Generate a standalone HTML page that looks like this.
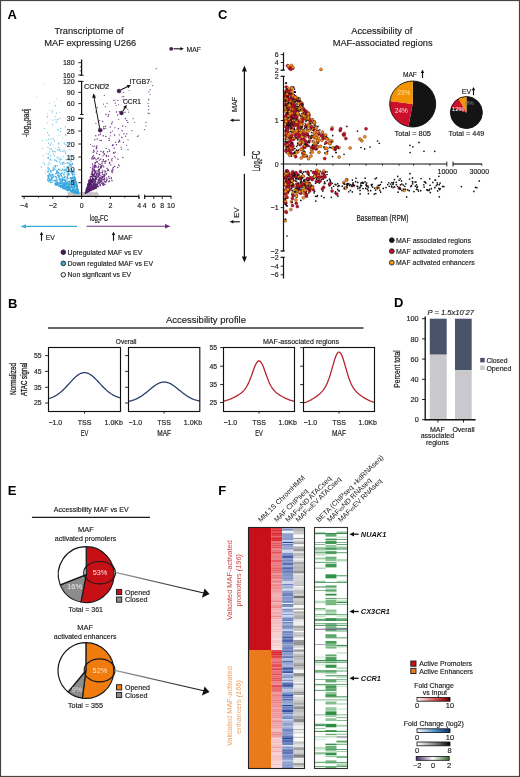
<!DOCTYPE html>
<html><head><meta charset="utf-8"><style>
html,body{margin:0;padding:0;background:#fff;}
svg{display:block;font-family:"Liberation Sans", sans-serif;will-change:transform;}
</style></head><body>
<svg width="520" height="777" viewBox="0 0 520 777">
<rect x="0.00" y="0.00" width="520.00" height="777.00" fill="#ffffff" />
<text x="7.60" y="18.70" font-size="13" text-anchor="start" fill="#000" font-weight="bold" >A</text>
<text x="217.90" y="18.70" font-size="13" text-anchor="start" fill="#000" font-weight="bold" >C</text>
<text x="7.90" y="307.50" font-size="13" text-anchor="start" fill="#000" font-weight="bold" >B</text>
<text x="394.00" y="307.30" font-size="13" text-anchor="start" fill="#000" font-weight="bold" >D</text>
<text x="7.80" y="495.10" font-size="13" text-anchor="start" fill="#000" font-weight="bold" >E</text>
<text x="218.20" y="495.10" font-size="13" text-anchor="start" fill="#000" font-weight="bold" >F</text>
<path d="M70,195.6 L74,193.2 L81.6,192.0 L90,193.0 L97,195.6 Z" fill="#d2d2d2"/>
<circle cx="80.50" cy="192.63" r="0.75" fill="#c6c6c6" />
<circle cx="92.76" cy="193.44" r="0.75" fill="#c6c6c6" />
<circle cx="79.05" cy="193.14" r="0.75" fill="#c6c6c6" />
<circle cx="84.98" cy="193.05" r="0.75" fill="#c6c6c6" />
<circle cx="71.73" cy="193.81" r="0.75" fill="#c6c6c6" />
<circle cx="84.86" cy="193.09" r="0.75" fill="#c6c6c6" />
<circle cx="84.60" cy="193.59" r="0.75" fill="#c6c6c6" />
<circle cx="96.74" cy="192.86" r="0.75" fill="#c6c6c6" />
<circle cx="97.36" cy="193.75" r="0.75" fill="#c6c6c6" />
<circle cx="83.12" cy="193.01" r="0.75" fill="#c6c6c6" />
<circle cx="89.57" cy="193.13" r="0.75" fill="#c6c6c6" />
<circle cx="78.25" cy="192.67" r="0.75" fill="#c6c6c6" />
<circle cx="78.19" cy="195.31" r="0.75" fill="#c6c6c6" />
<circle cx="97.36" cy="194.68" r="0.75" fill="#c6c6c6" />
<circle cx="68.10" cy="195.23" r="0.75" fill="#c6c6c6" />
<circle cx="94.12" cy="194.76" r="0.75" fill="#c6c6c6" />
<circle cx="73.37" cy="192.88" r="0.75" fill="#c6c6c6" />
<circle cx="80.44" cy="195.08" r="0.75" fill="#c6c6c6" />
<circle cx="85.34" cy="194.66" r="0.75" fill="#c6c6c6" />
<circle cx="74.98" cy="194.07" r="0.75" fill="#c6c6c6" />
<circle cx="89.28" cy="194.91" r="0.75" fill="#c6c6c6" />
<circle cx="92.21" cy="193.25" r="0.75" fill="#c6c6c6" />
<circle cx="94.20" cy="193.21" r="0.75" fill="#c6c6c6" />
<circle cx="92.06" cy="194.15" r="0.75" fill="#c6c6c6" />
<circle cx="73.57" cy="194.25" r="0.75" fill="#c6c6c6" />
<circle cx="83.55" cy="195.28" r="0.75" fill="#c6c6c6" />
<circle cx="69.25" cy="193.06" r="0.75" fill="#c6c6c6" />
<circle cx="97.50" cy="194.93" r="0.75" fill="#c6c6c6" />
<circle cx="72.51" cy="193.24" r="0.75" fill="#c6c6c6" />
<circle cx="84.17" cy="193.04" r="0.75" fill="#c6c6c6" />
<circle cx="77.71" cy="192.74" r="0.75" fill="#c6c6c6" />
<circle cx="89.35" cy="192.82" r="0.75" fill="#c6c6c6" />
<circle cx="97.84" cy="195.18" r="0.75" fill="#c6c6c6" />
<circle cx="91.66" cy="194.76" r="0.75" fill="#c6c6c6" />
<circle cx="79.03" cy="194.50" r="0.75" fill="#c6c6c6" />
<circle cx="90.84" cy="193.95" r="0.75" fill="#c6c6c6" />
<circle cx="69.85" cy="194.35" r="0.75" fill="#c6c6c6" />
<circle cx="77.77" cy="194.31" r="0.75" fill="#c6c6c6" />
<circle cx="80.62" cy="195.27" r="0.75" fill="#c6c6c6" />
<circle cx="74.05" cy="194.75" r="0.75" fill="#c6c6c6" />
<circle cx="88.96" cy="194.16" r="0.75" fill="#c6c6c6" />
<circle cx="70.40" cy="193.06" r="0.75" fill="#c6c6c6" />
<circle cx="97.02" cy="193.25" r="0.75" fill="#c6c6c6" />
<circle cx="72.91" cy="193.41" r="0.75" fill="#c6c6c6" />
<circle cx="84.11" cy="194.05" r="0.75" fill="#c6c6c6" />
<circle cx="68.10" cy="192.61" r="0.75" fill="#c6c6c6" />
<circle cx="82.88" cy="193.12" r="0.75" fill="#c6c6c6" />
<circle cx="86.23" cy="194.84" r="0.75" fill="#c6c6c6" />
<circle cx="70.88" cy="194.01" r="0.75" fill="#c6c6c6" />
<circle cx="80.18" cy="194.81" r="0.75" fill="#c6c6c6" />
<circle cx="96.64" cy="193.77" r="0.75" fill="#c6c6c6" />
<circle cx="75.30" cy="195.06" r="0.75" fill="#c6c6c6" />
<circle cx="68.82" cy="193.53" r="0.75" fill="#c6c6c6" />
<circle cx="79.84" cy="193.10" r="0.75" fill="#c6c6c6" />
<circle cx="88.40" cy="194.05" r="0.75" fill="#c6c6c6" />
<circle cx="75.47" cy="193.76" r="0.75" fill="#c6c6c6" />
<circle cx="88.76" cy="193.51" r="0.75" fill="#c6c6c6" />
<circle cx="70.03" cy="193.89" r="0.75" fill="#c6c6c6" />
<circle cx="73.85" cy="194.34" r="0.75" fill="#c6c6c6" />
<circle cx="74.06" cy="192.98" r="0.75" fill="#c6c6c6" />
<circle cx="94.82" cy="193.52" r="0.75" fill="#c6c6c6" />
<circle cx="76.77" cy="194.11" r="0.75" fill="#c6c6c6" />
<circle cx="88.80" cy="194.48" r="0.75" fill="#c6c6c6" />
<circle cx="91.95" cy="193.33" r="0.75" fill="#c6c6c6" />
<circle cx="80.81" cy="193.62" r="0.75" fill="#c6c6c6" />
<circle cx="83.50" cy="194.21" r="0.75" fill="#c6c6c6" />
<circle cx="86.88" cy="192.79" r="0.75" fill="#c6c6c6" />
<circle cx="79.14" cy="194.58" r="0.75" fill="#c6c6c6" />
<circle cx="69.06" cy="194.69" r="0.75" fill="#c6c6c6" />
<circle cx="88.58" cy="193.73" r="0.75" fill="#c6c6c6" />
<circle cx="81.48" cy="193.34" r="0.75" fill="#c6c6c6" />
<circle cx="90.12" cy="193.95" r="0.75" fill="#c6c6c6" />
<circle cx="75.95" cy="192.68" r="0.75" fill="#c6c6c6" />
<circle cx="78.35" cy="195.18" r="0.75" fill="#c6c6c6" />
<circle cx="88.28" cy="194.35" r="0.75" fill="#c6c6c6" />
<circle cx="96.02" cy="192.69" r="0.75" fill="#c6c6c6" />
<circle cx="86.07" cy="193.13" r="0.75" fill="#c6c6c6" />
<circle cx="79.91" cy="193.11" r="0.75" fill="#c6c6c6" />
<circle cx="78.47" cy="195.12" r="0.75" fill="#c6c6c6" />
<circle cx="89.76" cy="194.97" r="0.75" fill="#c6c6c6" />
<circle cx="70.26" cy="193.44" r="0.75" fill="#c6c6c6" />
<circle cx="91.52" cy="192.71" r="0.75" fill="#c6c6c6" />
<circle cx="73.69" cy="192.83" r="0.75" fill="#c6c6c6" />
<circle cx="92.53" cy="193.25" r="0.75" fill="#c6c6c6" />
<circle cx="80.73" cy="192.64" r="0.75" fill="#c6c6c6" />
<circle cx="71.41" cy="194.04" r="0.75" fill="#c6c6c6" />
<circle cx="91.74" cy="193.55" r="0.75" fill="#c6c6c6" />
<circle cx="77.58" cy="192.71" r="0.75" fill="#c6c6c6" />
<circle cx="70.99" cy="193.02" r="0.75" fill="#c6c6c6" />
<circle cx="74.19" cy="194.20" r="0.75" fill="#c6c6c6" />
<circle cx="78.77" cy="195.34" r="0.75" fill="#c6c6c6" />
<circle cx="76.52" cy="195.00" r="0.75" fill="#c6c6c6" />
<circle cx="70.75" cy="194.08" r="0.75" fill="#c6c6c6" />
<circle cx="84.48" cy="194.44" r="0.75" fill="#c6c6c6" />
<circle cx="80.30" cy="194.07" r="0.75" fill="#c6c6c6" />
<circle cx="91.33" cy="193.02" r="0.75" fill="#c6c6c6" />
<circle cx="83.95" cy="194.25" r="0.75" fill="#c6c6c6" />
<circle cx="91.45" cy="193.06" r="0.75" fill="#c6c6c6" />
<circle cx="80.44" cy="192.67" r="0.75" fill="#c6c6c6" />
<circle cx="87.88" cy="195.03" r="0.75" fill="#c6c6c6" />
<circle cx="78.61" cy="194.89" r="0.75" fill="#c6c6c6" />
<circle cx="87.74" cy="192.65" r="0.75" fill="#c6c6c6" />
<circle cx="82.11" cy="192.73" r="0.75" fill="#c6c6c6" />
<circle cx="77.40" cy="194.84" r="0.75" fill="#c6c6c6" />
<circle cx="71.76" cy="194.18" r="0.75" fill="#c6c6c6" />
<circle cx="69.70" cy="192.91" r="0.75" fill="#c6c6c6" />
<circle cx="96.56" cy="192.87" r="0.75" fill="#c6c6c6" />
<circle cx="73.22" cy="195.23" r="0.75" fill="#c6c6c6" />
<circle cx="77.27" cy="193.21" r="0.75" fill="#c6c6c6" />
<circle cx="70.89" cy="194.00" r="0.75" fill="#c6c6c6" />
<circle cx="69.77" cy="193.22" r="0.75" fill="#c6c6c6" />
<circle cx="74.66" cy="194.69" r="0.75" fill="#c6c6c6" />
<circle cx="72.86" cy="194.25" r="0.75" fill="#c6c6c6" />
<circle cx="75.25" cy="195.38" r="0.75" fill="#c6c6c6" />
<circle cx="97.72" cy="195.19" r="0.75" fill="#c6c6c6" />
<circle cx="95.00" cy="194.15" r="0.75" fill="#c6c6c6" />
<circle cx="95.93" cy="194.39" r="0.75" fill="#c6c6c6" />
<circle cx="72.78" cy="194.65" r="0.75" fill="#c6c6c6" />
<circle cx="93.48" cy="192.64" r="0.75" fill="#c6c6c6" />
<circle cx="73.85" cy="194.80" r="0.75" fill="#c6c6c6" />
<circle cx="91.04" cy="194.17" r="0.75" fill="#c6c6c6" />
<circle cx="71.67" cy="193.34" r="0.75" fill="#c6c6c6" />
<circle cx="75.07" cy="195.35" r="0.75" fill="#c6c6c6" />
<circle cx="74.76" cy="193.64" r="0.75" fill="#c6c6c6" />
<circle cx="88.67" cy="194.46" r="0.75" fill="#c6c6c6" />
<circle cx="84.87" cy="194.42" r="0.75" fill="#c6c6c6" />
<circle cx="93.95" cy="195.16" r="0.75" fill="#c6c6c6" />
<circle cx="71.25" cy="192.68" r="0.75" fill="#c6c6c6" />
<circle cx="95.41" cy="195.15" r="0.75" fill="#c6c6c6" />
<circle cx="79.04" cy="193.72" r="0.75" fill="#c6c6c6" />
<circle cx="88.55" cy="193.78" r="0.75" fill="#c6c6c6" />
<circle cx="71.33" cy="193.30" r="0.75" fill="#c6c6c6" />
<circle cx="77.11" cy="194.19" r="0.75" fill="#c6c6c6" />
<circle cx="73.14" cy="194.64" r="0.75" fill="#c6c6c6" />
<circle cx="97.09" cy="193.68" r="0.75" fill="#c6c6c6" />
<circle cx="85.11" cy="194.38" r="0.75" fill="#c6c6c6" />
<circle cx="91.94" cy="194.36" r="0.75" fill="#c6c6c6" />
<circle cx="83.50" cy="194.62" r="0.75" fill="#c6c6c6" />
<circle cx="68.71" cy="195.23" r="0.75" fill="#c6c6c6" />
<circle cx="94.96" cy="194.54" r="0.75" fill="#c6c6c6" />
<circle cx="74.05" cy="194.35" r="0.75" fill="#c6c6c6" />
<circle cx="68.84" cy="193.71" r="0.75" fill="#c6c6c6" />
<circle cx="74.46" cy="194.17" r="0.75" fill="#c6c6c6" />
<circle cx="75.51" cy="192.86" r="0.75" fill="#c6c6c6" />
<circle cx="91.82" cy="193.30" r="0.75" fill="#c6c6c6" />
<circle cx="84.79" cy="192.65" r="0.75" fill="#c6c6c6" />
<circle cx="84.90" cy="194.81" r="0.75" fill="#c6c6c6" />
<circle cx="91.55" cy="193.52" r="0.75" fill="#c6c6c6" />
<circle cx="71.85" cy="194.31" r="0.75" fill="#c6c6c6" />
<circle cx="77.20" cy="193.40" r="0.75" fill="#c6c6c6" />
<circle cx="74.30" cy="193.70" r="0.75" fill="#c6c6c6" />
<circle cx="88.47" cy="193.72" r="0.75" fill="#c6c6c6" />
<circle cx="87.39" cy="194.64" r="0.75" fill="#c6c6c6" />
<circle cx="92.31" cy="194.20" r="0.75" fill="#c6c6c6" />
<circle cx="97.71" cy="194.01" r="0.75" fill="#c6c6c6" />
<circle cx="84.12" cy="194.44" r="0.75" fill="#c6c6c6" />
<circle cx="97.14" cy="194.57" r="0.75" fill="#c6c6c6" />
<circle cx="95.51" cy="193.04" r="0.75" fill="#c6c6c6" />
<circle cx="80.66" cy="194.57" r="0.75" fill="#c6c6c6" />
<circle cx="89.98" cy="194.92" r="0.75" fill="#c6c6c6" />
<circle cx="75.99" cy="193.48" r="0.75" fill="#c6c6c6" />
<circle cx="80.38" cy="193.70" r="0.75" fill="#c6c6c6" />
<circle cx="70.78" cy="193.69" r="0.75" fill="#c6c6c6" />
<circle cx="87.27" cy="194.67" r="0.75" fill="#c6c6c6" />
<circle cx="74.90" cy="194.34" r="0.75" fill="#c6c6c6" />
<circle cx="90.53" cy="193.04" r="0.75" fill="#c6c6c6" />
<circle cx="68.43" cy="193.05" r="0.75" fill="#c6c6c6" />
<circle cx="88.37" cy="195.16" r="0.75" fill="#c6c6c6" />
<circle cx="79.62" cy="193.47" r="0.75" fill="#c6c6c6" />
<circle cx="86.82" cy="193.49" r="0.75" fill="#c6c6c6" />
<circle cx="51.43" cy="142.89" r="0.72" fill="#7cc6e8" />
<circle cx="66.94" cy="183.70" r="0.72" fill="#34a6dc" />
<circle cx="49.15" cy="162.61" r="0.72" fill="#7cc6e8" />
<circle cx="72.05" cy="170.45" r="0.72" fill="#4cb1e0" />
<circle cx="74.21" cy="176.44" r="0.72" fill="#34a6dc" />
<circle cx="53.31" cy="138.74" r="0.72" fill="#7cc6e8" />
<circle cx="72.46" cy="191.97" r="0.72" fill="#34a6dc" />
<circle cx="72.33" cy="189.67" r="0.72" fill="#34a6dc" />
<circle cx="74.47" cy="187.67" r="0.72" fill="#34a6dc" />
<circle cx="55.56" cy="181.74" r="0.72" fill="#4cb1e0" />
<circle cx="50.07" cy="175.06" r="0.72" fill="#4cb1e0" />
<circle cx="71.07" cy="164.18" r="0.72" fill="#4cb1e0" />
<circle cx="71.16" cy="171.71" r="0.72" fill="#4cb1e0" />
<circle cx="73.46" cy="184.90" r="0.72" fill="#34a6dc" />
<circle cx="49.91" cy="182.03" r="0.72" fill="#4cb1e0" />
<circle cx="50.85" cy="170.84" r="0.72" fill="#4cb1e0" />
<circle cx="59.82" cy="186.17" r="0.72" fill="#34a6dc" />
<circle cx="72.36" cy="188.88" r="0.72" fill="#34a6dc" />
<circle cx="76.11" cy="192.92" r="0.72" fill="#34a6dc" />
<circle cx="65.29" cy="185.35" r="0.72" fill="#34a6dc" />
<circle cx="67.83" cy="190.01" r="0.72" fill="#34a6dc" />
<circle cx="48.45" cy="177.39" r="0.72" fill="#4cb1e0" />
<circle cx="61.22" cy="179.60" r="0.72" fill="#34a6dc" />
<circle cx="65.23" cy="163.40" r="0.72" fill="#4cb1e0" />
<circle cx="68.19" cy="162.91" r="0.72" fill="#4cb1e0" />
<circle cx="73.61" cy="189.46" r="0.72" fill="#34a6dc" />
<circle cx="48.80" cy="178.01" r="0.72" fill="#4cb1e0" />
<circle cx="73.23" cy="178.90" r="0.72" fill="#34a6dc" />
<circle cx="53.22" cy="167.76" r="0.72" fill="#4cb1e0" />
<circle cx="78.75" cy="193.03" r="0.72" fill="#34a6dc" />
<circle cx="65.19" cy="181.49" r="0.72" fill="#34a6dc" />
<circle cx="65.80" cy="188.09" r="0.72" fill="#34a6dc" />
<circle cx="75.39" cy="190.26" r="0.72" fill="#34a6dc" />
<circle cx="65.90" cy="169.40" r="0.72" fill="#4cb1e0" />
<circle cx="53.18" cy="176.10" r="0.72" fill="#4cb1e0" />
<circle cx="56.42" cy="113.23" r="0.72" fill="#7cc6e8" />
<circle cx="59.33" cy="179.74" r="0.72" fill="#4cb1e0" />
<circle cx="64.63" cy="184.65" r="0.72" fill="#34a6dc" />
<circle cx="76.16" cy="185.55" r="0.72" fill="#34a6dc" />
<circle cx="70.88" cy="178.73" r="0.72" fill="#34a6dc" />
<circle cx="72.86" cy="182.20" r="0.72" fill="#34a6dc" />
<circle cx="63.00" cy="177.79" r="0.72" fill="#4cb1e0" />
<circle cx="57.12" cy="179.61" r="0.72" fill="#4cb1e0" />
<circle cx="62.60" cy="177.57" r="0.72" fill="#4cb1e0" />
<circle cx="62.57" cy="185.79" r="0.72" fill="#34a6dc" />
<circle cx="61.22" cy="182.41" r="0.72" fill="#34a6dc" />
<circle cx="74.83" cy="180.16" r="0.72" fill="#34a6dc" />
<circle cx="73.43" cy="192.05" r="0.72" fill="#34a6dc" />
<circle cx="64.60" cy="183.94" r="0.72" fill="#34a6dc" />
<circle cx="69.78" cy="188.72" r="0.72" fill="#34a6dc" />
<circle cx="66.34" cy="187.55" r="0.72" fill="#34a6dc" />
<circle cx="70.61" cy="189.02" r="0.72" fill="#34a6dc" />
<circle cx="67.76" cy="187.90" r="0.72" fill="#34a6dc" />
<circle cx="51.05" cy="182.43" r="0.72" fill="#4cb1e0" />
<circle cx="69.75" cy="188.95" r="0.72" fill="#34a6dc" />
<circle cx="65.87" cy="184.21" r="0.72" fill="#34a6dc" />
<circle cx="67.72" cy="189.83" r="0.72" fill="#34a6dc" />
<circle cx="62.84" cy="186.18" r="0.72" fill="#34a6dc" />
<circle cx="77.46" cy="193.28" r="0.72" fill="#34a6dc" />
<circle cx="71.20" cy="159.39" r="0.72" fill="#7cc6e8" />
<circle cx="67.34" cy="166.64" r="0.72" fill="#4cb1e0" />
<circle cx="69.01" cy="183.89" r="0.72" fill="#34a6dc" />
<circle cx="59.96" cy="175.66" r="0.72" fill="#4cb1e0" />
<circle cx="56.17" cy="160.52" r="0.72" fill="#7cc6e8" />
<circle cx="68.08" cy="175.02" r="0.72" fill="#4cb1e0" />
<circle cx="62.80" cy="182.35" r="0.72" fill="#34a6dc" />
<circle cx="47.85" cy="172.06" r="0.72" fill="#4cb1e0" />
<circle cx="59.17" cy="177.77" r="0.72" fill="#4cb1e0" />
<circle cx="72.68" cy="184.44" r="0.72" fill="#34a6dc" />
<circle cx="70.54" cy="156.56" r="0.72" fill="#7cc6e8" />
<circle cx="63.60" cy="185.47" r="0.72" fill="#34a6dc" />
<circle cx="68.93" cy="183.86" r="0.72" fill="#34a6dc" />
<circle cx="58.18" cy="176.72" r="0.72" fill="#4cb1e0" />
<circle cx="68.24" cy="172.92" r="0.72" fill="#4cb1e0" />
<circle cx="66.00" cy="145.03" r="0.72" fill="#7cc6e8" />
<circle cx="73.79" cy="191.22" r="0.72" fill="#34a6dc" />
<circle cx="73.82" cy="190.17" r="0.72" fill="#34a6dc" />
<circle cx="74.22" cy="190.39" r="0.72" fill="#34a6dc" />
<circle cx="68.79" cy="187.71" r="0.72" fill="#34a6dc" />
<circle cx="76.64" cy="187.01" r="0.72" fill="#34a6dc" />
<circle cx="48.18" cy="158.41" r="0.72" fill="#7cc6e8" />
<circle cx="71.61" cy="166.09" r="0.72" fill="#4cb1e0" />
<circle cx="56.01" cy="184.83" r="0.72" fill="#34a6dc" />
<circle cx="70.62" cy="177.77" r="0.72" fill="#34a6dc" />
<circle cx="71.42" cy="191.05" r="0.72" fill="#34a6dc" />
<circle cx="70.49" cy="189.12" r="0.72" fill="#34a6dc" />
<circle cx="66.14" cy="170.76" r="0.72" fill="#4cb1e0" />
<circle cx="73.51" cy="182.57" r="0.72" fill="#34a6dc" />
<circle cx="76.66" cy="184.41" r="0.72" fill="#34a6dc" />
<circle cx="69.83" cy="160.21" r="0.72" fill="#7cc6e8" />
<circle cx="77.08" cy="189.42" r="0.72" fill="#34a6dc" />
<circle cx="62.00" cy="183.15" r="0.72" fill="#34a6dc" />
<circle cx="77.41" cy="192.39" r="0.72" fill="#34a6dc" />
<circle cx="76.75" cy="188.03" r="0.72" fill="#34a6dc" />
<circle cx="76.74" cy="185.84" r="0.72" fill="#34a6dc" />
<circle cx="72.26" cy="190.95" r="0.72" fill="#34a6dc" />
<circle cx="64.07" cy="183.03" r="0.72" fill="#34a6dc" />
<circle cx="72.74" cy="189.17" r="0.72" fill="#34a6dc" />
<circle cx="69.72" cy="187.40" r="0.72" fill="#34a6dc" />
<circle cx="57.50" cy="149.65" r="0.72" fill="#7cc6e8" />
<circle cx="56.36" cy="177.48" r="0.72" fill="#4cb1e0" />
<circle cx="65.27" cy="188.28" r="0.72" fill="#34a6dc" />
<circle cx="67.17" cy="182.59" r="0.72" fill="#34a6dc" />
<circle cx="60.66" cy="180.87" r="0.72" fill="#34a6dc" />
<circle cx="54.41" cy="165.96" r="0.72" fill="#7cc6e8" />
<circle cx="51.82" cy="177.05" r="0.72" fill="#4cb1e0" />
<circle cx="68.48" cy="190.54" r="0.72" fill="#34a6dc" />
<circle cx="63.12" cy="180.62" r="0.72" fill="#34a6dc" />
<circle cx="72.04" cy="170.12" r="0.72" fill="#4cb1e0" />
<circle cx="59.75" cy="179.25" r="0.72" fill="#4cb1e0" />
<circle cx="66.85" cy="168.02" r="0.72" fill="#4cb1e0" />
<circle cx="50.98" cy="139.17" r="0.72" fill="#7cc6e8" />
<circle cx="75.64" cy="180.75" r="0.72" fill="#34a6dc" />
<circle cx="67.59" cy="186.66" r="0.72" fill="#34a6dc" />
<circle cx="66.80" cy="190.00" r="0.72" fill="#34a6dc" />
<circle cx="76.97" cy="188.82" r="0.72" fill="#34a6dc" />
<circle cx="52.11" cy="182.37" r="0.72" fill="#4cb1e0" />
<circle cx="65.00" cy="169.11" r="0.72" fill="#4cb1e0" />
<circle cx="67.95" cy="190.18" r="0.72" fill="#34a6dc" />
<circle cx="61.48" cy="170.60" r="0.72" fill="#4cb1e0" />
<circle cx="66.29" cy="188.89" r="0.72" fill="#34a6dc" />
<circle cx="65.27" cy="185.95" r="0.72" fill="#34a6dc" />
<circle cx="62.52" cy="187.18" r="0.72" fill="#34a6dc" />
<circle cx="63.01" cy="184.99" r="0.72" fill="#34a6dc" />
<circle cx="68.65" cy="183.84" r="0.72" fill="#34a6dc" />
<circle cx="64.51" cy="177.71" r="0.72" fill="#34a6dc" />
<circle cx="64.98" cy="186.32" r="0.72" fill="#34a6dc" />
<circle cx="49.93" cy="179.44" r="0.72" fill="#4cb1e0" />
<circle cx="55.11" cy="183.52" r="0.72" fill="#4cb1e0" />
<circle cx="75.42" cy="190.13" r="0.72" fill="#34a6dc" />
<circle cx="68.21" cy="173.73" r="0.72" fill="#4cb1e0" />
<circle cx="48.12" cy="175.31" r="0.72" fill="#4cb1e0" />
<circle cx="55.41" cy="183.06" r="0.72" fill="#4cb1e0" />
<circle cx="75.84" cy="189.23" r="0.72" fill="#34a6dc" />
<circle cx="73.61" cy="192.54" r="0.72" fill="#34a6dc" />
<circle cx="76.44" cy="182.13" r="0.72" fill="#34a6dc" />
<circle cx="68.65" cy="187.33" r="0.72" fill="#34a6dc" />
<circle cx="71.98" cy="191.01" r="0.72" fill="#34a6dc" />
<circle cx="67.31" cy="190.08" r="0.72" fill="#34a6dc" />
<circle cx="48.78" cy="169.93" r="0.72" fill="#4cb1e0" />
<circle cx="66.99" cy="187.68" r="0.72" fill="#34a6dc" />
<circle cx="55.81" cy="185.13" r="0.72" fill="#34a6dc" />
<circle cx="61.55" cy="186.21" r="0.72" fill="#34a6dc" />
<circle cx="47.67" cy="175.94" r="0.72" fill="#4cb1e0" />
<circle cx="65.23" cy="179.98" r="0.72" fill="#34a6dc" />
<circle cx="65.71" cy="189.09" r="0.72" fill="#34a6dc" />
<circle cx="74.12" cy="179.56" r="0.72" fill="#34a6dc" />
<circle cx="58.85" cy="185.68" r="0.72" fill="#34a6dc" />
<circle cx="47.55" cy="168.15" r="0.72" fill="#7cc6e8" />
<circle cx="54.36" cy="140.66" r="0.72" fill="#7cc6e8" />
<circle cx="48.14" cy="157.62" r="0.72" fill="#7cc6e8" />
<circle cx="54.45" cy="180.63" r="0.72" fill="#4cb1e0" />
<circle cx="52.02" cy="174.93" r="0.72" fill="#4cb1e0" />
<circle cx="75.48" cy="192.31" r="0.72" fill="#34a6dc" />
<circle cx="58.97" cy="184.55" r="0.72" fill="#34a6dc" />
<circle cx="71.33" cy="183.29" r="0.72" fill="#34a6dc" />
<circle cx="78.07" cy="191.42" r="0.72" fill="#34a6dc" />
<circle cx="56.85" cy="182.17" r="0.72" fill="#4cb1e0" />
<circle cx="60.70" cy="128.41" r="0.72" fill="#7cc6e8" />
<circle cx="76.12" cy="191.76" r="0.72" fill="#34a6dc" />
<circle cx="76.25" cy="189.42" r="0.72" fill="#34a6dc" />
<circle cx="71.62" cy="182.03" r="0.72" fill="#34a6dc" />
<circle cx="60.33" cy="183.65" r="0.72" fill="#34a6dc" />
<circle cx="69.91" cy="190.08" r="0.72" fill="#34a6dc" />
<circle cx="66.65" cy="171.07" r="0.72" fill="#4cb1e0" />
<circle cx="53.16" cy="180.86" r="0.72" fill="#4cb1e0" />
<circle cx="68.97" cy="174.71" r="0.72" fill="#4cb1e0" />
<circle cx="72.51" cy="163.38" r="0.72" fill="#4cb1e0" />
<circle cx="66.35" cy="186.18" r="0.72" fill="#34a6dc" />
<circle cx="50.97" cy="179.09" r="0.72" fill="#4cb1e0" />
<circle cx="65.01" cy="151.86" r="0.72" fill="#7cc6e8" />
<circle cx="65.78" cy="182.05" r="0.72" fill="#34a6dc" />
<circle cx="48.25" cy="178.43" r="0.72" fill="#4cb1e0" />
<circle cx="65.85" cy="183.79" r="0.72" fill="#34a6dc" />
<circle cx="60.41" cy="185.40" r="0.72" fill="#34a6dc" />
<circle cx="70.34" cy="160.20" r="0.72" fill="#7cc6e8" />
<circle cx="72.23" cy="164.56" r="0.72" fill="#4cb1e0" />
<circle cx="57.35" cy="184.46" r="0.72" fill="#34a6dc" />
<circle cx="52.18" cy="175.09" r="0.72" fill="#4cb1e0" />
<circle cx="74.86" cy="177.44" r="0.72" fill="#34a6dc" />
<circle cx="60.70" cy="187.02" r="0.72" fill="#34a6dc" />
<circle cx="52.86" cy="170.28" r="0.72" fill="#4cb1e0" />
<circle cx="68.17" cy="170.78" r="0.72" fill="#4cb1e0" />
<circle cx="74.58" cy="179.39" r="0.72" fill="#34a6dc" />
<circle cx="48.61" cy="176.74" r="0.72" fill="#4cb1e0" />
<circle cx="75.77" cy="189.84" r="0.72" fill="#34a6dc" />
<circle cx="61.73" cy="176.87" r="0.72" fill="#4cb1e0" />
<circle cx="75.54" cy="186.00" r="0.72" fill="#34a6dc" />
<circle cx="52.26" cy="174.81" r="0.72" fill="#4cb1e0" />
<circle cx="49.30" cy="180.37" r="0.72" fill="#4cb1e0" />
<circle cx="76.36" cy="193.10" r="0.72" fill="#34a6dc" />
<circle cx="74.21" cy="187.32" r="0.72" fill="#34a6dc" />
<circle cx="76.16" cy="186.39" r="0.72" fill="#34a6dc" />
<circle cx="64.08" cy="170.06" r="0.72" fill="#4cb1e0" />
<circle cx="71.63" cy="186.87" r="0.72" fill="#34a6dc" />
<circle cx="54.97" cy="160.47" r="0.72" fill="#7cc6e8" />
<circle cx="48.54" cy="177.90" r="0.72" fill="#4cb1e0" />
<circle cx="59.78" cy="183.34" r="0.72" fill="#34a6dc" />
<circle cx="61.97" cy="181.33" r="0.72" fill="#34a6dc" />
<circle cx="70.90" cy="168.78" r="0.72" fill="#4cb1e0" />
<circle cx="71.52" cy="169.45" r="0.72" fill="#4cb1e0" />
<circle cx="59.81" cy="118.20" r="0.72" fill="#7cc6e8" />
<circle cx="74.71" cy="185.51" r="0.72" fill="#34a6dc" />
<circle cx="48.67" cy="175.20" r="0.72" fill="#4cb1e0" />
<circle cx="57.67" cy="171.05" r="0.72" fill="#4cb1e0" />
<circle cx="52.60" cy="174.52" r="0.72" fill="#4cb1e0" />
<circle cx="52.48" cy="150.66" r="0.72" fill="#7cc6e8" />
<circle cx="49.84" cy="149.04" r="0.72" fill="#7cc6e8" />
<circle cx="71.41" cy="184.46" r="0.72" fill="#34a6dc" />
<circle cx="56.19" cy="177.21" r="0.72" fill="#4cb1e0" />
<circle cx="48.80" cy="180.53" r="0.72" fill="#4cb1e0" />
<circle cx="52.20" cy="174.20" r="0.72" fill="#4cb1e0" />
<circle cx="60.32" cy="181.09" r="0.72" fill="#34a6dc" />
<circle cx="77.21" cy="186.44" r="0.72" fill="#34a6dc" />
<circle cx="67.47" cy="166.70" r="0.72" fill="#4cb1e0" />
<circle cx="58.38" cy="172.39" r="0.72" fill="#4cb1e0" />
<circle cx="75.35" cy="181.62" r="0.72" fill="#34a6dc" />
<circle cx="57.99" cy="184.74" r="0.72" fill="#34a6dc" />
<circle cx="56.70" cy="172.71" r="0.72" fill="#4cb1e0" />
<circle cx="65.27" cy="126.89" r="0.72" fill="#7cc6e8" />
<circle cx="64.52" cy="188.04" r="0.72" fill="#34a6dc" />
<circle cx="69.19" cy="184.86" r="0.72" fill="#34a6dc" />
<circle cx="67.52" cy="172.15" r="0.72" fill="#4cb1e0" />
<circle cx="77.16" cy="188.87" r="0.72" fill="#34a6dc" />
<circle cx="72.92" cy="189.82" r="0.72" fill="#34a6dc" />
<circle cx="68.05" cy="188.80" r="0.72" fill="#34a6dc" />
<circle cx="60.99" cy="159.18" r="0.72" fill="#7cc6e8" />
<circle cx="57.82" cy="183.37" r="0.72" fill="#34a6dc" />
<circle cx="70.97" cy="190.92" r="0.72" fill="#34a6dc" />
<circle cx="68.73" cy="188.95" r="0.72" fill="#34a6dc" />
<circle cx="70.52" cy="190.24" r="0.72" fill="#34a6dc" />
<circle cx="67.34" cy="188.01" r="0.72" fill="#34a6dc" />
<circle cx="48.81" cy="176.54" r="0.72" fill="#4cb1e0" />
<circle cx="61.69" cy="185.88" r="0.72" fill="#34a6dc" />
<circle cx="71.80" cy="191.92" r="0.72" fill="#34a6dc" />
<circle cx="55.23" cy="165.49" r="0.72" fill="#7cc6e8" />
<circle cx="66.05" cy="171.85" r="0.72" fill="#4cb1e0" />
<circle cx="63.19" cy="156.62" r="0.72" fill="#7cc6e8" />
<circle cx="76.86" cy="189.48" r="0.72" fill="#34a6dc" />
<circle cx="67.06" cy="180.99" r="0.72" fill="#34a6dc" />
<circle cx="58.99" cy="176.66" r="0.72" fill="#4cb1e0" />
<circle cx="76.65" cy="187.24" r="0.72" fill="#34a6dc" />
<circle cx="62.48" cy="163.96" r="0.72" fill="#4cb1e0" />
<circle cx="56.03" cy="183.75" r="0.72" fill="#34a6dc" />
<circle cx="77.70" cy="190.19" r="0.72" fill="#34a6dc" />
<circle cx="56.63" cy="173.19" r="0.72" fill="#4cb1e0" />
<circle cx="56.77" cy="180.98" r="0.72" fill="#4cb1e0" />
<circle cx="71.78" cy="178.75" r="0.72" fill="#34a6dc" />
<circle cx="74.85" cy="181.23" r="0.72" fill="#34a6dc" />
<circle cx="70.82" cy="187.62" r="0.72" fill="#34a6dc" />
<circle cx="77.81" cy="192.45" r="0.72" fill="#34a6dc" />
<circle cx="59.14" cy="186.29" r="0.72" fill="#34a6dc" />
<circle cx="74.82" cy="174.68" r="0.72" fill="#34a6dc" />
<circle cx="67.59" cy="189.85" r="0.72" fill="#34a6dc" />
<circle cx="59.29" cy="175.75" r="0.72" fill="#4cb1e0" />
<circle cx="74.74" cy="192.19" r="0.72" fill="#34a6dc" />
<circle cx="69.54" cy="158.53" r="0.72" fill="#7cc6e8" />
<circle cx="74.46" cy="186.69" r="0.72" fill="#34a6dc" />
<circle cx="60.83" cy="164.10" r="0.72" fill="#4cb1e0" />
<circle cx="66.83" cy="159.76" r="0.72" fill="#7cc6e8" />
<circle cx="68.75" cy="186.10" r="0.72" fill="#34a6dc" />
<circle cx="63.14" cy="170.61" r="0.72" fill="#4cb1e0" />
<circle cx="65.16" cy="184.34" r="0.72" fill="#34a6dc" />
<circle cx="67.89" cy="186.41" r="0.72" fill="#34a6dc" />
<circle cx="50.73" cy="176.57" r="0.72" fill="#4cb1e0" />
<circle cx="61.44" cy="175.15" r="0.72" fill="#4cb1e0" />
<circle cx="72.55" cy="174.43" r="0.72" fill="#4cb1e0" />
<circle cx="72.63" cy="191.86" r="0.72" fill="#34a6dc" />
<circle cx="65.40" cy="180.46" r="0.72" fill="#34a6dc" />
<circle cx="67.23" cy="162.96" r="0.72" fill="#4cb1e0" />
<circle cx="60.37" cy="183.52" r="0.72" fill="#34a6dc" />
<circle cx="66.50" cy="169.66" r="0.72" fill="#4cb1e0" />
<circle cx="70.23" cy="164.42" r="0.72" fill="#4cb1e0" />
<circle cx="70.97" cy="171.89" r="0.72" fill="#4cb1e0" />
<circle cx="77.34" cy="193.08" r="0.72" fill="#34a6dc" />
<circle cx="51.39" cy="148.93" r="0.72" fill="#7cc6e8" />
<circle cx="73.84" cy="191.27" r="0.72" fill="#34a6dc" />
<circle cx="49.36" cy="173.20" r="0.72" fill="#4cb1e0" />
<circle cx="58.71" cy="176.48" r="0.72" fill="#4cb1e0" />
<circle cx="71.25" cy="161.42" r="0.72" fill="#4cb1e0" />
<circle cx="67.98" cy="187.81" r="0.72" fill="#34a6dc" />
<circle cx="62.84" cy="183.25" r="0.72" fill="#34a6dc" />
<circle cx="60.77" cy="151.24" r="0.72" fill="#7cc6e8" />
<circle cx="77.37" cy="191.46" r="0.72" fill="#34a6dc" />
<circle cx="71.23" cy="185.63" r="0.72" fill="#34a6dc" />
<circle cx="64.17" cy="166.87" r="0.72" fill="#4cb1e0" />
<circle cx="72.51" cy="178.80" r="0.72" fill="#34a6dc" />
<circle cx="65.57" cy="183.71" r="0.72" fill="#34a6dc" />
<circle cx="72.71" cy="187.89" r="0.72" fill="#34a6dc" />
<circle cx="56.62" cy="184.64" r="0.72" fill="#34a6dc" />
<circle cx="60.38" cy="131.47" r="0.72" fill="#7cc6e8" />
<circle cx="75.02" cy="192.29" r="0.72" fill="#34a6dc" />
<circle cx="71.16" cy="186.42" r="0.72" fill="#34a6dc" />
<circle cx="62.88" cy="188.52" r="0.72" fill="#34a6dc" />
<circle cx="51.71" cy="179.33" r="0.72" fill="#4cb1e0" />
<circle cx="67.37" cy="186.13" r="0.72" fill="#34a6dc" />
<circle cx="57.63" cy="175.23" r="0.72" fill="#4cb1e0" />
<circle cx="64.85" cy="184.90" r="0.72" fill="#34a6dc" />
<circle cx="55.18" cy="184.27" r="0.72" fill="#4cb1e0" />
<circle cx="62.25" cy="179.03" r="0.72" fill="#34a6dc" />
<circle cx="74.97" cy="177.62" r="0.72" fill="#34a6dc" />
<circle cx="77.46" cy="189.89" r="0.72" fill="#34a6dc" />
<circle cx="48.41" cy="180.66" r="0.72" fill="#4cb1e0" />
<circle cx="56.94" cy="183.38" r="0.72" fill="#34a6dc" />
<circle cx="60.83" cy="162.48" r="0.72" fill="#7cc6e8" />
<circle cx="57.69" cy="157.26" r="0.72" fill="#7cc6e8" />
<circle cx="68.86" cy="143.79" r="0.72" fill="#7cc6e8" />
<circle cx="73.94" cy="177.35" r="0.72" fill="#34a6dc" />
<circle cx="62.38" cy="186.14" r="0.72" fill="#34a6dc" />
<circle cx="72.81" cy="188.92" r="0.72" fill="#34a6dc" />
<circle cx="67.33" cy="177.04" r="0.72" fill="#34a6dc" />
<circle cx="73.57" cy="189.06" r="0.72" fill="#34a6dc" />
<circle cx="61.00" cy="183.79" r="0.72" fill="#34a6dc" />
<circle cx="62.25" cy="179.19" r="0.72" fill="#34a6dc" />
<circle cx="68.42" cy="173.27" r="0.72" fill="#4cb1e0" />
<circle cx="72.11" cy="186.51" r="0.72" fill="#34a6dc" />
<circle cx="58.83" cy="150.03" r="0.72" fill="#7cc6e8" />
<circle cx="51.43" cy="178.36" r="0.72" fill="#4cb1e0" />
<circle cx="58.31" cy="129.99" r="0.72" fill="#7cc6e8" />
<circle cx="59.28" cy="161.53" r="0.72" fill="#7cc6e8" />
<circle cx="62.18" cy="179.84" r="0.72" fill="#34a6dc" />
<circle cx="61.74" cy="185.51" r="0.72" fill="#34a6dc" />
<circle cx="53.34" cy="169.00" r="0.72" fill="#4cb1e0" />
<circle cx="70.00" cy="190.08" r="0.72" fill="#34a6dc" />
<circle cx="72.87" cy="174.66" r="0.72" fill="#34a6dc" />
<circle cx="78.20" cy="191.83" r="0.72" fill="#34a6dc" />
<circle cx="76.12" cy="182.64" r="0.72" fill="#34a6dc" />
<circle cx="74.92" cy="179.75" r="0.72" fill="#34a6dc" />
<circle cx="50.42" cy="170.91" r="0.72" fill="#4cb1e0" />
<circle cx="65.48" cy="134.27" r="0.72" fill="#7cc6e8" />
<circle cx="69.07" cy="185.72" r="0.72" fill="#34a6dc" />
<circle cx="77.06" cy="186.26" r="0.72" fill="#34a6dc" />
<circle cx="48.41" cy="153.97" r="0.72" fill="#7cc6e8" />
<circle cx="71.45" cy="178.62" r="0.72" fill="#34a6dc" />
<circle cx="50.74" cy="155.46" r="0.72" fill="#7cc6e8" />
<circle cx="70.61" cy="164.74" r="0.72" fill="#4cb1e0" />
<circle cx="76.75" cy="183.11" r="0.72" fill="#34a6dc" />
<circle cx="73.12" cy="191.39" r="0.72" fill="#34a6dc" />
<circle cx="76.76" cy="192.61" r="0.72" fill="#34a6dc" />
<circle cx="73.29" cy="192.37" r="0.72" fill="#34a6dc" />
<circle cx="69.39" cy="187.06" r="0.72" fill="#34a6dc" />
<circle cx="65.44" cy="185.62" r="0.72" fill="#34a6dc" />
<circle cx="58.35" cy="169.26" r="0.72" fill="#4cb1e0" />
<circle cx="58.66" cy="143.11" r="0.72" fill="#7cc6e8" />
<circle cx="50.75" cy="180.58" r="0.72" fill="#4cb1e0" />
<circle cx="67.94" cy="175.05" r="0.72" fill="#4cb1e0" />
<circle cx="75.42" cy="180.06" r="0.72" fill="#34a6dc" />
<circle cx="67.59" cy="183.10" r="0.72" fill="#34a6dc" />
<circle cx="50.87" cy="182.51" r="0.72" fill="#4cb1e0" />
<circle cx="65.17" cy="176.90" r="0.72" fill="#34a6dc" />
<circle cx="58.98" cy="182.87" r="0.72" fill="#34a6dc" />
<circle cx="67.83" cy="178.36" r="0.72" fill="#34a6dc" />
<circle cx="65.80" cy="135.28" r="0.72" fill="#7cc6e8" />
<circle cx="69.51" cy="182.30" r="0.72" fill="#34a6dc" />
<circle cx="60.10" cy="186.19" r="0.72" fill="#34a6dc" />
<circle cx="72.50" cy="177.33" r="0.72" fill="#34a6dc" />
<circle cx="64.26" cy="185.01" r="0.72" fill="#34a6dc" />
<circle cx="70.62" cy="166.45" r="0.72" fill="#4cb1e0" />
<circle cx="69.10" cy="165.81" r="0.72" fill="#4cb1e0" />
<circle cx="48.75" cy="168.30" r="0.72" fill="#7cc6e8" />
<circle cx="74.64" cy="178.72" r="0.72" fill="#34a6dc" />
<circle cx="67.61" cy="190.48" r="0.72" fill="#34a6dc" />
<circle cx="63.42" cy="185.99" r="0.72" fill="#34a6dc" />
<circle cx="61.06" cy="173.92" r="0.72" fill="#4cb1e0" />
<circle cx="57.54" cy="181.90" r="0.72" fill="#34a6dc" />
<circle cx="75.75" cy="189.58" r="0.72" fill="#34a6dc" />
<circle cx="72.75" cy="174.67" r="0.72" fill="#34a6dc" />
<circle cx="48.77" cy="175.49" r="0.72" fill="#4cb1e0" />
<circle cx="60.85" cy="183.60" r="0.72" fill="#34a6dc" />
<circle cx="64.19" cy="182.73" r="0.72" fill="#34a6dc" />
<circle cx="65.97" cy="184.24" r="0.72" fill="#34a6dc" />
<circle cx="53.51" cy="154.19" r="0.72" fill="#7cc6e8" />
<circle cx="69.85" cy="170.26" r="0.72" fill="#4cb1e0" />
<circle cx="52.25" cy="178.07" r="0.72" fill="#4cb1e0" />
<circle cx="74.83" cy="179.38" r="0.72" fill="#34a6dc" />
<circle cx="64.84" cy="180.03" r="0.72" fill="#34a6dc" />
<circle cx="72.41" cy="173.09" r="0.72" fill="#4cb1e0" />
<circle cx="73.69" cy="187.08" r="0.72" fill="#34a6dc" />
<circle cx="65.21" cy="183.83" r="0.72" fill="#34a6dc" />
<circle cx="54.76" cy="159.80" r="0.72" fill="#7cc6e8" />
<circle cx="57.45" cy="119.67" r="0.72" fill="#7cc6e8" />
<circle cx="78.44" cy="192.16" r="0.72" fill="#34a6dc" />
<circle cx="73.94" cy="182.92" r="0.72" fill="#34a6dc" />
<circle cx="65.49" cy="186.35" r="0.72" fill="#34a6dc" />
<circle cx="63.52" cy="179.51" r="0.72" fill="#34a6dc" />
<circle cx="76.07" cy="191.48" r="0.72" fill="#34a6dc" />
<circle cx="67.88" cy="185.07" r="0.72" fill="#34a6dc" />
<circle cx="60.04" cy="150.14" r="0.72" fill="#7cc6e8" />
<circle cx="65.37" cy="186.16" r="0.72" fill="#34a6dc" />
<circle cx="58.77" cy="159.24" r="0.72" fill="#7cc6e8" />
<circle cx="59.89" cy="170.02" r="0.72" fill="#4cb1e0" />
<circle cx="66.90" cy="182.16" r="0.72" fill="#34a6dc" />
<circle cx="72.68" cy="190.84" r="0.72" fill="#34a6dc" />
<circle cx="55.24" cy="180.32" r="0.72" fill="#4cb1e0" />
<circle cx="74.11" cy="191.10" r="0.72" fill="#34a6dc" />
<circle cx="70.69" cy="190.85" r="0.72" fill="#34a6dc" />
<circle cx="49.70" cy="178.90" r="0.72" fill="#4cb1e0" />
<circle cx="62.56" cy="180.27" r="0.72" fill="#34a6dc" />
<circle cx="74.31" cy="183.88" r="0.72" fill="#34a6dc" />
<circle cx="77.27" cy="186.29" r="0.72" fill="#34a6dc" />
<circle cx="53.04" cy="151.79" r="0.72" fill="#7cc6e8" />
<circle cx="58.90" cy="183.09" r="0.72" fill="#34a6dc" />
<circle cx="59.11" cy="173.51" r="0.72" fill="#4cb1e0" />
<circle cx="59.46" cy="149.39" r="0.72" fill="#7cc6e8" />
<circle cx="64.99" cy="184.04" r="0.72" fill="#34a6dc" />
<circle cx="48.94" cy="135.13" r="0.72" fill="#7cc6e8" />
<circle cx="72.11" cy="172.13" r="0.72" fill="#4cb1e0" />
<circle cx="49.97" cy="160.10" r="0.72" fill="#7cc6e8" />
<circle cx="65.64" cy="153.05" r="0.72" fill="#7cc6e8" />
<circle cx="57.06" cy="184.43" r="0.72" fill="#34a6dc" />
<circle cx="51.85" cy="178.12" r="0.72" fill="#4cb1e0" />
<circle cx="62.63" cy="187.80" r="0.72" fill="#34a6dc" />
<circle cx="60.80" cy="159.72" r="0.72" fill="#7cc6e8" />
<circle cx="76.83" cy="192.69" r="0.72" fill="#34a6dc" />
<circle cx="53.90" cy="176.30" r="0.72" fill="#4cb1e0" />
<circle cx="71.85" cy="185.45" r="0.72" fill="#34a6dc" />
<circle cx="62.18" cy="187.54" r="0.72" fill="#34a6dc" />
<circle cx="71.28" cy="178.66" r="0.72" fill="#34a6dc" />
<circle cx="78.26" cy="192.52" r="0.72" fill="#34a6dc" />
<circle cx="69.38" cy="187.69" r="0.72" fill="#34a6dc" />
<circle cx="71.64" cy="182.91" r="0.72" fill="#34a6dc" />
<circle cx="54.59" cy="168.93" r="0.72" fill="#4cb1e0" />
<circle cx="57.06" cy="182.64" r="0.72" fill="#34a6dc" />
<circle cx="56.90" cy="185.07" r="0.72" fill="#34a6dc" />
<circle cx="78.17" cy="189.98" r="0.72" fill="#34a6dc" />
<circle cx="64.47" cy="172.68" r="0.72" fill="#4cb1e0" />
<circle cx="62.15" cy="185.49" r="0.72" fill="#34a6dc" />
<circle cx="63.55" cy="185.78" r="0.72" fill="#34a6dc" />
<circle cx="52.30" cy="177.29" r="0.72" fill="#4cb1e0" />
<circle cx="69.02" cy="181.54" r="0.72" fill="#34a6dc" />
<circle cx="64.63" cy="180.25" r="0.72" fill="#34a6dc" />
<circle cx="76.51" cy="186.52" r="0.72" fill="#34a6dc" />
<circle cx="57.56" cy="183.72" r="0.72" fill="#34a6dc" />
<circle cx="77.60" cy="191.01" r="0.72" fill="#34a6dc" />
<circle cx="78.31" cy="192.72" r="0.72" fill="#34a6dc" />
<circle cx="59.61" cy="186.10" r="0.72" fill="#34a6dc" />
<circle cx="70.65" cy="191.19" r="0.72" fill="#34a6dc" />
<circle cx="71.58" cy="172.74" r="0.72" fill="#4cb1e0" />
<circle cx="76.59" cy="183.46" r="0.72" fill="#34a6dc" />
<circle cx="63.08" cy="188.55" r="0.72" fill="#34a6dc" />
<circle cx="73.50" cy="171.77" r="0.72" fill="#4cb1e0" />
<circle cx="73.75" cy="186.72" r="0.72" fill="#34a6dc" />
<circle cx="63.93" cy="184.21" r="0.72" fill="#34a6dc" />
<circle cx="70.07" cy="190.16" r="0.72" fill="#34a6dc" />
<circle cx="54.60" cy="155.93" r="0.72" fill="#7cc6e8" />
<circle cx="73.06" cy="183.82" r="0.72" fill="#34a6dc" />
<circle cx="63.18" cy="163.26" r="0.72" fill="#4cb1e0" />
<circle cx="50.00" cy="175.18" r="0.72" fill="#4cb1e0" />
<circle cx="50.21" cy="145.31" r="0.72" fill="#7cc6e8" />
<circle cx="62.41" cy="169.24" r="0.72" fill="#4cb1e0" />
<circle cx="72.77" cy="171.53" r="0.72" fill="#4cb1e0" />
<circle cx="54.81" cy="169.54" r="0.72" fill="#4cb1e0" />
<circle cx="52.05" cy="180.82" r="0.72" fill="#4cb1e0" />
<circle cx="73.05" cy="173.19" r="0.72" fill="#4cb1e0" />
<circle cx="60.46" cy="179.04" r="0.72" fill="#4cb1e0" />
<circle cx="66.98" cy="178.97" r="0.72" fill="#34a6dc" />
<circle cx="74.33" cy="184.81" r="0.72" fill="#34a6dc" />
<circle cx="75.01" cy="192.72" r="0.72" fill="#34a6dc" />
<circle cx="70.32" cy="184.68" r="0.72" fill="#34a6dc" />
<circle cx="48.00" cy="164.87" r="0.72" fill="#7cc6e8" />
<circle cx="64.09" cy="150.54" r="0.72" fill="#7cc6e8" />
<circle cx="74.09" cy="185.28" r="0.72" fill="#34a6dc" />
<circle cx="78.70" cy="193.55" r="0.72" fill="#34a6dc" />
<circle cx="67.69" cy="190.45" r="0.72" fill="#34a6dc" />
<circle cx="64.23" cy="142.88" r="0.72" fill="#7cc6e8" />
<circle cx="73.28" cy="181.29" r="0.72" fill="#34a6dc" />
<circle cx="56.31" cy="179.68" r="0.72" fill="#4cb1e0" />
<circle cx="65.60" cy="183.80" r="0.72" fill="#34a6dc" />
<circle cx="53.59" cy="176.98" r="0.72" fill="#4cb1e0" />
<circle cx="76.95" cy="191.99" r="0.72" fill="#34a6dc" />
<circle cx="75.76" cy="182.26" r="0.72" fill="#34a6dc" />
<circle cx="69.39" cy="184.10" r="0.72" fill="#34a6dc" />
<circle cx="60.69" cy="187.12" r="0.72" fill="#34a6dc" />
<circle cx="67.49" cy="188.81" r="0.72" fill="#34a6dc" />
<circle cx="52.94" cy="174.61" r="0.72" fill="#4cb1e0" />
<circle cx="49.67" cy="151.92" r="0.72" fill="#7cc6e8" />
<circle cx="54.83" cy="119.85" r="0.72" fill="#7cc6e8" />
<circle cx="64.52" cy="170.51" r="0.72" fill="#4cb1e0" />
<circle cx="48.28" cy="157.31" r="0.72" fill="#7cc6e8" />
<circle cx="75.16" cy="178.74" r="0.72" fill="#34a6dc" />
<circle cx="67.18" cy="177.61" r="0.72" fill="#34a6dc" />
<circle cx="58.96" cy="178.34" r="0.72" fill="#4cb1e0" />
<circle cx="69.63" cy="187.14" r="0.72" fill="#34a6dc" />
<circle cx="57.03" cy="180.90" r="0.72" fill="#4cb1e0" />
<circle cx="76.51" cy="186.49" r="0.72" fill="#34a6dc" />
<circle cx="64.98" cy="143.97" r="0.72" fill="#7cc6e8" />
<circle cx="50.23" cy="174.48" r="0.72" fill="#4cb1e0" />
<circle cx="70.09" cy="149.94" r="0.72" fill="#7cc6e8" />
<circle cx="76.11" cy="192.16" r="0.72" fill="#34a6dc" />
<circle cx="74.18" cy="192.67" r="0.72" fill="#34a6dc" />
<circle cx="73.18" cy="191.73" r="0.72" fill="#34a6dc" />
<circle cx="50.52" cy="159.18" r="0.72" fill="#7cc6e8" />
<circle cx="61.46" cy="181.40" r="0.72" fill="#34a6dc" />
<circle cx="69.65" cy="189.24" r="0.72" fill="#34a6dc" />
<circle cx="60.52" cy="159.81" r="0.72" fill="#7cc6e8" />
<circle cx="58.75" cy="147.49" r="0.72" fill="#7cc6e8" />
<circle cx="75.88" cy="181.99" r="0.72" fill="#34a6dc" />
<circle cx="63.30" cy="188.41" r="0.72" fill="#34a6dc" />
<circle cx="69.04" cy="189.99" r="0.72" fill="#34a6dc" />
<circle cx="63.08" cy="186.11" r="0.72" fill="#34a6dc" />
<circle cx="69.61" cy="163.67" r="0.72" fill="#4cb1e0" />
<circle cx="74.54" cy="191.26" r="0.72" fill="#34a6dc" />
<circle cx="74.88" cy="183.84" r="0.72" fill="#34a6dc" />
<circle cx="70.89" cy="182.86" r="0.72" fill="#34a6dc" />
<circle cx="68.73" cy="185.17" r="0.72" fill="#34a6dc" />
<circle cx="73.28" cy="183.28" r="0.72" fill="#34a6dc" />
<circle cx="50.58" cy="171.74" r="0.72" fill="#4cb1e0" />
<circle cx="54.68" cy="180.53" r="0.72" fill="#4cb1e0" />
<circle cx="74.29" cy="190.76" r="0.72" fill="#34a6dc" />
<circle cx="70.75" cy="182.82" r="0.72" fill="#34a6dc" />
<circle cx="58.84" cy="169.29" r="0.72" fill="#4cb1e0" />
<circle cx="68.10" cy="182.66" r="0.72" fill="#34a6dc" />
<circle cx="65.82" cy="159.59" r="0.72" fill="#7cc6e8" />
<circle cx="47.59" cy="180.19" r="0.72" fill="#4cb1e0" />
<circle cx="61.19" cy="173.25" r="0.72" fill="#4cb1e0" />
<circle cx="66.07" cy="186.93" r="0.72" fill="#34a6dc" />
<circle cx="51.11" cy="171.77" r="0.72" fill="#4cb1e0" />
<circle cx="73.45" cy="177.51" r="0.72" fill="#34a6dc" />
<circle cx="70.08" cy="180.87" r="0.72" fill="#34a6dc" />
<circle cx="67.53" cy="176.11" r="0.72" fill="#34a6dc" />
<circle cx="65.56" cy="154.05" r="0.72" fill="#7cc6e8" />
<circle cx="73.13" cy="186.78" r="0.72" fill="#34a6dc" />
<circle cx="72.16" cy="173.62" r="0.72" fill="#4cb1e0" />
<circle cx="48.66" cy="180.98" r="0.72" fill="#4cb1e0" />
<circle cx="71.28" cy="181.17" r="0.72" fill="#34a6dc" />
<circle cx="52.06" cy="178.11" r="0.72" fill="#4cb1e0" />
<circle cx="67.20" cy="174.45" r="0.72" fill="#4cb1e0" />
<circle cx="66.88" cy="184.55" r="0.72" fill="#34a6dc" />
<circle cx="77.35" cy="187.55" r="0.72" fill="#34a6dc" />
<circle cx="56.55" cy="178.10" r="0.72" fill="#4cb1e0" />
<circle cx="56.96" cy="170.42" r="0.72" fill="#4cb1e0" />
<circle cx="63.40" cy="183.95" r="0.72" fill="#34a6dc" />
<circle cx="77.66" cy="189.06" r="0.72" fill="#34a6dc" />
<circle cx="55.43" cy="176.50" r="0.72" fill="#4cb1e0" />
<circle cx="47.85" cy="180.58" r="0.72" fill="#4cb1e0" />
<circle cx="69.42" cy="174.26" r="0.72" fill="#4cb1e0" />
<circle cx="52.21" cy="111.00" r="0.72" fill="#7cc6e8" />
<circle cx="65.83" cy="189.54" r="0.72" fill="#34a6dc" />
<circle cx="71.86" cy="190.60" r="0.72" fill="#34a6dc" />
<circle cx="57.29" cy="165.83" r="0.72" fill="#4cb1e0" />
<circle cx="48.54" cy="139.57" r="0.72" fill="#7cc6e8" />
<circle cx="64.52" cy="188.66" r="0.72" fill="#34a6dc" />
<circle cx="62.94" cy="151.51" r="0.72" fill="#7cc6e8" />
<circle cx="60.24" cy="158.01" r="0.72" fill="#7cc6e8" />
<circle cx="64.00" cy="187.46" r="0.72" fill="#34a6dc" />
<circle cx="59.25" cy="185.48" r="0.72" fill="#34a6dc" />
<circle cx="68.28" cy="169.76" r="0.72" fill="#4cb1e0" />
<circle cx="56.89" cy="172.14" r="0.72" fill="#4cb1e0" />
<circle cx="64.71" cy="184.18" r="0.72" fill="#34a6dc" />
<circle cx="63.93" cy="186.04" r="0.72" fill="#34a6dc" />
<circle cx="58.55" cy="174.96" r="0.72" fill="#4cb1e0" />
<circle cx="62.33" cy="173.06" r="0.72" fill="#4cb1e0" />
<circle cx="63.48" cy="162.07" r="0.72" fill="#7cc6e8" />
<circle cx="76.59" cy="192.92" r="0.72" fill="#34a6dc" />
<circle cx="56.93" cy="171.40" r="0.72" fill="#4cb1e0" />
<circle cx="73.26" cy="180.66" r="0.72" fill="#34a6dc" />
<circle cx="68.27" cy="159.72" r="0.72" fill="#7cc6e8" />
<circle cx="69.28" cy="184.79" r="0.72" fill="#34a6dc" />
<circle cx="72.64" cy="171.78" r="0.72" fill="#4cb1e0" />
<circle cx="60.14" cy="180.26" r="0.72" fill="#34a6dc" />
<circle cx="52.54" cy="124.65" r="0.72" fill="#7cc6e8" />
<circle cx="73.09" cy="180.41" r="0.72" fill="#34a6dc" />
<circle cx="56.65" cy="172.06" r="0.72" fill="#4cb1e0" />
<circle cx="65.28" cy="183.40" r="0.72" fill="#34a6dc" />
<circle cx="65.60" cy="187.22" r="0.72" fill="#34a6dc" />
<circle cx="73.45" cy="181.02" r="0.72" fill="#34a6dc" />
<circle cx="71.64" cy="187.49" r="0.72" fill="#34a6dc" />
<circle cx="55.35" cy="151.72" r="0.72" fill="#7cc6e8" />
<circle cx="55.68" cy="184.62" r="0.72" fill="#34a6dc" />
<circle cx="64.01" cy="174.92" r="0.72" fill="#4cb1e0" />
<circle cx="63.79" cy="174.11" r="0.72" fill="#4cb1e0" />
<circle cx="68.24" cy="187.15" r="0.72" fill="#34a6dc" />
<circle cx="77.93" cy="189.67" r="0.72" fill="#34a6dc" />
<circle cx="53.89" cy="151.57" r="0.72" fill="#7cc6e8" />
<circle cx="74.78" cy="192.92" r="0.72" fill="#34a6dc" />
<circle cx="75.33" cy="191.26" r="0.72" fill="#34a6dc" />
<circle cx="74.16" cy="172.22" r="0.72" fill="#4cb1e0" />
<circle cx="48.04" cy="171.07" r="0.72" fill="#4cb1e0" />
<circle cx="60.88" cy="186.50" r="0.72" fill="#34a6dc" />
<circle cx="77.19" cy="190.67" r="0.72" fill="#34a6dc" />
<circle cx="75.28" cy="189.58" r="0.72" fill="#34a6dc" />
<circle cx="75.25" cy="192.32" r="0.72" fill="#34a6dc" />
<circle cx="56.27" cy="122.06" r="0.72" fill="#7cc6e8" />
<circle cx="75.74" cy="184.54" r="0.72" fill="#34a6dc" />
<circle cx="64.17" cy="184.95" r="0.72" fill="#34a6dc" />
<circle cx="75.30" cy="192.73" r="0.72" fill="#34a6dc" />
<circle cx="70.65" cy="155.40" r="0.72" fill="#7cc6e8" />
<circle cx="73.42" cy="189.88" r="0.72" fill="#34a6dc" />
<circle cx="49.32" cy="168.81" r="0.72" fill="#7cc6e8" />
<circle cx="56.69" cy="161.72" r="0.72" fill="#7cc6e8" />
<circle cx="58.09" cy="173.70" r="0.72" fill="#4cb1e0" />
<circle cx="64.10" cy="184.34" r="0.72" fill="#34a6dc" />
<circle cx="53.17" cy="170.19" r="0.72" fill="#4cb1e0" />
<circle cx="74.87" cy="187.90" r="0.72" fill="#34a6dc" />
<circle cx="74.65" cy="184.45" r="0.72" fill="#34a6dc" />
<circle cx="62.61" cy="162.75" r="0.72" fill="#7cc6e8" />
<circle cx="55.73" cy="173.73" r="0.72" fill="#4cb1e0" />
<circle cx="49.51" cy="179.57" r="0.72" fill="#4cb1e0" />
<circle cx="71.52" cy="177.72" r="0.72" fill="#34a6dc" />
<circle cx="66.10" cy="183.76" r="0.72" fill="#34a6dc" />
<circle cx="68.96" cy="178.36" r="0.72" fill="#34a6dc" />
<circle cx="59.54" cy="182.62" r="0.72" fill="#34a6dc" />
<circle cx="57.33" cy="172.56" r="0.72" fill="#4cb1e0" />
<circle cx="55.32" cy="105.80" r="0.72" fill="#7cc6e8" />
<circle cx="67.70" cy="158.75" r="0.72" fill="#7cc6e8" />
<circle cx="48.23" cy="167.45" r="0.72" fill="#7cc6e8" />
<circle cx="64.99" cy="188.03" r="0.72" fill="#34a6dc" />
<circle cx="55.40" cy="166.23" r="0.72" fill="#4cb1e0" />
<circle cx="60.73" cy="174.23" r="0.72" fill="#4cb1e0" />
<circle cx="76.93" cy="184.92" r="0.72" fill="#34a6dc" />
<circle cx="47.88" cy="178.67" r="0.72" fill="#4cb1e0" />
<circle cx="64.78" cy="177.09" r="0.72" fill="#34a6dc" />
<circle cx="69.46" cy="181.47" r="0.72" fill="#34a6dc" />
<circle cx="69.84" cy="186.87" r="0.72" fill="#34a6dc" />
<circle cx="62.15" cy="184.81" r="0.72" fill="#34a6dc" />
<circle cx="72.00" cy="182.82" r="0.72" fill="#34a6dc" />
<circle cx="50.96" cy="180.22" r="0.72" fill="#4cb1e0" />
<circle cx="61.40" cy="175.89" r="0.72" fill="#4cb1e0" />
<circle cx="58.60" cy="143.14" r="0.72" fill="#7cc6e8" />
<circle cx="55.47" cy="167.00" r="0.72" fill="#4cb1e0" />
<circle cx="58.84" cy="135.56" r="0.60" fill="#9fd3ea" />
<circle cx="48.95" cy="164.24" r="0.60" fill="#6cbfe4" />
<circle cx="49.11" cy="163.51" r="0.60" fill="#9fd3ea" />
<circle cx="48.53" cy="143.21" r="0.60" fill="#6cbfe4" />
<circle cx="47.53" cy="113.00" r="0.60" fill="#9fd3ea" />
<circle cx="49.86" cy="110.02" r="0.60" fill="#9fd3ea" />
<circle cx="47.50" cy="132.68" r="0.60" fill="#6cbfe4" />
<circle cx="47.13" cy="117.19" r="0.60" fill="#9fd3ea" />
<circle cx="52.20" cy="112.78" r="0.60" fill="#9fd3ea" />
<circle cx="47.88" cy="147.45" r="0.60" fill="#6cbfe4" />
<circle cx="47.36" cy="122.74" r="0.60" fill="#6cbfe4" />
<circle cx="69.70" cy="162.39" r="0.60" fill="#9fd3ea" />
<circle cx="64.71" cy="162.01" r="0.60" fill="#9fd3ea" />
<circle cx="56.65" cy="157.83" r="0.60" fill="#9fd3ea" />
<circle cx="49.44" cy="103.51" r="0.60" fill="#9fd3ea" />
<circle cx="52.87" cy="144.77" r="0.60" fill="#9fd3ea" />
<circle cx="50.42" cy="144.61" r="0.60" fill="#9fd3ea" />
<circle cx="44.77" cy="164.99" r="0.60" fill="#6cbfe4" />
<circle cx="55.29" cy="148.11" r="0.60" fill="#9fd3ea" />
<circle cx="62.58" cy="138.61" r="0.60" fill="#9fd3ea" />
<circle cx="52.01" cy="160.04" r="0.60" fill="#9fd3ea" />
<circle cx="63.31" cy="163.89" r="0.60" fill="#9fd3ea" />
<circle cx="44.52" cy="163.70" r="0.60" fill="#6cbfe4" />
<circle cx="47.62" cy="116.18" r="0.60" fill="#6cbfe4" />
<circle cx="57.17" cy="129.28" r="0.60" fill="#9fd3ea" />
<circle cx="51.23" cy="164.25" r="0.60" fill="#9fd3ea" />
<circle cx="55.46" cy="116.56" r="0.60" fill="#6cbfe4" />
<circle cx="54.14" cy="101.74" r="0.60" fill="#9fd3ea" />
<circle cx="58.34" cy="144.12" r="0.60" fill="#9fd3ea" />
<circle cx="44.54" cy="128.53" r="0.60" fill="#6cbfe4" />
<circle cx="43.11" cy="162.57" r="0.60" fill="#8ccbe6" />
<circle cx="46.60" cy="140.22" r="0.60" fill="#8ccbe6" />
<circle cx="41.60" cy="167.61" r="0.60" fill="#8ccbe6" />
<circle cx="46.31" cy="170.27" r="0.60" fill="#8ccbe6" />
<circle cx="46.80" cy="153.50" r="0.60" fill="#8ccbe6" />
<circle cx="43.35" cy="155.97" r="0.60" fill="#8ccbe6" />
<circle cx="45.49" cy="172.93" r="0.60" fill="#8ccbe6" />
<circle cx="42.58" cy="148.14" r="0.60" fill="#8ccbe6" />
<circle cx="41.20" cy="166.78" r="0.60" fill="#8ccbe6" />
<circle cx="42.66" cy="140.91" r="0.60" fill="#8ccbe6" />
<circle cx="52.79" cy="120.14" r="0.55" fill="#b8cfe0" />
<circle cx="61.52" cy="101.24" r="0.55" fill="#b8cfe0" />
<circle cx="58.81" cy="119.57" r="0.55" fill="#b8cfe0" />
<circle cx="59.52" cy="112.47" r="0.55" fill="#b8cfe0" />
<circle cx="43.38" cy="84.50" r="0.55" fill="#b8cfe0" />
<circle cx="37.02" cy="96.73" r="0.55" fill="#b8cfe0" />
<circle cx="50.32" cy="119.76" r="0.55" fill="#b8cfe0" />
<circle cx="56.88" cy="98.88" r="0.55" fill="#b8cfe0" />
<circle cx="95.68" cy="165.54" r="0.72" fill="#6a3380" />
<circle cx="98.57" cy="180.49" r="0.72" fill="#6a3380" />
<circle cx="119.76" cy="141.31" r="0.72" fill="#6a3380" />
<circle cx="98.37" cy="169.75" r="0.72" fill="#6a3380" />
<circle cx="94.06" cy="184.44" r="0.72" fill="#55206b" />
<circle cx="89.47" cy="187.90" r="0.72" fill="#55206b" />
<circle cx="127.98" cy="149.60" r="0.72" fill="#6a3380" />
<circle cx="86.93" cy="187.83" r="0.72" fill="#55206b" />
<circle cx="93.21" cy="181.40" r="0.72" fill="#55206b" />
<circle cx="88.98" cy="181.33" r="0.72" fill="#55206b" />
<circle cx="96.51" cy="175.86" r="0.72" fill="#6a3380" />
<circle cx="85.89" cy="191.75" r="0.72" fill="#55206b" />
<circle cx="100.98" cy="175.94" r="0.72" fill="#6a3380" />
<circle cx="97.37" cy="151.14" r="0.72" fill="#6a3380" />
<circle cx="89.19" cy="191.45" r="0.72" fill="#55206b" />
<circle cx="102.40" cy="172.73" r="0.72" fill="#6a3380" />
<circle cx="96.57" cy="153.33" r="0.72" fill="#6a3380" />
<circle cx="92.82" cy="179.57" r="0.72" fill="#55206b" />
<circle cx="112.24" cy="172.45" r="0.72" fill="#6a3380" />
<circle cx="102.33" cy="177.72" r="0.72" fill="#6a3380" />
<circle cx="92.90" cy="189.02" r="0.72" fill="#55206b" />
<circle cx="89.58" cy="187.16" r="0.72" fill="#55206b" />
<circle cx="87.64" cy="190.38" r="0.72" fill="#55206b" />
<circle cx="103.34" cy="176.59" r="0.72" fill="#6a3380" />
<circle cx="97.31" cy="138.99" r="0.72" fill="#6a3380" />
<circle cx="100.34" cy="166.77" r="0.72" fill="#6a3380" />
<circle cx="105.76" cy="171.56" r="0.72" fill="#6a3380" />
<circle cx="85.38" cy="193.15" r="0.72" fill="#55206b" />
<circle cx="96.09" cy="159.78" r="0.72" fill="#6a3380" />
<circle cx="106.95" cy="168.50" r="0.72" fill="#6a3380" />
<circle cx="98.16" cy="167.52" r="0.72" fill="#6a3380" />
<circle cx="90.85" cy="189.26" r="0.72" fill="#55206b" />
<circle cx="98.67" cy="166.32" r="0.72" fill="#6a3380" />
<circle cx="122.09" cy="130.68" r="0.72" fill="#6a3380" />
<circle cx="98.51" cy="179.14" r="0.72" fill="#6a3380" />
<circle cx="102.13" cy="161.95" r="0.72" fill="#6a3380" />
<circle cx="102.08" cy="176.72" r="0.72" fill="#6a3380" />
<circle cx="111.30" cy="178.83" r="0.72" fill="#6a3380" />
<circle cx="101.51" cy="166.67" r="0.72" fill="#6a3380" />
<circle cx="101.33" cy="179.31" r="0.72" fill="#6a3380" />
<circle cx="113.56" cy="152.36" r="0.72" fill="#6a3380" />
<circle cx="104.67" cy="179.68" r="0.72" fill="#6a3380" />
<circle cx="103.23" cy="184.90" r="0.72" fill="#6a3380" />
<circle cx="89.43" cy="191.19" r="0.72" fill="#55206b" />
<circle cx="91.82" cy="188.91" r="0.72" fill="#55206b" />
<circle cx="96.84" cy="173.49" r="0.72" fill="#6a3380" />
<circle cx="103.02" cy="155.85" r="0.72" fill="#6a3380" />
<circle cx="101.26" cy="140.40" r="0.72" fill="#6a3380" />
<circle cx="87.26" cy="191.13" r="0.72" fill="#55206b" />
<circle cx="98.53" cy="174.56" r="0.72" fill="#6a3380" />
<circle cx="94.58" cy="171.81" r="0.72" fill="#6a3380" />
<circle cx="95.43" cy="188.52" r="0.72" fill="#55206b" />
<circle cx="87.55" cy="189.93" r="0.72" fill="#55206b" />
<circle cx="118.68" cy="165.06" r="0.72" fill="#6a3380" />
<circle cx="92.13" cy="181.41" r="0.72" fill="#55206b" />
<circle cx="103.22" cy="183.41" r="0.72" fill="#6a3380" />
<circle cx="100.94" cy="151.40" r="0.72" fill="#6a3380" />
<circle cx="94.89" cy="172.11" r="0.72" fill="#6a3380" />
<circle cx="108.79" cy="181.77" r="0.72" fill="#6a3380" />
<circle cx="98.88" cy="171.96" r="0.72" fill="#6a3380" />
<circle cx="90.91" cy="189.73" r="0.72" fill="#55206b" />
<circle cx="98.78" cy="163.77" r="0.72" fill="#6a3380" />
<circle cx="95.86" cy="181.72" r="0.72" fill="#55206b" />
<circle cx="91.29" cy="185.86" r="0.72" fill="#55206b" />
<circle cx="110.79" cy="165.08" r="0.72" fill="#6a3380" />
<circle cx="93.85" cy="185.24" r="0.72" fill="#55206b" />
<circle cx="89.03" cy="188.02" r="0.72" fill="#55206b" />
<circle cx="89.26" cy="185.32" r="0.72" fill="#55206b" />
<circle cx="93.27" cy="186.90" r="0.72" fill="#55206b" />
<circle cx="105.98" cy="174.10" r="0.72" fill="#6a3380" />
<circle cx="87.36" cy="192.35" r="0.72" fill="#55206b" />
<circle cx="111.83" cy="170.72" r="0.72" fill="#6a3380" />
<circle cx="86.42" cy="189.45" r="0.72" fill="#55206b" />
<circle cx="103.62" cy="151.52" r="0.72" fill="#6a3380" />
<circle cx="86.57" cy="189.75" r="0.72" fill="#55206b" />
<circle cx="97.16" cy="186.65" r="0.72" fill="#55206b" />
<circle cx="113.00" cy="144.67" r="0.72" fill="#6a3380" />
<circle cx="92.79" cy="168.35" r="0.72" fill="#6a3380" />
<circle cx="88.39" cy="185.25" r="0.72" fill="#55206b" />
<circle cx="87.66" cy="188.08" r="0.72" fill="#55206b" />
<circle cx="87.14" cy="190.76" r="0.72" fill="#55206b" />
<circle cx="103.25" cy="160.97" r="0.72" fill="#6a3380" />
<circle cx="92.32" cy="174.02" r="0.72" fill="#55206b" />
<circle cx="93.29" cy="189.62" r="0.72" fill="#55206b" />
<circle cx="95.86" cy="186.38" r="0.72" fill="#55206b" />
<circle cx="104.57" cy="174.26" r="0.72" fill="#6a3380" />
<circle cx="87.65" cy="185.66" r="0.72" fill="#55206b" />
<circle cx="90.48" cy="187.88" r="0.72" fill="#55206b" />
<circle cx="91.85" cy="173.02" r="0.72" fill="#55206b" />
<circle cx="117.90" cy="159.34" r="0.72" fill="#6a3380" />
<circle cx="92.81" cy="186.43" r="0.72" fill="#55206b" />
<circle cx="104.32" cy="178.23" r="0.72" fill="#6a3380" />
<circle cx="93.52" cy="178.95" r="0.72" fill="#55206b" />
<circle cx="114.44" cy="156.37" r="0.72" fill="#6a3380" />
<circle cx="91.42" cy="180.59" r="0.72" fill="#55206b" />
<circle cx="87.10" cy="188.37" r="0.72" fill="#55206b" />
<circle cx="95.41" cy="188.32" r="0.72" fill="#55206b" />
<circle cx="87.21" cy="188.40" r="0.72" fill="#55206b" />
<circle cx="96.98" cy="183.97" r="0.72" fill="#55206b" />
<circle cx="89.79" cy="188.42" r="0.72" fill="#55206b" />
<circle cx="106.64" cy="180.31" r="0.72" fill="#6a3380" />
<circle cx="108.05" cy="116.32" r="0.72" fill="#6a3380" />
<circle cx="87.84" cy="185.48" r="0.72" fill="#55206b" />
<circle cx="89.25" cy="184.76" r="0.72" fill="#55206b" />
<circle cx="88.15" cy="189.86" r="0.72" fill="#55206b" />
<circle cx="98.07" cy="182.04" r="0.72" fill="#55206b" />
<circle cx="96.71" cy="147.81" r="0.72" fill="#6a3380" />
<circle cx="87.67" cy="189.35" r="0.72" fill="#55206b" />
<circle cx="101.45" cy="181.85" r="0.72" fill="#6a3380" />
<circle cx="88.94" cy="187.03" r="0.72" fill="#55206b" />
<circle cx="94.21" cy="179.58" r="0.72" fill="#55206b" />
<circle cx="93.69" cy="150.23" r="0.72" fill="#6a3380" />
<circle cx="86.48" cy="189.52" r="0.72" fill="#55206b" />
<circle cx="93.00" cy="174.13" r="0.72" fill="#55206b" />
<circle cx="90.28" cy="178.80" r="0.72" fill="#55206b" />
<circle cx="86.55" cy="190.19" r="0.72" fill="#55206b" />
<circle cx="116.52" cy="112.02" r="0.72" fill="#6a3380" />
<circle cx="92.56" cy="171.18" r="0.72" fill="#6a3380" />
<circle cx="91.16" cy="176.18" r="0.72" fill="#55206b" />
<circle cx="87.23" cy="188.02" r="0.72" fill="#55206b" />
<circle cx="95.09" cy="188.19" r="0.72" fill="#55206b" />
<circle cx="98.25" cy="176.35" r="0.72" fill="#6a3380" />
<circle cx="117.64" cy="115.09" r="0.72" fill="#6a3380" />
<circle cx="95.74" cy="179.53" r="0.72" fill="#55206b" />
<circle cx="101.36" cy="167.13" r="0.72" fill="#6a3380" />
<circle cx="96.45" cy="166.89" r="0.72" fill="#6a3380" />
<circle cx="96.88" cy="145.86" r="0.72" fill="#6a3380" />
<circle cx="91.07" cy="189.84" r="0.72" fill="#55206b" />
<circle cx="103.71" cy="175.15" r="0.72" fill="#6a3380" />
<circle cx="104.67" cy="181.40" r="0.72" fill="#6a3380" />
<circle cx="95.77" cy="171.27" r="0.72" fill="#6a3380" />
<circle cx="96.59" cy="177.10" r="0.72" fill="#6a3380" />
<circle cx="109.14" cy="178.28" r="0.72" fill="#6a3380" />
<circle cx="99.54" cy="169.60" r="0.72" fill="#6a3380" />
<circle cx="105.64" cy="182.15" r="0.72" fill="#6a3380" />
<circle cx="98.52" cy="158.03" r="0.72" fill="#6a3380" />
<circle cx="105.92" cy="181.73" r="0.72" fill="#6a3380" />
<circle cx="96.44" cy="184.18" r="0.72" fill="#55206b" />
<circle cx="94.76" cy="184.41" r="0.72" fill="#55206b" />
<circle cx="91.02" cy="182.78" r="0.72" fill="#55206b" />
<circle cx="106.81" cy="177.96" r="0.72" fill="#6a3380" />
<circle cx="90.54" cy="185.27" r="0.72" fill="#55206b" />
<circle cx="103.18" cy="179.77" r="0.72" fill="#6a3380" />
<circle cx="96.13" cy="187.77" r="0.72" fill="#55206b" />
<circle cx="103.90" cy="183.34" r="0.72" fill="#6a3380" />
<circle cx="91.32" cy="190.61" r="0.72" fill="#55206b" />
<circle cx="93.60" cy="174.40" r="0.72" fill="#55206b" />
<circle cx="86.80" cy="190.92" r="0.72" fill="#55206b" />
<circle cx="92.05" cy="157.87" r="0.72" fill="#6a3380" />
<circle cx="89.73" cy="187.82" r="0.72" fill="#55206b" />
<circle cx="100.13" cy="178.58" r="0.72" fill="#6a3380" />
<circle cx="114.56" cy="134.94" r="0.72" fill="#6a3380" />
<circle cx="102.34" cy="176.74" r="0.72" fill="#6a3380" />
<circle cx="87.43" cy="186.99" r="0.72" fill="#55206b" />
<circle cx="88.47" cy="183.79" r="0.72" fill="#55206b" />
<circle cx="102.83" cy="184.69" r="0.72" fill="#6a3380" />
<circle cx="88.27" cy="183.69" r="0.72" fill="#55206b" />
<circle cx="98.88" cy="134.93" r="0.72" fill="#6a3380" />
<circle cx="104.23" cy="154.16" r="0.72" fill="#6a3380" />
<circle cx="92.76" cy="174.59" r="0.72" fill="#55206b" />
<circle cx="112.93" cy="169.99" r="0.72" fill="#6a3380" />
<circle cx="90.39" cy="188.18" r="0.72" fill="#55206b" />
<circle cx="94.19" cy="187.18" r="0.72" fill="#55206b" />
<circle cx="93.20" cy="176.49" r="0.72" fill="#55206b" />
<circle cx="92.61" cy="187.37" r="0.72" fill="#55206b" />
<circle cx="93.37" cy="158.53" r="0.72" fill="#6a3380" />
<circle cx="100.14" cy="182.28" r="0.72" fill="#6a3380" />
<circle cx="90.94" cy="176.66" r="0.72" fill="#55206b" />
<circle cx="92.72" cy="178.74" r="0.72" fill="#55206b" />
<circle cx="106.55" cy="180.63" r="0.72" fill="#6a3380" />
<circle cx="89.23" cy="180.03" r="0.72" fill="#55206b" />
<circle cx="96.03" cy="171.05" r="0.72" fill="#6a3380" />
<circle cx="88.88" cy="184.35" r="0.72" fill="#55206b" />
<circle cx="95.81" cy="186.96" r="0.72" fill="#55206b" />
<circle cx="101.07" cy="180.90" r="0.72" fill="#6a3380" />
<circle cx="99.30" cy="179.60" r="0.72" fill="#6a3380" />
<circle cx="86.71" cy="192.69" r="0.72" fill="#55206b" />
<circle cx="104.30" cy="154.00" r="0.72" fill="#6a3380" />
<circle cx="92.19" cy="171.39" r="0.72" fill="#6a3380" />
<circle cx="118.69" cy="141.91" r="0.72" fill="#6a3380" />
<circle cx="92.23" cy="174.13" r="0.72" fill="#55206b" />
<circle cx="87.31" cy="192.33" r="0.72" fill="#55206b" />
<circle cx="95.78" cy="135.72" r="0.72" fill="#6a3380" />
<circle cx="113.96" cy="153.36" r="0.72" fill="#6a3380" />
<circle cx="89.28" cy="191.20" r="0.72" fill="#55206b" />
<circle cx="92.22" cy="171.35" r="0.72" fill="#6a3380" />
<circle cx="88.59" cy="184.04" r="0.72" fill="#55206b" />
<circle cx="122.84" cy="157.51" r="0.72" fill="#6a3380" />
<circle cx="96.58" cy="186.51" r="0.72" fill="#55206b" />
<circle cx="92.59" cy="156.82" r="0.72" fill="#6a3380" />
<circle cx="90.26" cy="176.88" r="0.72" fill="#55206b" />
<circle cx="108.50" cy="159.76" r="0.72" fill="#6a3380" />
<circle cx="119.38" cy="140.34" r="0.72" fill="#6a3380" />
<circle cx="105.85" cy="136.40" r="0.72" fill="#6a3380" />
<circle cx="88.16" cy="190.80" r="0.72" fill="#55206b" />
<circle cx="109.51" cy="163.22" r="0.72" fill="#6a3380" />
<circle cx="101.42" cy="165.46" r="0.72" fill="#6a3380" />
<circle cx="94.35" cy="188.76" r="0.72" fill="#55206b" />
<circle cx="95.78" cy="178.98" r="0.72" fill="#55206b" />
<circle cx="89.74" cy="190.32" r="0.72" fill="#55206b" />
<circle cx="90.90" cy="183.52" r="0.72" fill="#55206b" />
<circle cx="94.14" cy="181.02" r="0.72" fill="#55206b" />
<circle cx="95.02" cy="183.21" r="0.72" fill="#55206b" />
<circle cx="98.05" cy="176.29" r="0.72" fill="#6a3380" />
<circle cx="93.45" cy="181.01" r="0.72" fill="#55206b" />
<circle cx="111.57" cy="159.90" r="0.72" fill="#6a3380" />
<circle cx="89.21" cy="190.67" r="0.72" fill="#55206b" />
<circle cx="91.48" cy="184.84" r="0.72" fill="#55206b" />
<circle cx="98.19" cy="179.83" r="0.72" fill="#6a3380" />
<circle cx="88.88" cy="184.46" r="0.72" fill="#55206b" />
<circle cx="100.11" cy="184.73" r="0.72" fill="#6a3380" />
<circle cx="88.69" cy="186.34" r="0.72" fill="#55206b" />
<circle cx="103.41" cy="159.56" r="0.72" fill="#6a3380" />
<circle cx="95.77" cy="188.05" r="0.72" fill="#55206b" />
<circle cx="95.44" cy="181.61" r="0.72" fill="#55206b" />
<circle cx="89.38" cy="184.78" r="0.72" fill="#55206b" />
<circle cx="92.43" cy="180.57" r="0.72" fill="#55206b" />
<circle cx="91.66" cy="184.36" r="0.72" fill="#55206b" />
<circle cx="106.26" cy="155.43" r="0.72" fill="#6a3380" />
<circle cx="95.16" cy="166.24" r="0.72" fill="#6a3380" />
<circle cx="89.65" cy="182.51" r="0.72" fill="#55206b" />
<circle cx="87.54" cy="191.40" r="0.72" fill="#55206b" />
<circle cx="95.47" cy="184.96" r="0.72" fill="#55206b" />
<circle cx="89.98" cy="181.07" r="0.72" fill="#55206b" />
<circle cx="96.01" cy="188.28" r="0.72" fill="#55206b" />
<circle cx="96.96" cy="186.26" r="0.72" fill="#55206b" />
<circle cx="92.96" cy="178.46" r="0.72" fill="#55206b" />
<circle cx="95.64" cy="185.18" r="0.72" fill="#55206b" />
<circle cx="94.74" cy="180.84" r="0.72" fill="#55206b" />
<circle cx="98.16" cy="173.89" r="0.72" fill="#6a3380" />
<circle cx="102.64" cy="174.44" r="0.72" fill="#6a3380" />
<circle cx="117.78" cy="167.47" r="0.72" fill="#6a3380" />
<circle cx="90.17" cy="190.33" r="0.72" fill="#55206b" />
<circle cx="91.33" cy="188.88" r="0.72" fill="#55206b" />
<circle cx="88.46" cy="186.36" r="0.72" fill="#55206b" />
<circle cx="94.69" cy="165.24" r="0.72" fill="#6a3380" />
<circle cx="100.36" cy="134.31" r="0.72" fill="#6a3380" />
<circle cx="94.20" cy="184.98" r="0.72" fill="#55206b" />
<circle cx="94.33" cy="167.77" r="0.72" fill="#6a3380" />
<circle cx="105.67" cy="161.59" r="0.72" fill="#6a3380" />
<circle cx="112.16" cy="158.41" r="0.72" fill="#6a3380" />
<circle cx="89.51" cy="188.19" r="0.72" fill="#55206b" />
<circle cx="91.58" cy="181.20" r="0.72" fill="#55206b" />
<circle cx="93.97" cy="186.65" r="0.72" fill="#55206b" />
<circle cx="99.20" cy="128.39" r="0.72" fill="#6a3380" />
<circle cx="96.16" cy="186.02" r="0.72" fill="#55206b" />
<circle cx="92.58" cy="172.31" r="0.72" fill="#6a3380" />
<circle cx="87.28" cy="189.51" r="0.72" fill="#55206b" />
<circle cx="94.65" cy="174.29" r="0.72" fill="#6a3380" />
<circle cx="95.40" cy="177.06" r="0.72" fill="#55206b" />
<circle cx="95.15" cy="182.73" r="0.72" fill="#55206b" />
<circle cx="89.37" cy="190.25" r="0.72" fill="#55206b" />
<circle cx="87.15" cy="190.53" r="0.72" fill="#55206b" />
<circle cx="99.30" cy="160.12" r="0.72" fill="#6a3380" />
<circle cx="86.50" cy="189.33" r="0.72" fill="#55206b" />
<circle cx="90.97" cy="183.93" r="0.72" fill="#55206b" />
<circle cx="89.76" cy="180.90" r="0.72" fill="#55206b" />
<circle cx="85.35" cy="193.28" r="0.72" fill="#55206b" />
<circle cx="95.50" cy="180.91" r="0.72" fill="#55206b" />
<circle cx="99.20" cy="169.04" r="0.72" fill="#6a3380" />
<circle cx="97.65" cy="173.22" r="0.72" fill="#6a3380" />
<circle cx="95.06" cy="187.86" r="0.72" fill="#55206b" />
<circle cx="91.32" cy="182.34" r="0.72" fill="#55206b" />
<circle cx="98.66" cy="182.85" r="0.72" fill="#55206b" />
<circle cx="87.88" cy="188.94" r="0.72" fill="#55206b" />
<circle cx="126.78" cy="133.86" r="0.72" fill="#6a3380" />
<circle cx="89.43" cy="188.56" r="0.72" fill="#55206b" />
<circle cx="105.89" cy="114.50" r="0.72" fill="#6a3380" />
<circle cx="87.34" cy="191.36" r="0.72" fill="#55206b" />
<circle cx="88.10" cy="185.79" r="0.72" fill="#55206b" />
<circle cx="91.37" cy="188.07" r="0.72" fill="#55206b" />
<circle cx="88.48" cy="189.19" r="0.72" fill="#55206b" />
<circle cx="87.65" cy="187.97" r="0.72" fill="#55206b" />
<circle cx="93.93" cy="183.61" r="0.72" fill="#55206b" />
<circle cx="114.69" cy="166.42" r="0.72" fill="#6a3380" />
<circle cx="89.01" cy="180.84" r="0.72" fill="#55206b" />
<circle cx="87.10" cy="192.30" r="0.72" fill="#55206b" />
<circle cx="111.71" cy="123.83" r="0.72" fill="#6a3380" />
<circle cx="121.82" cy="137.57" r="0.72" fill="#6a3380" />
<circle cx="104.01" cy="128.48" r="0.72" fill="#6a3380" />
<circle cx="91.33" cy="181.09" r="0.72" fill="#55206b" />
<circle cx="87.29" cy="189.64" r="0.72" fill="#55206b" />
<circle cx="89.15" cy="186.26" r="0.72" fill="#55206b" />
<circle cx="89.93" cy="181.78" r="0.72" fill="#55206b" />
<circle cx="95.78" cy="178.31" r="0.72" fill="#55206b" />
<circle cx="103.81" cy="166.88" r="0.72" fill="#6a3380" />
<circle cx="94.11" cy="151.63" r="0.72" fill="#6a3380" />
<circle cx="91.38" cy="185.34" r="0.72" fill="#55206b" />
<circle cx="100.27" cy="182.24" r="0.72" fill="#6a3380" />
<circle cx="88.40" cy="183.45" r="0.72" fill="#55206b" />
<circle cx="94.57" cy="187.82" r="0.72" fill="#55206b" />
<circle cx="107.15" cy="179.61" r="0.72" fill="#6a3380" />
<circle cx="86.13" cy="191.17" r="0.72" fill="#55206b" />
<circle cx="92.15" cy="186.80" r="0.72" fill="#55206b" />
<circle cx="99.41" cy="174.71" r="0.72" fill="#6a3380" />
<circle cx="97.90" cy="184.00" r="0.72" fill="#55206b" />
<circle cx="106.49" cy="173.70" r="0.72" fill="#6a3380" />
<circle cx="96.29" cy="148.81" r="0.72" fill="#6a3380" />
<circle cx="95.26" cy="162.73" r="0.72" fill="#6a3380" />
<circle cx="97.80" cy="185.69" r="0.72" fill="#55206b" />
<circle cx="87.48" cy="189.01" r="0.72" fill="#55206b" />
<circle cx="112.06" cy="171.53" r="0.72" fill="#6a3380" />
<circle cx="94.93" cy="158.32" r="0.72" fill="#6a3380" />
<circle cx="102.64" cy="183.69" r="0.72" fill="#6a3380" />
<circle cx="108.51" cy="156.04" r="0.72" fill="#6a3380" />
<circle cx="86.64" cy="188.66" r="0.72" fill="#55206b" />
<circle cx="89.29" cy="184.50" r="0.72" fill="#55206b" />
<circle cx="109.17" cy="140.39" r="0.72" fill="#6a3380" />
<circle cx="91.67" cy="186.89" r="0.72" fill="#55206b" />
<circle cx="111.15" cy="177.37" r="0.72" fill="#6a3380" />
<circle cx="93.39" cy="187.70" r="0.72" fill="#55206b" />
<circle cx="90.05" cy="189.78" r="0.72" fill="#55206b" />
<circle cx="106.16" cy="148.40" r="0.72" fill="#6a3380" />
<circle cx="89.56" cy="190.26" r="0.72" fill="#55206b" />
<circle cx="93.87" cy="178.93" r="0.72" fill="#55206b" />
<circle cx="93.15" cy="152.29" r="0.72" fill="#6a3380" />
<circle cx="102.93" cy="182.30" r="0.72" fill="#6a3380" />
<circle cx="89.54" cy="190.24" r="0.72" fill="#55206b" />
<circle cx="95.64" cy="172.50" r="0.72" fill="#6a3380" />
<circle cx="93.12" cy="167.07" r="0.72" fill="#6a3380" />
<circle cx="103.05" cy="165.67" r="0.72" fill="#6a3380" />
<circle cx="115.63" cy="142.35" r="0.72" fill="#6a3380" />
<circle cx="92.46" cy="187.50" r="0.72" fill="#55206b" />
<circle cx="99.94" cy="180.40" r="0.72" fill="#6a3380" />
<circle cx="99.00" cy="171.24" r="0.72" fill="#6a3380" />
<circle cx="86.40" cy="192.63" r="0.72" fill="#55206b" />
<circle cx="100.76" cy="159.29" r="0.72" fill="#6a3380" />
<circle cx="103.86" cy="128.77" r="0.72" fill="#6a3380" />
<circle cx="125.55" cy="136.15" r="0.72" fill="#6a3380" />
<circle cx="89.00" cy="190.10" r="0.72" fill="#55206b" />
<circle cx="97.07" cy="184.65" r="0.72" fill="#55206b" />
<circle cx="99.78" cy="174.92" r="0.72" fill="#6a3380" />
<circle cx="94.01" cy="182.88" r="0.72" fill="#55206b" />
<circle cx="91.20" cy="181.69" r="0.72" fill="#55206b" />
<circle cx="89.88" cy="185.56" r="0.72" fill="#55206b" />
<circle cx="87.31" cy="190.64" r="0.72" fill="#55206b" />
<circle cx="89.55" cy="181.33" r="0.72" fill="#55206b" />
<circle cx="94.30" cy="176.67" r="0.72" fill="#55206b" />
<circle cx="89.51" cy="182.11" r="0.72" fill="#55206b" />
<circle cx="98.49" cy="176.18" r="0.72" fill="#6a3380" />
<circle cx="99.45" cy="179.42" r="0.72" fill="#6a3380" />
<circle cx="109.75" cy="162.39" r="0.72" fill="#6a3380" />
<circle cx="99.23" cy="181.40" r="0.72" fill="#6a3380" />
<circle cx="92.88" cy="168.36" r="0.72" fill="#6a3380" />
<circle cx="105.20" cy="172.08" r="0.72" fill="#6a3380" />
<circle cx="92.54" cy="182.72" r="0.72" fill="#55206b" />
<circle cx="92.07" cy="187.86" r="0.72" fill="#55206b" />
<circle cx="88.17" cy="191.86" r="0.72" fill="#55206b" />
<circle cx="111.99" cy="180.70" r="0.72" fill="#6a3380" />
<circle cx="94.63" cy="173.21" r="0.72" fill="#6a3380" />
<circle cx="104.60" cy="178.22" r="0.72" fill="#6a3380" />
<circle cx="91.72" cy="188.31" r="0.72" fill="#55206b" />
<circle cx="90.07" cy="184.78" r="0.72" fill="#55206b" />
<circle cx="94.81" cy="179.68" r="0.72" fill="#55206b" />
<circle cx="99.18" cy="173.47" r="0.72" fill="#6a3380" />
<circle cx="93.28" cy="158.75" r="0.72" fill="#6a3380" />
<circle cx="94.23" cy="166.01" r="0.72" fill="#6a3380" />
<circle cx="99.94" cy="140.35" r="0.72" fill="#6a3380" />
<circle cx="91.25" cy="182.13" r="0.72" fill="#55206b" />
<circle cx="94.10" cy="183.68" r="0.72" fill="#55206b" />
<circle cx="88.07" cy="187.23" r="0.72" fill="#55206b" />
<circle cx="96.58" cy="184.13" r="0.72" fill="#55206b" />
<circle cx="90.74" cy="176.65" r="0.72" fill="#55206b" />
<circle cx="93.61" cy="155.68" r="0.72" fill="#6a3380" />
<circle cx="96.23" cy="175.84" r="0.72" fill="#6a3380" />
<circle cx="92.44" cy="169.42" r="0.72" fill="#6a3380" />
<circle cx="124.02" cy="133.64" r="0.72" fill="#6a3380" />
<circle cx="112.74" cy="169.03" r="0.72" fill="#6a3380" />
<circle cx="94.87" cy="187.32" r="0.72" fill="#55206b" />
<circle cx="96.40" cy="178.84" r="0.72" fill="#55206b" />
<circle cx="90.43" cy="185.68" r="0.72" fill="#55206b" />
<circle cx="106.60" cy="156.57" r="0.72" fill="#6a3380" />
<circle cx="115.12" cy="152.16" r="0.72" fill="#6a3380" />
<circle cx="118.36" cy="128.65" r="0.72" fill="#6a3380" />
<circle cx="89.52" cy="184.84" r="0.72" fill="#55206b" />
<circle cx="89.98" cy="184.02" r="0.72" fill="#55206b" />
<circle cx="91.30" cy="179.38" r="0.72" fill="#55206b" />
<circle cx="95.76" cy="179.16" r="0.72" fill="#55206b" />
<circle cx="91.00" cy="189.50" r="0.72" fill="#55206b" />
<circle cx="97.44" cy="162.05" r="0.72" fill="#6a3380" />
<circle cx="89.42" cy="180.89" r="0.72" fill="#55206b" />
<circle cx="96.54" cy="173.39" r="0.72" fill="#6a3380" />
<circle cx="101.98" cy="172.52" r="0.72" fill="#6a3380" />
<circle cx="92.91" cy="179.24" r="0.72" fill="#55206b" />
<circle cx="97.49" cy="173.55" r="0.72" fill="#6a3380" />
<circle cx="89.11" cy="188.10" r="0.72" fill="#55206b" />
<circle cx="100.52" cy="185.01" r="0.72" fill="#6a3380" />
<circle cx="112.24" cy="122.03" r="0.72" fill="#6a3380" />
<circle cx="96.03" cy="185.98" r="0.72" fill="#55206b" />
<circle cx="91.04" cy="182.50" r="0.72" fill="#55206b" />
<circle cx="121.38" cy="149.10" r="0.72" fill="#6a3380" />
<circle cx="89.15" cy="184.98" r="0.72" fill="#55206b" />
<circle cx="94.23" cy="182.69" r="0.72" fill="#55206b" />
<circle cx="99.39" cy="170.26" r="0.72" fill="#6a3380" />
<circle cx="99.23" cy="183.49" r="0.72" fill="#6a3380" />
<circle cx="88.08" cy="189.72" r="0.72" fill="#55206b" />
<circle cx="93.45" cy="170.28" r="0.72" fill="#6a3380" />
<circle cx="88.39" cy="186.61" r="0.72" fill="#55206b" />
<circle cx="123.40" cy="142.37" r="0.72" fill="#6a3380" />
<circle cx="86.61" cy="192.40" r="0.72" fill="#55206b" />
<circle cx="91.37" cy="189.06" r="0.72" fill="#55206b" />
<circle cx="127.78" cy="122.38" r="0.72" fill="#6a3380" />
<circle cx="108.50" cy="170.35" r="0.72" fill="#6a3380" />
<circle cx="86.72" cy="190.67" r="0.72" fill="#55206b" />
<circle cx="99.30" cy="174.76" r="0.72" fill="#6a3380" />
<circle cx="87.40" cy="188.24" r="0.72" fill="#55206b" />
<circle cx="93.00" cy="174.88" r="0.72" fill="#55206b" />
<circle cx="87.58" cy="190.57" r="0.72" fill="#55206b" />
<circle cx="87.99" cy="184.71" r="0.72" fill="#55206b" />
<circle cx="92.73" cy="174.57" r="0.72" fill="#55206b" />
<circle cx="112.56" cy="145.53" r="0.72" fill="#6a3380" />
<circle cx="89.88" cy="180.08" r="0.72" fill="#55206b" />
<circle cx="88.67" cy="182.77" r="0.72" fill="#55206b" />
<circle cx="89.87" cy="190.84" r="0.72" fill="#55206b" />
<circle cx="93.56" cy="188.38" r="0.72" fill="#55206b" />
<circle cx="94.60" cy="183.16" r="0.72" fill="#55206b" />
<circle cx="93.21" cy="175.45" r="0.72" fill="#55206b" />
<circle cx="90.37" cy="186.91" r="0.72" fill="#55206b" />
<circle cx="113.27" cy="167.48" r="0.72" fill="#6a3380" />
<circle cx="107.72" cy="170.42" r="0.72" fill="#6a3380" />
<circle cx="92.78" cy="180.90" r="0.72" fill="#55206b" />
<circle cx="89.61" cy="188.99" r="0.72" fill="#55206b" />
<circle cx="97.91" cy="177.45" r="0.72" fill="#6a3380" />
<circle cx="92.24" cy="186.03" r="0.72" fill="#55206b" />
<circle cx="88.57" cy="190.98" r="0.72" fill="#55206b" />
<circle cx="90.07" cy="185.49" r="0.72" fill="#55206b" />
<circle cx="91.81" cy="158.90" r="0.72" fill="#6a3380" />
<circle cx="93.51" cy="186.61" r="0.72" fill="#55206b" />
<circle cx="96.73" cy="175.01" r="0.72" fill="#6a3380" />
<circle cx="100.95" cy="168.06" r="0.72" fill="#6a3380" />
<circle cx="105.09" cy="163.27" r="0.72" fill="#6a3380" />
<circle cx="98.48" cy="179.98" r="0.72" fill="#6a3380" />
<circle cx="94.79" cy="139.65" r="0.72" fill="#6a3380" />
<circle cx="91.70" cy="188.09" r="0.72" fill="#55206b" />
<circle cx="89.27" cy="188.68" r="0.72" fill="#55206b" />
<circle cx="97.86" cy="176.28" r="0.72" fill="#6a3380" />
<circle cx="97.53" cy="158.62" r="0.72" fill="#6a3380" />
<circle cx="96.17" cy="173.77" r="0.72" fill="#6a3380" />
<circle cx="90.79" cy="180.72" r="0.72" fill="#55206b" />
<circle cx="90.02" cy="181.47" r="0.72" fill="#55206b" />
<circle cx="87.51" cy="188.24" r="0.72" fill="#55206b" />
<circle cx="93.14" cy="185.30" r="0.72" fill="#55206b" />
<circle cx="102.01" cy="179.69" r="0.72" fill="#6a3380" />
<circle cx="95.70" cy="177.09" r="0.72" fill="#55206b" />
<circle cx="125.41" cy="118.47" r="0.72" fill="#6a3380" />
<circle cx="93.09" cy="179.06" r="0.72" fill="#55206b" />
<circle cx="92.92" cy="174.78" r="0.72" fill="#55206b" />
<circle cx="87.80" cy="191.85" r="0.72" fill="#55206b" />
<circle cx="89.18" cy="188.64" r="0.72" fill="#55206b" />
<circle cx="87.87" cy="184.68" r="0.72" fill="#55206b" />
<circle cx="87.57" cy="190.05" r="0.72" fill="#55206b" />
<circle cx="94.20" cy="187.45" r="0.72" fill="#55206b" />
<circle cx="114.15" cy="148.15" r="0.72" fill="#6a3380" />
<circle cx="110.23" cy="126.91" r="0.72" fill="#6a3380" />
<circle cx="94.23" cy="146.21" r="0.72" fill="#6a3380" />
<circle cx="94.93" cy="186.20" r="0.72" fill="#55206b" />
<circle cx="126.82" cy="120.41" r="0.72" fill="#6a3380" />
<circle cx="88.77" cy="191.26" r="0.72" fill="#55206b" />
<circle cx="91.45" cy="190.27" r="0.72" fill="#55206b" />
<circle cx="90.54" cy="184.99" r="0.72" fill="#55206b" />
<circle cx="97.83" cy="182.56" r="0.72" fill="#55206b" />
<circle cx="89.27" cy="183.28" r="0.72" fill="#55206b" />
<circle cx="94.64" cy="170.43" r="0.72" fill="#6a3380" />
<circle cx="91.23" cy="174.14" r="0.72" fill="#55206b" />
<circle cx="122.70" cy="126.08" r="0.72" fill="#6a3380" />
<circle cx="100.52" cy="177.85" r="0.72" fill="#6a3380" />
<circle cx="95.07" cy="162.95" r="0.72" fill="#6a3380" />
<circle cx="94.35" cy="169.56" r="0.72" fill="#6a3380" />
<circle cx="90.79" cy="189.37" r="0.72" fill="#55206b" />
<circle cx="94.42" cy="167.62" r="0.72" fill="#6a3380" />
<circle cx="103.66" cy="179.52" r="0.72" fill="#6a3380" />
<circle cx="91.14" cy="188.61" r="0.72" fill="#55206b" />
<circle cx="93.52" cy="189.40" r="0.72" fill="#55206b" />
<circle cx="89.87" cy="188.95" r="0.72" fill="#55206b" />
<circle cx="109.08" cy="138.41" r="0.72" fill="#6a3380" />
<circle cx="101.33" cy="183.23" r="0.72" fill="#6a3380" />
<circle cx="102.68" cy="121.52" r="0.72" fill="#6a3380" />
<circle cx="103.64" cy="126.72" r="0.72" fill="#6a3380" />
<circle cx="85.42" cy="192.81" r="0.72" fill="#55206b" />
<circle cx="99.80" cy="177.55" r="0.72" fill="#6a3380" />
<circle cx="104.78" cy="175.51" r="0.72" fill="#6a3380" />
<circle cx="91.26" cy="186.31" r="0.72" fill="#55206b" />
<circle cx="105.39" cy="126.27" r="0.72" fill="#6a3380" />
<circle cx="98.41" cy="176.17" r="0.72" fill="#6a3380" />
<circle cx="100.33" cy="181.27" r="0.72" fill="#6a3380" />
<circle cx="99.26" cy="173.23" r="0.72" fill="#6a3380" />
<circle cx="110.59" cy="132.46" r="0.72" fill="#6a3380" />
<circle cx="90.27" cy="189.71" r="0.72" fill="#55206b" />
<circle cx="100.19" cy="164.51" r="0.72" fill="#6a3380" />
<circle cx="86.40" cy="190.27" r="0.72" fill="#55206b" />
<circle cx="101.36" cy="178.26" r="0.72" fill="#6a3380" />
<circle cx="104.32" cy="170.86" r="0.72" fill="#6a3380" />
<circle cx="89.51" cy="190.11" r="0.72" fill="#55206b" />
<circle cx="88.41" cy="189.10" r="0.72" fill="#55206b" />
<circle cx="96.43" cy="146.94" r="0.72" fill="#6a3380" />
<circle cx="89.56" cy="190.62" r="0.72" fill="#55206b" />
<circle cx="88.42" cy="186.48" r="0.72" fill="#55206b" />
<circle cx="100.59" cy="180.40" r="0.72" fill="#6a3380" />
<circle cx="87.49" cy="187.42" r="0.72" fill="#55206b" />
<circle cx="92.87" cy="184.12" r="0.72" fill="#55206b" />
<circle cx="88.86" cy="188.57" r="0.72" fill="#55206b" />
<circle cx="86.81" cy="190.21" r="0.72" fill="#55206b" />
<circle cx="95.01" cy="185.14" r="0.72" fill="#55206b" />
<circle cx="92.30" cy="182.87" r="0.72" fill="#55206b" />
<circle cx="87.67" cy="187.34" r="0.72" fill="#55206b" />
<circle cx="108.78" cy="176.41" r="0.72" fill="#6a3380" />
<circle cx="90.02" cy="185.34" r="0.72" fill="#55206b" />
<circle cx="94.14" cy="175.87" r="0.72" fill="#55206b" />
<circle cx="94.56" cy="184.90" r="0.72" fill="#55206b" />
<circle cx="99.75" cy="172.85" r="0.72" fill="#6a3380" />
<circle cx="89.14" cy="180.92" r="0.72" fill="#55206b" />
<circle cx="88.01" cy="188.81" r="0.72" fill="#55206b" />
<circle cx="94.32" cy="157.77" r="0.72" fill="#6a3380" />
<circle cx="89.57" cy="186.07" r="0.72" fill="#55206b" />
<circle cx="88.68" cy="191.20" r="0.72" fill="#55206b" />
<circle cx="92.19" cy="189.55" r="0.72" fill="#55206b" />
<circle cx="103.02" cy="177.09" r="0.72" fill="#6a3380" />
<circle cx="88.62" cy="187.75" r="0.72" fill="#55206b" />
<circle cx="92.43" cy="182.25" r="0.72" fill="#55206b" />
<circle cx="100.08" cy="182.50" r="0.72" fill="#6a3380" />
<circle cx="95.19" cy="176.19" r="0.72" fill="#55206b" />
<circle cx="86.32" cy="192.13" r="0.72" fill="#55206b" />
<circle cx="98.06" cy="171.30" r="0.72" fill="#6a3380" />
<circle cx="96.28" cy="177.45" r="0.72" fill="#6a3380" />
<circle cx="90.09" cy="183.51" r="0.72" fill="#55206b" />
<circle cx="116.40" cy="144.63" r="0.72" fill="#6a3380" />
<circle cx="93.59" cy="170.75" r="0.72" fill="#6a3380" />
<circle cx="92.58" cy="175.89" r="0.72" fill="#55206b" />
<circle cx="94.63" cy="165.50" r="0.72" fill="#6a3380" />
<circle cx="95.19" cy="167.05" r="0.72" fill="#6a3380" />
<circle cx="99.44" cy="154.54" r="0.72" fill="#6a3380" />
<circle cx="90.87" cy="179.24" r="0.72" fill="#55206b" />
<circle cx="103.78" cy="184.94" r="0.72" fill="#6a3380" />
<circle cx="90.10" cy="183.99" r="0.72" fill="#55206b" />
<circle cx="95.37" cy="172.77" r="0.72" fill="#6a3380" />
<circle cx="109.66" cy="150.88" r="0.72" fill="#6a3380" />
<circle cx="89.52" cy="183.36" r="0.72" fill="#55206b" />
<circle cx="125.03" cy="112.13" r="0.72" fill="#6a3380" />
<circle cx="88.23" cy="189.07" r="0.72" fill="#55206b" />
<circle cx="96.66" cy="175.03" r="0.72" fill="#6a3380" />
<circle cx="103.11" cy="152.54" r="0.72" fill="#6a3380" />
<circle cx="107.56" cy="151.78" r="0.72" fill="#6a3380" />
<circle cx="95.17" cy="165.22" r="0.72" fill="#6a3380" />
<circle cx="104.46" cy="176.24" r="0.72" fill="#6a3380" />
<circle cx="104.88" cy="184.51" r="0.72" fill="#6a3380" />
<circle cx="91.59" cy="184.70" r="0.72" fill="#55206b" />
<circle cx="95.71" cy="178.95" r="0.72" fill="#55206b" />
<circle cx="109.45" cy="181.09" r="0.72" fill="#6a3380" />
<circle cx="100.17" cy="185.80" r="0.72" fill="#6a3380" />
<circle cx="90.29" cy="182.72" r="0.72" fill="#55206b" />
<circle cx="100.05" cy="173.08" r="0.72" fill="#6a3380" />
<circle cx="105.82" cy="160.85" r="0.72" fill="#6a3380" />
<circle cx="102.07" cy="163.81" r="0.72" fill="#6a3380" />
<circle cx="92.34" cy="177.26" r="0.72" fill="#55206b" />
<circle cx="100.72" cy="167.79" r="0.72" fill="#6a3380" />
<circle cx="86.17" cy="192.03" r="0.72" fill="#55206b" />
<circle cx="101.57" cy="180.81" r="0.72" fill="#6a3380" />
<circle cx="90.31" cy="180.13" r="0.72" fill="#55206b" />
<circle cx="96.41" cy="161.71" r="0.72" fill="#6a3380" />
<circle cx="89.11" cy="189.40" r="0.72" fill="#55206b" />
<circle cx="103.19" cy="135.79" r="0.72" fill="#6a3380" />
<circle cx="108.09" cy="169.40" r="0.72" fill="#6a3380" />
<circle cx="87.01" cy="191.55" r="0.72" fill="#55206b" />
<circle cx="102.70" cy="171.06" r="0.72" fill="#6a3380" />
<circle cx="104.60" cy="161.61" r="0.72" fill="#6a3380" />
<circle cx="98.16" cy="186.74" r="0.72" fill="#55206b" />
<circle cx="89.49" cy="189.12" r="0.72" fill="#55206b" />
<circle cx="86.64" cy="190.43" r="0.72" fill="#55206b" />
<circle cx="91.01" cy="182.15" r="0.72" fill="#55206b" />
<circle cx="88.88" cy="191.43" r="0.72" fill="#55206b" />
<circle cx="108.66" cy="114.66" r="0.72" fill="#6a3380" />
<circle cx="102.09" cy="178.06" r="0.72" fill="#6a3380" />
<circle cx="96.43" cy="173.64" r="0.72" fill="#6a3380" />
<circle cx="99.49" cy="178.23" r="0.72" fill="#6a3380" />
<circle cx="94.95" cy="166.50" r="0.72" fill="#6a3380" />
<circle cx="88.88" cy="184.15" r="0.72" fill="#55206b" />
<circle cx="93.33" cy="184.75" r="0.72" fill="#55206b" />
<circle cx="92.46" cy="180.70" r="0.72" fill="#55206b" />
<circle cx="93.93" cy="174.93" r="0.72" fill="#55206b" />
<circle cx="85.91" cy="191.59" r="0.72" fill="#55206b" />
<circle cx="94.72" cy="95.03" r="0.60" fill="#6a3a80" />
<circle cx="108.32" cy="85.38" r="0.60" fill="#6a3a80" />
<circle cx="107.03" cy="103.28" r="0.60" fill="#6a3a80" />
<circle cx="127.87" cy="109.30" r="0.60" fill="#6a3a80" />
<circle cx="113.69" cy="100.64" r="0.60" fill="#6a3a80" />
<circle cx="116.13" cy="105.61" r="0.60" fill="#6a3a80" />
<circle cx="123.58" cy="92.28" r="0.60" fill="#6a3a80" />
<circle cx="109.60" cy="111.62" r="0.60" fill="#6a3a80" />
<circle cx="123.68" cy="96.55" r="0.60" fill="#6a3a80" />
<circle cx="104.81" cy="84.07" r="0.60" fill="#6a3a80" />
<circle cx="105.25" cy="106.59" r="0.60" fill="#6a3a80" />
<circle cx="119.28" cy="111.52" r="0.60" fill="#6a3a80" />
<circle cx="117.87" cy="100.40" r="0.60" fill="#6a3a80" />
<circle cx="103.49" cy="104.09" r="0.60" fill="#6a3a80" />
<circle cx="104.31" cy="95.29" r="0.60" fill="#6a3a80" />
<circle cx="114.94" cy="100.07" r="0.60" fill="#6a3a80" />
<circle cx="128.74" cy="112.09" r="0.60" fill="#6a3a80" />
<circle cx="115.23" cy="103.16" r="0.60" fill="#6a3a80" />
<circle cx="122.30" cy="96.75" r="0.60" fill="#6a3a80" />
<circle cx="95.84" cy="111.98" r="0.60" fill="#6a3a80" />
<circle cx="118.64" cy="104.74" r="0.60" fill="#6a3a80" />
<circle cx="129.24" cy="90.49" r="0.60" fill="#6a3a80" />
<circle cx="127.38" cy="101.86" r="0.60" fill="#6a3a80" />
<circle cx="97.42" cy="107.60" r="0.60" fill="#6a3a80" />
<circle cx="95.29" cy="97.89" r="0.60" fill="#6a3a80" />
<circle cx="123.17" cy="99.28" r="0.60" fill="#6a3a80" />
<circle cx="95.89" cy="123.47" r="0.60" fill="#7a4a90" />
<circle cx="90.60" cy="167.61" r="0.60" fill="#7a4a90" />
<circle cx="92.55" cy="166.03" r="0.60" fill="#7a4a90" />
<circle cx="112.04" cy="160.95" r="0.60" fill="#7a4a90" />
<circle cx="95.27" cy="162.53" r="0.60" fill="#7a4a90" />
<circle cx="114.91" cy="127.70" r="0.60" fill="#7a4a90" />
<circle cx="119.23" cy="134.88" r="0.60" fill="#7a4a90" />
<circle cx="92.71" cy="164.43" r="0.60" fill="#7a4a90" />
<circle cx="98.11" cy="170.71" r="0.60" fill="#7a4a90" />
<circle cx="119.64" cy="165.97" r="0.60" fill="#7a4a90" />
<circle cx="125.66" cy="126.62" r="0.60" fill="#7a4a90" />
<circle cx="92.30" cy="163.49" r="0.60" fill="#7a4a90" />
<circle cx="90.48" cy="144.49" r="0.60" fill="#7a4a90" />
<circle cx="92.29" cy="145.86" r="0.60" fill="#7a4a90" />
<circle cx="121.13" cy="147.19" r="0.60" fill="#7a4a90" />
<circle cx="112.41" cy="131.09" r="0.60" fill="#7a4a90" />
<circle cx="105.81" cy="128.23" r="0.60" fill="#7a4a90" />
<circle cx="118.75" cy="119.35" r="0.60" fill="#7a4a90" />
<circle cx="109.43" cy="151.23" r="0.60" fill="#7a4a90" />
<circle cx="133.04" cy="118.66" r="0.60" fill="#7a4a90" />
<circle cx="110.35" cy="135.78" r="0.60" fill="#7a4a90" />
<circle cx="109.07" cy="149.38" r="0.60" fill="#7a4a90" />
<circle cx="126.55" cy="145.31" r="0.60" fill="#7a4a90" />
<circle cx="99.76" cy="120.72" r="0.60" fill="#7a4a90" />
<circle cx="115.45" cy="157.86" r="0.60" fill="#7a4a90" />
<circle cx="149.23" cy="113.41" r="0.60" fill="#6a3a80" />
<circle cx="151.15" cy="81.77" r="0.60" fill="#6a3a80" />
<circle cx="148.87" cy="91.79" r="0.60" fill="#6a3a80" />
<circle cx="148.63" cy="109.33" r="0.60" fill="#6a3a80" />
<circle cx="148.59" cy="99.85" r="0.60" fill="#6a3a80" />
<circle cx="144.67" cy="129.57" r="0.60" fill="#6a3a80" />
<circle cx="148.08" cy="113.20" r="0.60" fill="#6a3a80" />
<circle cx="146.04" cy="122.45" r="0.60" fill="#6a3a80" />
<circle cx="145.95" cy="126.01" r="0.60" fill="#6a3a80" />
<circle cx="156.25" cy="68.70" r="0.60" fill="#6a3a80" />
<circle cx="148.56" cy="106.17" r="0.60" fill="#6a3a80" />
<circle cx="148.04" cy="103.31" r="0.60" fill="#6a3a80" />
<circle cx="148.81" cy="99.36" r="0.60" fill="#6a3a80" />
<circle cx="152.66" cy="85.61" r="0.60" fill="#6a3a80" />
<circle cx="150.12" cy="94.77" r="0.60" fill="#6a3a80" />
<circle cx="150.19" cy="89.63" r="0.60" fill="#6a3a80" />
<circle cx="138.42" cy="135.79" r="0.60" fill="#6a3a80" />
<circle cx="134.58" cy="122.25" r="0.60" fill="#6a3a80" />
<circle cx="131.82" cy="130.71" r="0.60" fill="#6a3a80" />
<circle cx="137.29" cy="136.52" r="0.60" fill="#6a3a80" />
<circle cx="128.03" cy="139.87" r="0.60" fill="#6a3a80" />
<text x="54.40" y="34.40" font-size="9.27" text-anchor="start" fill="#222" stroke="#222" stroke-width="0.16" textLength="69.20" lengthAdjust="spacingAndGlyphs" >Transcriptome of</text>
<text x="44.20" y="45.80" font-size="9.31" text-anchor="start" fill="#222" stroke="#222" stroke-width="0.16" textLength="92.10" lengthAdjust="spacingAndGlyphs" >MAF expressing U266</text>
<line x1="81.60" y1="59.50" x2="81.60" y2="75.30" stroke="#111" stroke-width="1.2" />
<line x1="80.00" y1="75.30" x2="83.60" y2="75.30" stroke="#111" stroke-width="0.9" />
<line x1="81.60" y1="81.40" x2="81.60" y2="114.50" stroke="#111" stroke-width="1.2" />
<line x1="78.30" y1="81.40" x2="83.60" y2="81.40" stroke="#111" stroke-width="0.9" />
<line x1="80.00" y1="114.50" x2="83.60" y2="114.50" stroke="#111" stroke-width="0.9" />
<line x1="81.60" y1="118.30" x2="81.60" y2="196.30" stroke="#111" stroke-width="1.2" />
<line x1="78.30" y1="118.30" x2="83.60" y2="118.30" stroke="#111" stroke-width="0.9" />
<line x1="78.30" y1="62.70" x2="81.60" y2="62.70" stroke="#111" stroke-width="0.9" />
<text x="74.60" y="65.20" font-size="7" text-anchor="end" fill="#222" stroke="#222" stroke-width="0.16" >180</text>
<line x1="78.30" y1="75.00" x2="81.60" y2="75.00" stroke="#111" stroke-width="0.9" />
<text x="74.60" y="77.50" font-size="7" text-anchor="end" fill="#222" stroke="#222" stroke-width="0.16" >160</text>
<line x1="78.30" y1="81.40" x2="81.60" y2="81.40" stroke="#111" stroke-width="0.9" />
<text x="74.60" y="83.90" font-size="7" text-anchor="end" fill="#222" stroke="#222" stroke-width="0.16" >120</text>
<line x1="78.30" y1="92.40" x2="81.60" y2="92.40" stroke="#111" stroke-width="0.9" />
<text x="74.60" y="94.90" font-size="7" text-anchor="end" fill="#222" stroke="#222" stroke-width="0.16" >90</text>
<line x1="78.30" y1="103.60" x2="81.60" y2="103.60" stroke="#111" stroke-width="0.9" />
<text x="74.60" y="106.10" font-size="7" text-anchor="end" fill="#222" stroke="#222" stroke-width="0.16" >60</text>
<line x1="78.30" y1="118.30" x2="81.60" y2="118.30" stroke="#111" stroke-width="0.9" />
<text x="74.60" y="120.80" font-size="7" text-anchor="end" fill="#222" stroke="#222" stroke-width="0.16" >30</text>
<line x1="78.30" y1="131.00" x2="81.60" y2="131.00" stroke="#111" stroke-width="0.9" />
<text x="74.60" y="133.50" font-size="7" text-anchor="end" fill="#222" stroke="#222" stroke-width="0.16" >25</text>
<line x1="78.30" y1="144.00" x2="81.60" y2="144.00" stroke="#111" stroke-width="0.9" />
<text x="74.60" y="146.50" font-size="7" text-anchor="end" fill="#222" stroke="#222" stroke-width="0.16" >20</text>
<line x1="78.30" y1="157.00" x2="81.60" y2="157.00" stroke="#111" stroke-width="0.9" />
<text x="74.60" y="159.50" font-size="7" text-anchor="end" fill="#222" stroke="#222" stroke-width="0.16" >15</text>
<line x1="78.30" y1="169.80" x2="81.60" y2="169.80" stroke="#111" stroke-width="0.9" />
<text x="74.60" y="172.30" font-size="7" text-anchor="end" fill="#222" stroke="#222" stroke-width="0.16" >10</text>
<line x1="78.30" y1="182.70" x2="81.60" y2="182.70" stroke="#111" stroke-width="0.9" />
<text x="74.60" y="185.20" font-size="7" text-anchor="end" fill="#222" stroke="#222" stroke-width="0.16" >5</text>
<line x1="79.80" y1="66.80" x2="81.60" y2="66.80" stroke="#111" stroke-width="0.7" />
<line x1="79.80" y1="70.90" x2="81.60" y2="70.90" stroke="#111" stroke-width="0.7" />
<line x1="21.50" y1="196.30" x2="138.80" y2="196.30" stroke="#111" stroke-width="1.2" />
<line x1="144.60" y1="196.30" x2="171.50" y2="196.30" stroke="#111" stroke-width="1.2" />
<line x1="138.80" y1="194.50" x2="138.80" y2="198.50" stroke="#111" stroke-width="0.9" />
<line x1="144.60" y1="194.50" x2="144.60" y2="198.50" stroke="#111" stroke-width="0.9" />
<line x1="24.08" y1="196.30" x2="24.08" y2="199.00" stroke="#111" stroke-width="0.9" />
<text x="24.08" y="208.00" font-size="7" text-anchor="middle" fill="#222" stroke="#222" stroke-width="0.16" >−4</text>
<line x1="52.84" y1="196.30" x2="52.84" y2="199.00" stroke="#111" stroke-width="0.9" />
<text x="52.84" y="208.00" font-size="7" text-anchor="middle" fill="#222" stroke="#222" stroke-width="0.16" >−2</text>
<line x1="81.60" y1="196.30" x2="81.60" y2="199.00" stroke="#111" stroke-width="0.9" />
<text x="81.60" y="208.00" font-size="7" text-anchor="middle" fill="#222" stroke="#222" stroke-width="0.16" >0</text>
<line x1="110.36" y1="196.30" x2="110.36" y2="199.00" stroke="#111" stroke-width="0.9" />
<text x="110.36" y="208.00" font-size="7" text-anchor="middle" fill="#222" stroke="#222" stroke-width="0.16" >2</text>
<line x1="139.12" y1="196.30" x2="139.12" y2="199.00" stroke="#111" stroke-width="0.9" />
<text x="139.12" y="208.00" font-size="7" text-anchor="middle" fill="#222" stroke="#222" stroke-width="0.16" >4</text>
<line x1="38.46" y1="196.30" x2="38.46" y2="198.00" stroke="#111" stroke-width="0.7" />
<line x1="67.22" y1="196.30" x2="67.22" y2="198.00" stroke="#111" stroke-width="0.7" />
<line x1="95.98" y1="196.30" x2="95.98" y2="198.00" stroke="#111" stroke-width="0.7" />
<line x1="124.74" y1="196.30" x2="124.74" y2="198.00" stroke="#111" stroke-width="0.7" />
<line x1="144.80" y1="196.30" x2="144.80" y2="199.00" stroke="#111" stroke-width="0.9" />
<text x="144.80" y="208.00" font-size="7" text-anchor="middle" fill="#222" stroke="#222" stroke-width="0.16" >4</text>
<line x1="153.80" y1="196.30" x2="153.80" y2="199.00" stroke="#111" stroke-width="0.9" />
<text x="153.80" y="208.00" font-size="7" text-anchor="middle" fill="#222" stroke="#222" stroke-width="0.16" >6</text>
<line x1="162.20" y1="196.30" x2="162.20" y2="199.00" stroke="#111" stroke-width="0.9" />
<text x="162.20" y="208.00" font-size="7" text-anchor="middle" fill="#222" stroke="#222" stroke-width="0.16" >8</text>
<line x1="171.00" y1="196.30" x2="171.00" y2="199.00" stroke="#111" stroke-width="0.9" />
<text x="171.00" y="208.00" font-size="7" text-anchor="middle" fill="#222" stroke="#222" stroke-width="0.16" >10</text>
<text x="0" y="0" font-size="9.4" fill="#222" stroke="#222" stroke-width="0.22" text-anchor="start" textLength="18.20" lengthAdjust="spacingAndGlyphs" transform="translate(89.80,220.80)">log<tspan font-size="6" dy="2">2</tspan><tspan dy="-2">FC</tspan></text>
<text x="0" y="0" font-size="9.2" fill="#222" stroke="#222" stroke-width="0.22" text-anchor="start" textLength="28.60" lengthAdjust="spacingAndGlyphs" transform="translate(28.80,137.00) rotate(-90)">-log<tspan font-size="6" dy="2">10</tspan><tspan dy="-2">padj</tspan></text>
<path d="M77,226.4 L24,226.4" stroke="#3aaad6" stroke-width="1.1"/>
<path d="M20.5,226.4 L26,224.2 L26,228.6 Z" fill="#3aaad6"/>
<path d="M86.5,226.2 L165,226.2" stroke="#6a2d7e" stroke-width="1.1"/>
<path d="M170.5,226.2 L165,224 L165,228.4 Z" fill="#6a2d7e"/>
<line x1="41.50" y1="240.80" x2="41.50" y2="234.11" stroke="#111" stroke-width="1.15" />
<path d="M39.75,235.10 L41.50,231.80 L43.25,235.10 Z" fill="#111"/>
<text x="45.70" y="239.90" font-size="6.9" text-anchor="start" fill="#222" stroke="#222" stroke-width="0.16" >EV</text>
<line x1="113.50" y1="240.80" x2="113.50" y2="234.11" stroke="#111" stroke-width="1.15" />
<path d="M111.75,235.10 L113.50,231.80 L115.25,235.10 Z" fill="#111"/>
<text x="118.00" y="239.90" font-size="6.9" text-anchor="start" fill="#222" stroke="#222" stroke-width="0.16" >MAF</text>
<circle cx="63.30" cy="252.20" r="2.30" fill="#4a1a5a" stroke="#222" stroke-width="0.9"/>
<text x="67.60" y="254.80" font-size="6.97" text-anchor="start" fill="#222" stroke="#222" stroke-width="0.16" textLength="74.80" lengthAdjust="spacingAndGlyphs" >Upregulated MAF vs EV</text>
<circle cx="63.30" cy="263.40" r="2.30" fill="#3aaad6" stroke="#222" stroke-width="0.9"/>
<text x="67.60" y="266.00" font-size="6.96" text-anchor="start" fill="#222" stroke="#222" stroke-width="0.16" textLength="85.50" lengthAdjust="spacingAndGlyphs" >Down regulated MAF vs EV</text>
<circle cx="63.30" cy="274.80" r="2.30" fill="#e8e8e8" stroke="#222" stroke-width="0.9"/>
<text x="67.60" y="277.40" font-size="6.88" text-anchor="start" fill="#222" stroke="#222" stroke-width="0.16" textLength="63.50" lengthAdjust="spacingAndGlyphs" >Non signficant vs EV</text>
<circle cx="119.00" cy="91.00" r="2.00" fill="#4a1a5a" stroke="#222" stroke-width="0.4"/>
<circle cx="121.50" cy="113.00" r="2.00" fill="#4a1a5a" stroke="#222" stroke-width="0.4"/>
<circle cx="100.20" cy="130.20" r="2.00" fill="#4a1a5a" stroke="#222" stroke-width="0.4"/>
<circle cx="171.20" cy="48.80" r="1.90" fill="#4a1a5a" />
<line x1="173.50" y1="48.80" x2="181.76" y2="48.80" stroke="#111" stroke-width="1.1" />
<path d="M180.40,50.60 L183.80,48.80 L180.40,47.00 Z" fill="#111"/>
<text x="186.50" y="51.60" font-size="6.77" text-anchor="start" fill="#222" stroke="#222" stroke-width="0.16" textLength="14.30" lengthAdjust="spacingAndGlyphs" >MAF</text>
<line x1="121.00" y1="89.80" x2="128.86" y2="85.95" stroke="#111" stroke-width="1.1" />
<path d="M128.40,88.29 L130.80,85.00 L126.73,84.88 Z" fill="#111"/>
<line x1="123.00" y1="111.00" x2="125.52" y2="106.67" stroke="#111" stroke-width="1.1" />
<path d="M126.44,108.87 L126.60,104.80 L123.15,106.96 Z" fill="#111"/>
<line x1="99.60" y1="127.80" x2="93.73" y2="95.96" stroke="#111" stroke-width="1.0" />
<path d="M95.89,97.19 L93.30,93.60 L92.16,97.88 Z" fill="#111"/>
<text x="84.00" y="89.00" font-size="7.26" text-anchor="start" fill="#222" stroke="#222" stroke-width="0.16" textLength="25.00" lengthAdjust="spacingAndGlyphs" >CCND2</text>
<text x="129.60" y="83.60" font-size="7.13" text-anchor="start" fill="#222" stroke="#222" stroke-width="0.16" textLength="20.60" lengthAdjust="spacingAndGlyphs" >ITGB7</text>
<text x="123.00" y="104.30" font-size="6.61" text-anchor="start" fill="#222" stroke="#222" stroke-width="0.16" textLength="18.00" lengthAdjust="spacingAndGlyphs" >CCR1</text>
<text x="351.20" y="34.30" font-size="9.32" text-anchor="start" fill="#222" stroke="#222" stroke-width="0.16" textLength="61.10" lengthAdjust="spacingAndGlyphs" >Accessibility of</text>
<text x="332.70" y="45.80" font-size="9.27" text-anchor="start" fill="#222" stroke="#222" stroke-width="0.16" textLength="99.90" lengthAdjust="spacingAndGlyphs" >MAF-associated regions</text>
<circle cx="291.46" cy="156.22" r="0.85" fill="#141414" />
<circle cx="342.25" cy="186.15" r="0.85" fill="#141414" />
<circle cx="297.64" cy="110.25" r="0.85" fill="#141414" />
<circle cx="286.59" cy="114.65" r="0.85" fill="#141414" />
<circle cx="288.07" cy="119.98" r="0.85" fill="#141414" />
<circle cx="313.79" cy="121.38" r="0.85" fill="#141414" />
<circle cx="437.23" cy="182.86" r="0.85" fill="#141414" />
<circle cx="296.88" cy="193.41" r="1.50" fill="#f39a12" stroke="#5a0a14" stroke-width="0.4"/>
<circle cx="287.64" cy="103.60" r="0.85" fill="#141414" />
<circle cx="320.80" cy="176.68" r="1.50" fill="#f39a12" stroke="#5a0a14" stroke-width="0.4"/>
<circle cx="302.31" cy="137.96" r="1.50" fill="#f39a12" stroke="#5a0a14" stroke-width="0.4"/>
<circle cx="315.82" cy="125.98" r="0.85" fill="#141414" />
<circle cx="288.24" cy="112.95" r="0.85" fill="#141414" />
<circle cx="400.18" cy="178.85" r="0.85" fill="#141414" />
<circle cx="311.18" cy="185.12" r="0.85" fill="#141414" />
<circle cx="303.41" cy="156.11" r="1.50" fill="#f39a12" stroke="#5a0a14" stroke-width="0.4"/>
<circle cx="286.70" cy="149.05" r="0.85" fill="#141414" />
<circle cx="302.18" cy="184.36" r="0.85" fill="#141414" />
<circle cx="294.05" cy="138.97" r="1.50" fill="#f39a12" stroke="#5a0a14" stroke-width="0.4"/>
<circle cx="286.16" cy="98.75" r="0.85" fill="#141414" />
<circle cx="292.29" cy="180.40" r="1.50" fill="#c00f2e" stroke="#5a0a14" stroke-width="0.4"/>
<circle cx="317.57" cy="181.15" r="0.85" fill="#141414" />
<circle cx="285.93" cy="202.90" r="1.50" fill="#c00f2e" stroke="#5a0a14" stroke-width="0.4"/>
<circle cx="293.22" cy="192.59" r="1.50" fill="#f39a12" stroke="#5a0a14" stroke-width="0.4"/>
<circle cx="324.74" cy="158.55" r="1.50" fill="#c00f2e" stroke="#5a0a14" stroke-width="0.4"/>
<circle cx="337.70" cy="189.31" r="0.85" fill="#141414" />
<circle cx="292.10" cy="101.84" r="0.85" fill="#141414" />
<circle cx="305.50" cy="117.21" r="0.85" fill="#141414" />
<circle cx="298.67" cy="107.32" r="0.85" fill="#141414" />
<circle cx="292.71" cy="131.39" r="1.50" fill="#f39a12" stroke="#5a0a14" stroke-width="0.4"/>
<circle cx="296.01" cy="189.12" r="0.85" fill="#141414" />
<circle cx="346.72" cy="186.66" r="0.85" fill="#141414" />
<circle cx="294.91" cy="154.86" r="1.50" fill="#f39a12" stroke="#5a0a14" stroke-width="0.4"/>
<circle cx="300.85" cy="200.42" r="0.85" fill="#141414" />
<circle cx="352.49" cy="185.60" r="1.50" fill="#c00f2e" stroke="#5a0a14" stroke-width="0.4"/>
<circle cx="287.09" cy="100.60" r="1.50" fill="#c00f2e" stroke="#5a0a14" stroke-width="0.4"/>
<circle cx="286.17" cy="124.48" r="1.50" fill="#c00f2e" stroke="#5a0a14" stroke-width="0.4"/>
<circle cx="387.69" cy="184.54" r="0.85" fill="#141414" />
<circle cx="291.26" cy="137.96" r="1.50" fill="#f39a12" stroke="#5a0a14" stroke-width="0.4"/>
<circle cx="289.42" cy="91.80" r="0.85" fill="#141414" />
<circle cx="297.84" cy="189.07" r="1.50" fill="#f39a12" stroke="#5a0a14" stroke-width="0.4"/>
<circle cx="301.56" cy="126.17" r="1.50" fill="#c00f2e" stroke="#5a0a14" stroke-width="0.4"/>
<circle cx="308.20" cy="135.24" r="0.85" fill="#141414" />
<circle cx="297.73" cy="123.07" r="0.85" fill="#141414" />
<circle cx="332.84" cy="147.70" r="1.50" fill="#f39a12" stroke="#5a0a14" stroke-width="0.4"/>
<circle cx="300.47" cy="182.16" r="0.85" fill="#141414" />
<circle cx="298.82" cy="187.79" r="1.50" fill="#c00f2e" stroke="#5a0a14" stroke-width="0.4"/>
<circle cx="310.95" cy="156.06" r="1.50" fill="#f39a12" stroke="#5a0a14" stroke-width="0.4"/>
<circle cx="418.46" cy="191.10" r="0.85" fill="#141414" />
<circle cx="293.90" cy="173.71" r="1.50" fill="#c00f2e" stroke="#5a0a14" stroke-width="0.4"/>
<circle cx="308.84" cy="129.59" r="0.85" fill="#141414" />
<circle cx="285.37" cy="101.92" r="0.85" fill="#141414" />
<circle cx="403.35" cy="185.10" r="0.85" fill="#141414" />
<circle cx="300.12" cy="144.69" r="1.50" fill="#c00f2e" stroke="#5a0a14" stroke-width="0.4"/>
<circle cx="307.44" cy="145.56" r="1.50" fill="#c00f2e" stroke="#5a0a14" stroke-width="0.4"/>
<circle cx="304.77" cy="147.25" r="1.50" fill="#c00f2e" stroke="#5a0a14" stroke-width="0.4"/>
<circle cx="300.69" cy="177.94" r="1.50" fill="#c00f2e" stroke="#5a0a14" stroke-width="0.4"/>
<circle cx="288.58" cy="125.38" r="1.50" fill="#c00f2e" stroke="#5a0a14" stroke-width="0.4"/>
<circle cx="285.25" cy="201.01" r="1.50" fill="#f39a12" stroke="#5a0a14" stroke-width="0.4"/>
<circle cx="288.79" cy="176.50" r="0.85" fill="#141414" />
<circle cx="393.54" cy="182.35" r="0.85" fill="#141414" />
<circle cx="339.31" cy="190.77" r="0.85" fill="#141414" />
<circle cx="347.27" cy="183.69" r="0.85" fill="#141414" />
<circle cx="312.46" cy="140.96" r="0.85" fill="#141414" />
<circle cx="301.27" cy="157.98" r="1.50" fill="#f39a12" stroke="#5a0a14" stroke-width="0.4"/>
<circle cx="303.02" cy="110.84" r="1.50" fill="#f39a12" stroke="#5a0a14" stroke-width="0.4"/>
<circle cx="309.14" cy="115.08" r="1.50" fill="#c00f2e" stroke="#5a0a14" stroke-width="0.4"/>
<circle cx="323.21" cy="179.27" r="0.85" fill="#141414" />
<circle cx="299.83" cy="110.32" r="1.50" fill="#f39a12" stroke="#5a0a14" stroke-width="0.4"/>
<circle cx="292.79" cy="131.88" r="1.50" fill="#c00f2e" stroke="#5a0a14" stroke-width="0.4"/>
<circle cx="289.19" cy="113.11" r="0.85" fill="#141414" />
<circle cx="326.99" cy="174.49" r="0.85" fill="#141414" />
<circle cx="290.10" cy="182.42" r="0.85" fill="#141414" />
<circle cx="304.03" cy="146.33" r="1.50" fill="#c00f2e" stroke="#5a0a14" stroke-width="0.4"/>
<circle cx="336.03" cy="152.52" r="0.85" fill="#141414" />
<circle cx="286.17" cy="185.55" r="1.50" fill="#c00f2e" stroke="#5a0a14" stroke-width="0.4"/>
<circle cx="306.35" cy="187.43" r="1.50" fill="#f39a12" stroke="#5a0a14" stroke-width="0.4"/>
<circle cx="300.96" cy="118.55" r="0.85" fill="#141414" />
<circle cx="288.53" cy="108.91" r="0.85" fill="#141414" />
<circle cx="289.10" cy="134.31" r="0.85" fill="#141414" />
<circle cx="289.28" cy="185.57" r="1.50" fill="#c00f2e" stroke="#5a0a14" stroke-width="0.4"/>
<circle cx="419.05" cy="142.45" r="0.85" fill="#141414" />
<circle cx="352.34" cy="191.94" r="0.85" fill="#141414" />
<circle cx="312.87" cy="118.99" r="0.85" fill="#141414" />
<circle cx="285.48" cy="129.97" r="0.85" fill="#141414" />
<circle cx="301.07" cy="185.39" r="1.50" fill="#f39a12" stroke="#5a0a14" stroke-width="0.4"/>
<circle cx="297.77" cy="151.97" r="1.50" fill="#f39a12" stroke="#5a0a14" stroke-width="0.4"/>
<circle cx="312.33" cy="186.42" r="0.85" fill="#141414" />
<circle cx="296.47" cy="99.84" r="1.50" fill="#f39a12" stroke="#5a0a14" stroke-width="0.4"/>
<circle cx="304.33" cy="116.63" r="1.50" fill="#f39a12" stroke="#5a0a14" stroke-width="0.4"/>
<circle cx="286.64" cy="131.07" r="1.50" fill="#f39a12" stroke="#5a0a14" stroke-width="0.4"/>
<circle cx="331.98" cy="140.98" r="1.50" fill="#f39a12" stroke="#5a0a14" stroke-width="0.4"/>
<circle cx="302.94" cy="129.48" r="0.85" fill="#141414" />
<circle cx="315.33" cy="175.20" r="1.50" fill="#c00f2e" stroke="#5a0a14" stroke-width="0.4"/>
<circle cx="318.58" cy="173.88" r="1.50" fill="#c00f2e" stroke="#5a0a14" stroke-width="0.4"/>
<circle cx="288.68" cy="110.69" r="0.85" fill="#141414" />
<circle cx="285.73" cy="121.54" r="1.50" fill="#f39a12" stroke="#5a0a14" stroke-width="0.4"/>
<circle cx="287.64" cy="94.53" r="1.50" fill="#c00f2e" stroke="#5a0a14" stroke-width="0.4"/>
<circle cx="301.95" cy="137.03" r="0.85" fill="#141414" />
<circle cx="287.23" cy="97.45" r="1.50" fill="#c00f2e" stroke="#5a0a14" stroke-width="0.4"/>
<circle cx="296.38" cy="177.41" r="1.50" fill="#c00f2e" stroke="#5a0a14" stroke-width="0.4"/>
<circle cx="371.61" cy="185.70" r="0.85" fill="#141414" />
<circle cx="292.55" cy="95.67" r="1.50" fill="#f39a12" stroke="#5a0a14" stroke-width="0.4"/>
<circle cx="396.18" cy="182.26" r="0.85" fill="#141414" />
<circle cx="295.93" cy="189.81" r="0.85" fill="#141414" />
<circle cx="300.75" cy="132.51" r="1.50" fill="#f39a12" stroke="#5a0a14" stroke-width="0.4"/>
<circle cx="300.91" cy="102.40" r="1.50" fill="#f39a12" stroke="#5a0a14" stroke-width="0.4"/>
<circle cx="302.36" cy="173.60" r="0.85" fill="#141414" />
<circle cx="285.27" cy="184.76" r="1.50" fill="#c00f2e" stroke="#5a0a14" stroke-width="0.4"/>
<circle cx="335.95" cy="152.51" r="0.85" fill="#141414" />
<circle cx="311.80" cy="186.88" r="1.50" fill="#f39a12" stroke="#5a0a14" stroke-width="0.4"/>
<circle cx="295.05" cy="92.33" r="0.85" fill="#141414" />
<circle cx="286.71" cy="93.55" r="0.85" fill="#141414" />
<circle cx="289.33" cy="190.70" r="0.85" fill="#141414" />
<circle cx="332.63" cy="156.50" r="0.85" fill="#141414" />
<circle cx="290.58" cy="116.41" r="1.50" fill="#f39a12" stroke="#5a0a14" stroke-width="0.4"/>
<circle cx="304.35" cy="183.92" r="1.50" fill="#c00f2e" stroke="#5a0a14" stroke-width="0.4"/>
<circle cx="429.04" cy="190.61" r="0.85" fill="#141414" />
<circle cx="302.31" cy="116.61" r="0.85" fill="#141414" />
<circle cx="302.75" cy="123.16" r="1.50" fill="#f39a12" stroke="#5a0a14" stroke-width="0.4"/>
<circle cx="303.19" cy="176.29" r="1.50" fill="#f39a12" stroke="#5a0a14" stroke-width="0.4"/>
<circle cx="343.83" cy="182.61" r="1.50" fill="#f39a12" stroke="#5a0a14" stroke-width="0.4"/>
<circle cx="332.19" cy="127.72" r="1.50" fill="#f39a12" stroke="#5a0a14" stroke-width="0.4"/>
<circle cx="298.49" cy="120.61" r="0.85" fill="#141414" />
<circle cx="304.23" cy="193.13" r="1.50" fill="#f39a12" stroke="#5a0a14" stroke-width="0.4"/>
<circle cx="367.88" cy="185.92" r="0.85" fill="#141414" />
<circle cx="296.01" cy="137.07" r="0.85" fill="#141414" />
<circle cx="309.01" cy="130.62" r="1.50" fill="#f39a12" stroke="#5a0a14" stroke-width="0.4"/>
<circle cx="311.57" cy="151.59" r="0.85" fill="#141414" />
<circle cx="302.12" cy="117.91" r="1.50" fill="#f39a12" stroke="#5a0a14" stroke-width="0.4"/>
<circle cx="305.20" cy="136.82" r="1.50" fill="#f39a12" stroke="#5a0a14" stroke-width="0.4"/>
<circle cx="295.91" cy="134.65" r="0.85" fill="#141414" />
<circle cx="285.30" cy="220.68" r="1.50" fill="#f39a12" stroke="#5a0a14" stroke-width="0.4"/>
<circle cx="322.63" cy="136.30" r="1.50" fill="#c00f2e" stroke="#5a0a14" stroke-width="0.4"/>
<circle cx="291.42" cy="201.78" r="1.50" fill="#f39a12" stroke="#5a0a14" stroke-width="0.4"/>
<circle cx="288.58" cy="121.07" r="0.85" fill="#141414" />
<circle cx="302.34" cy="106.63" r="1.50" fill="#f39a12" stroke="#5a0a14" stroke-width="0.4"/>
<circle cx="285.76" cy="100.66" r="1.50" fill="#f39a12" stroke="#5a0a14" stroke-width="0.4"/>
<circle cx="301.66" cy="126.64" r="0.85" fill="#141414" />
<circle cx="293.81" cy="87.11" r="0.85" fill="#141414" />
<circle cx="285.20" cy="174.07" r="1.50" fill="#f39a12" stroke="#5a0a14" stroke-width="0.4"/>
<circle cx="353.22" cy="184.12" r="0.85" fill="#141414" />
<circle cx="309.18" cy="136.96" r="1.50" fill="#c00f2e" stroke="#5a0a14" stroke-width="0.4"/>
<circle cx="292.44" cy="196.42" r="0.85" fill="#141414" />
<circle cx="289.01" cy="172.43" r="0.85" fill="#141414" />
<circle cx="329.61" cy="147.43" r="0.85" fill="#141414" />
<circle cx="435.17" cy="180.20" r="0.85" fill="#141414" />
<circle cx="293.11" cy="175.20" r="1.50" fill="#c00f2e" stroke="#5a0a14" stroke-width="0.4"/>
<circle cx="362.71" cy="182.44" r="0.85" fill="#141414" />
<circle cx="306.35" cy="117.03" r="0.85" fill="#141414" />
<circle cx="289.24" cy="188.94" r="1.50" fill="#c00f2e" stroke="#5a0a14" stroke-width="0.4"/>
<circle cx="308.51" cy="112.99" r="1.50" fill="#f39a12" stroke="#5a0a14" stroke-width="0.4"/>
<circle cx="290.82" cy="137.71" r="1.50" fill="#f39a12" stroke="#5a0a14" stroke-width="0.4"/>
<circle cx="338.01" cy="186.32" r="0.85" fill="#141414" />
<circle cx="305.57" cy="124.10" r="0.85" fill="#141414" />
<circle cx="416.93" cy="187.71" r="0.85" fill="#141414" />
<circle cx="288.35" cy="189.89" r="1.50" fill="#f39a12" stroke="#5a0a14" stroke-width="0.4"/>
<circle cx="286.39" cy="171.10" r="1.50" fill="#c00f2e" stroke="#5a0a14" stroke-width="0.4"/>
<circle cx="290.47" cy="90.58" r="0.85" fill="#141414" />
<circle cx="313.69" cy="148.04" r="1.50" fill="#c00f2e" stroke="#5a0a14" stroke-width="0.4"/>
<circle cx="393.29" cy="187.60" r="0.85" fill="#141414" />
<circle cx="292.89" cy="103.67" r="1.50" fill="#c00f2e" stroke="#5a0a14" stroke-width="0.4"/>
<circle cx="305.92" cy="143.93" r="0.85" fill="#141414" />
<circle cx="302.63" cy="148.80" r="1.50" fill="#c00f2e" stroke="#5a0a14" stroke-width="0.4"/>
<circle cx="311.02" cy="123.22" r="0.85" fill="#141414" />
<circle cx="311.72" cy="149.92" r="1.50" fill="#f39a12" stroke="#5a0a14" stroke-width="0.4"/>
<circle cx="352.92" cy="184.98" r="0.85" fill="#141414" />
<circle cx="303.80" cy="181.20" r="0.85" fill="#141414" />
<circle cx="295.11" cy="97.41" r="0.85" fill="#141414" />
<circle cx="294.23" cy="129.41" r="0.85" fill="#141414" />
<circle cx="313.40" cy="145.82" r="1.50" fill="#c00f2e" stroke="#5a0a14" stroke-width="0.4"/>
<circle cx="288.15" cy="105.70" r="1.50" fill="#f39a12" stroke="#5a0a14" stroke-width="0.4"/>
<circle cx="302.64" cy="176.85" r="1.50" fill="#f39a12" stroke="#5a0a14" stroke-width="0.4"/>
<circle cx="316.63" cy="179.56" r="0.85" fill="#141414" />
<circle cx="310.20" cy="152.82" r="0.85" fill="#141414" />
<circle cx="286.05" cy="116.42" r="1.50" fill="#f39a12" stroke="#5a0a14" stroke-width="0.4"/>
<circle cx="285.80" cy="180.80" r="0.85" fill="#141414" />
<circle cx="291.27" cy="128.31" r="1.50" fill="#f39a12" stroke="#5a0a14" stroke-width="0.4"/>
<circle cx="380.39" cy="184.62" r="0.85" fill="#141414" />
<circle cx="434.85" cy="187.70" r="0.85" fill="#141414" />
<circle cx="290.32" cy="67.90" r="1.50" fill="#f39a12" stroke="#5a0a14" stroke-width="0.4"/>
<circle cx="360.90" cy="183.86" r="0.85" fill="#141414" />
<circle cx="321.63" cy="179.57" r="0.85" fill="#141414" />
<circle cx="286.16" cy="146.33" r="1.50" fill="#f39a12" stroke="#5a0a14" stroke-width="0.4"/>
<circle cx="294.97" cy="106.87" r="1.50" fill="#f39a12" stroke="#5a0a14" stroke-width="0.4"/>
<circle cx="344.12" cy="135.60" r="1.50" fill="#f39a12" stroke="#5a0a14" stroke-width="0.4"/>
<circle cx="366.87" cy="186.18" r="0.85" fill="#141414" />
<circle cx="288.80" cy="108.74" r="1.50" fill="#c00f2e" stroke="#5a0a14" stroke-width="0.4"/>
<circle cx="297.75" cy="143.16" r="0.85" fill="#141414" />
<circle cx="295.90" cy="189.47" r="1.50" fill="#f39a12" stroke="#5a0a14" stroke-width="0.4"/>
<circle cx="324.94" cy="152.91" r="0.85" fill="#141414" />
<circle cx="306.42" cy="116.34" r="0.85" fill="#141414" />
<circle cx="299.12" cy="100.29" r="1.50" fill="#f39a12" stroke="#5a0a14" stroke-width="0.4"/>
<circle cx="304.16" cy="184.63" r="0.85" fill="#141414" />
<circle cx="295.17" cy="135.30" r="1.50" fill="#c00f2e" stroke="#5a0a14" stroke-width="0.4"/>
<circle cx="412.48" cy="177.93" r="0.85" fill="#141414" />
<circle cx="309.95" cy="184.74" r="0.85" fill="#141414" />
<circle cx="327.78" cy="138.06" r="0.85" fill="#141414" />
<circle cx="292.48" cy="182.98" r="0.85" fill="#141414" />
<circle cx="289.75" cy="183.96" r="0.85" fill="#141414" />
<circle cx="479.27" cy="180.97" r="0.85" fill="#141414" />
<circle cx="314.12" cy="121.85" r="1.50" fill="#c00f2e" stroke="#5a0a14" stroke-width="0.4"/>
<circle cx="292.95" cy="139.29" r="1.50" fill="#c00f2e" stroke="#5a0a14" stroke-width="0.4"/>
<circle cx="285.66" cy="204.36" r="0.85" fill="#141414" />
<circle cx="317.81" cy="141.26" r="1.50" fill="#c00f2e" stroke="#5a0a14" stroke-width="0.4"/>
<circle cx="291.22" cy="178.82" r="1.50" fill="#c00f2e" stroke="#5a0a14" stroke-width="0.4"/>
<circle cx="290.80" cy="182.31" r="0.85" fill="#141414" />
<circle cx="293.81" cy="111.52" r="1.50" fill="#f39a12" stroke="#5a0a14" stroke-width="0.4"/>
<circle cx="290.87" cy="67.97" r="1.50" fill="#c00f2e" stroke="#5a0a14" stroke-width="0.4"/>
<circle cx="304.01" cy="186.86" r="1.50" fill="#f39a12" stroke="#5a0a14" stroke-width="0.4"/>
<circle cx="324.96" cy="148.97" r="0.85" fill="#141414" />
<circle cx="312.26" cy="177.16" r="0.85" fill="#141414" />
<circle cx="286.09" cy="95.33" r="0.85" fill="#141414" />
<circle cx="296.92" cy="115.69" r="1.50" fill="#f39a12" stroke="#5a0a14" stroke-width="0.4"/>
<circle cx="314.66" cy="128.43" r="1.50" fill="#f39a12" stroke="#5a0a14" stroke-width="0.4"/>
<circle cx="306.18" cy="188.17" r="0.85" fill="#141414" />
<circle cx="287.41" cy="122.03" r="1.50" fill="#c00f2e" stroke="#5a0a14" stroke-width="0.4"/>
<circle cx="309.61" cy="191.07" r="1.50" fill="#c00f2e" stroke="#5a0a14" stroke-width="0.4"/>
<circle cx="286.69" cy="103.82" r="0.85" fill="#141414" />
<circle cx="297.55" cy="107.37" r="1.50" fill="#c00f2e" stroke="#5a0a14" stroke-width="0.4"/>
<circle cx="413.96" cy="191.62" r="0.85" fill="#141414" />
<circle cx="302.99" cy="108.63" r="1.50" fill="#f39a12" stroke="#5a0a14" stroke-width="0.4"/>
<circle cx="291.38" cy="106.34" r="0.85" fill="#141414" />
<circle cx="293.93" cy="97.07" r="0.85" fill="#141414" />
<circle cx="316.19" cy="145.45" r="1.50" fill="#c00f2e" stroke="#5a0a14" stroke-width="0.4"/>
<circle cx="287.51" cy="171.23" r="1.50" fill="#c00f2e" stroke="#5a0a14" stroke-width="0.4"/>
<circle cx="293.56" cy="125.48" r="1.50" fill="#c00f2e" stroke="#5a0a14" stroke-width="0.4"/>
<circle cx="397.70" cy="176.39" r="0.85" fill="#141414" />
<circle cx="314.63" cy="124.57" r="0.85" fill="#141414" />
<circle cx="285.31" cy="101.09" r="0.85" fill="#141414" />
<circle cx="285.30" cy="99.89" r="1.50" fill="#c00f2e" stroke="#5a0a14" stroke-width="0.4"/>
<circle cx="286.31" cy="179.05" r="0.85" fill="#141414" />
<circle cx="338.97" cy="147.72" r="1.50" fill="#f39a12" stroke="#5a0a14" stroke-width="0.4"/>
<circle cx="293.46" cy="113.28" r="0.85" fill="#141414" />
<circle cx="311.61" cy="132.49" r="0.85" fill="#141414" />
<circle cx="346.69" cy="187.29" r="0.85" fill="#141414" />
<circle cx="296.90" cy="117.90" r="1.50" fill="#c00f2e" stroke="#5a0a14" stroke-width="0.4"/>
<circle cx="327.23" cy="180.62" r="0.85" fill="#141414" />
<circle cx="287.08" cy="137.27" r="1.50" fill="#c00f2e" stroke="#5a0a14" stroke-width="0.4"/>
<circle cx="301.62" cy="176.74" r="0.85" fill="#141414" />
<circle cx="308.71" cy="184.57" r="0.85" fill="#141414" />
<circle cx="288.93" cy="124.10" r="1.50" fill="#f39a12" stroke="#5a0a14" stroke-width="0.4"/>
<circle cx="287.61" cy="145.20" r="1.50" fill="#f39a12" stroke="#5a0a14" stroke-width="0.4"/>
<circle cx="285.56" cy="144.38" r="0.85" fill="#141414" />
<circle cx="331.87" cy="141.76" r="0.85" fill="#141414" />
<circle cx="306.31" cy="112.01" r="0.85" fill="#141414" />
<circle cx="292.49" cy="149.42" r="1.50" fill="#c00f2e" stroke="#5a0a14" stroke-width="0.4"/>
<circle cx="297.01" cy="103.89" r="0.85" fill="#141414" />
<circle cx="329.68" cy="184.34" r="1.50" fill="#c00f2e" stroke="#5a0a14" stroke-width="0.4"/>
<circle cx="321.84" cy="140.22" r="1.50" fill="#f39a12" stroke="#5a0a14" stroke-width="0.4"/>
<circle cx="294.76" cy="111.48" r="1.50" fill="#f39a12" stroke="#5a0a14" stroke-width="0.4"/>
<circle cx="290.74" cy="111.61" r="0.85" fill="#141414" />
<circle cx="404.81" cy="186.36" r="0.85" fill="#141414" />
<circle cx="292.56" cy="180.59" r="1.50" fill="#f39a12" stroke="#5a0a14" stroke-width="0.4"/>
<circle cx="287.16" cy="181.85" r="1.50" fill="#c00f2e" stroke="#5a0a14" stroke-width="0.4"/>
<circle cx="338.48" cy="190.75" r="0.85" fill="#141414" />
<circle cx="288.05" cy="148.69" r="1.50" fill="#f39a12" stroke="#5a0a14" stroke-width="0.4"/>
<circle cx="296.28" cy="203.19" r="1.50" fill="#c00f2e" stroke="#5a0a14" stroke-width="0.4"/>
<circle cx="286.39" cy="82.90" r="0.85" fill="#141414" />
<circle cx="285.13" cy="178.52" r="1.50" fill="#c00f2e" stroke="#5a0a14" stroke-width="0.4"/>
<circle cx="303.92" cy="109.32" r="1.50" fill="#c00f2e" stroke="#5a0a14" stroke-width="0.4"/>
<circle cx="300.05" cy="142.77" r="0.85" fill="#141414" />
<circle cx="313.76" cy="136.54" r="1.50" fill="#f39a12" stroke="#5a0a14" stroke-width="0.4"/>
<circle cx="293.46" cy="108.98" r="1.50" fill="#f39a12" stroke="#5a0a14" stroke-width="0.4"/>
<circle cx="412.66" cy="183.85" r="0.85" fill="#141414" />
<circle cx="290.77" cy="137.67" r="0.85" fill="#141414" />
<circle cx="300.72" cy="193.36" r="1.50" fill="#c00f2e" stroke="#5a0a14" stroke-width="0.4"/>
<circle cx="407.79" cy="189.89" r="0.85" fill="#141414" />
<circle cx="289.63" cy="125.02" r="0.85" fill="#141414" />
<circle cx="314.12" cy="128.52" r="1.50" fill="#f39a12" stroke="#5a0a14" stroke-width="0.4"/>
<circle cx="293.06" cy="115.48" r="0.85" fill="#141414" />
<circle cx="360.22" cy="187.12" r="0.85" fill="#141414" />
<circle cx="292.13" cy="106.49" r="0.85" fill="#141414" />
<circle cx="399.45" cy="188.15" r="1.50" fill="#c00f2e" stroke="#5a0a14" stroke-width="0.4"/>
<circle cx="300.46" cy="132.38" r="1.50" fill="#f39a12" stroke="#5a0a14" stroke-width="0.4"/>
<circle cx="292.93" cy="102.31" r="1.50" fill="#f39a12" stroke="#5a0a14" stroke-width="0.4"/>
<circle cx="327.06" cy="171.76" r="0.85" fill="#141414" />
<circle cx="293.43" cy="98.18" r="1.50" fill="#c00f2e" stroke="#5a0a14" stroke-width="0.4"/>
<circle cx="290.13" cy="182.51" r="1.50" fill="#c00f2e" stroke="#5a0a14" stroke-width="0.4"/>
<circle cx="332.09" cy="191.06" r="1.50" fill="#c00f2e" stroke="#5a0a14" stroke-width="0.4"/>
<circle cx="297.12" cy="184.48" r="1.50" fill="#f39a12" stroke="#5a0a14" stroke-width="0.4"/>
<circle cx="339.13" cy="157.07" r="1.50" fill="#f39a12" stroke="#5a0a14" stroke-width="0.4"/>
<circle cx="289.53" cy="101.76" r="1.50" fill="#c00f2e" stroke="#5a0a14" stroke-width="0.4"/>
<circle cx="302.17" cy="121.27" r="1.50" fill="#c00f2e" stroke="#5a0a14" stroke-width="0.4"/>
<circle cx="438.86" cy="176.36" r="0.85" fill="#141414" />
<circle cx="285.69" cy="91.14" r="1.50" fill="#f39a12" stroke="#5a0a14" stroke-width="0.4"/>
<circle cx="319.12" cy="180.98" r="1.50" fill="#c00f2e" stroke="#5a0a14" stroke-width="0.4"/>
<circle cx="300.35" cy="143.69" r="1.50" fill="#f39a12" stroke="#5a0a14" stroke-width="0.4"/>
<circle cx="326.86" cy="137.65" r="0.85" fill="#141414" />
<circle cx="285.88" cy="106.75" r="1.50" fill="#f39a12" stroke="#5a0a14" stroke-width="0.4"/>
<circle cx="287.11" cy="111.72" r="1.50" fill="#c00f2e" stroke="#5a0a14" stroke-width="0.4"/>
<circle cx="290.31" cy="183.80" r="1.50" fill="#c00f2e" stroke="#5a0a14" stroke-width="0.4"/>
<circle cx="292.74" cy="171.67" r="1.50" fill="#c00f2e" stroke="#5a0a14" stroke-width="0.4"/>
<circle cx="302.04" cy="103.50" r="1.50" fill="#f39a12" stroke="#5a0a14" stroke-width="0.4"/>
<circle cx="291.11" cy="122.02" r="1.50" fill="#c00f2e" stroke="#5a0a14" stroke-width="0.4"/>
<circle cx="304.63" cy="119.05" r="1.50" fill="#f39a12" stroke="#5a0a14" stroke-width="0.4"/>
<circle cx="286.24" cy="86.99" r="1.50" fill="#c00f2e" stroke="#5a0a14" stroke-width="0.4"/>
<circle cx="301.91" cy="104.34" r="1.50" fill="#c00f2e" stroke="#5a0a14" stroke-width="0.4"/>
<circle cx="303.79" cy="112.99" r="0.85" fill="#141414" />
<circle cx="307.75" cy="116.74" r="1.50" fill="#f39a12" stroke="#5a0a14" stroke-width="0.4"/>
<circle cx="295.73" cy="124.99" r="1.50" fill="#f39a12" stroke="#5a0a14" stroke-width="0.4"/>
<circle cx="298.02" cy="177.54" r="1.50" fill="#c00f2e" stroke="#5a0a14" stroke-width="0.4"/>
<circle cx="437.64" cy="190.90" r="0.85" fill="#141414" />
<circle cx="286.41" cy="116.24" r="1.50" fill="#f39a12" stroke="#5a0a14" stroke-width="0.4"/>
<circle cx="344.50" cy="187.41" r="0.85" fill="#141414" />
<circle cx="312.85" cy="148.64" r="0.85" fill="#141414" />
<circle cx="323.84" cy="170.99" r="1.50" fill="#f39a12" stroke="#5a0a14" stroke-width="0.4"/>
<circle cx="293.13" cy="130.59" r="0.85" fill="#141414" />
<circle cx="286.17" cy="176.58" r="0.85" fill="#141414" />
<circle cx="308.55" cy="158.63" r="1.50" fill="#f39a12" stroke="#5a0a14" stroke-width="0.4"/>
<circle cx="298.44" cy="114.25" r="1.50" fill="#c00f2e" stroke="#5a0a14" stroke-width="0.4"/>
<circle cx="291.81" cy="95.16" r="0.85" fill="#141414" />
<circle cx="375.80" cy="193.54" r="0.85" fill="#141414" />
<circle cx="436.23" cy="185.76" r="0.85" fill="#141414" />
<circle cx="302.50" cy="142.45" r="1.50" fill="#f39a12" stroke="#5a0a14" stroke-width="0.4"/>
<circle cx="297.97" cy="130.76" r="0.85" fill="#141414" />
<circle cx="303.71" cy="180.09" r="0.85" fill="#141414" />
<circle cx="338.83" cy="185.70" r="0.85" fill="#141414" />
<circle cx="311.49" cy="147.56" r="1.50" fill="#c00f2e" stroke="#5a0a14" stroke-width="0.4"/>
<circle cx="296.79" cy="184.14" r="0.85" fill="#141414" />
<circle cx="330.91" cy="147.62" r="0.85" fill="#141414" />
<circle cx="290.28" cy="115.09" r="1.50" fill="#f39a12" stroke="#5a0a14" stroke-width="0.4"/>
<circle cx="298.54" cy="131.06" r="0.85" fill="#141414" />
<circle cx="289.17" cy="98.93" r="0.85" fill="#141414" />
<circle cx="308.85" cy="182.89" r="0.85" fill="#141414" />
<circle cx="389.24" cy="186.24" r="0.85" fill="#141414" />
<circle cx="305.52" cy="119.28" r="0.85" fill="#141414" />
<circle cx="311.39" cy="136.99" r="1.50" fill="#f39a12" stroke="#5a0a14" stroke-width="0.4"/>
<circle cx="309.00" cy="118.66" r="1.50" fill="#f39a12" stroke="#5a0a14" stroke-width="0.4"/>
<circle cx="305.23" cy="134.87" r="1.50" fill="#f39a12" stroke="#5a0a14" stroke-width="0.4"/>
<circle cx="291.08" cy="97.25" r="0.85" fill="#141414" />
<circle cx="411.42" cy="185.65" r="0.85" fill="#141414" />
<circle cx="285.72" cy="98.86" r="0.85" fill="#141414" />
<circle cx="300.65" cy="140.47" r="1.50" fill="#f39a12" stroke="#5a0a14" stroke-width="0.4"/>
<circle cx="347.13" cy="187.51" r="0.85" fill="#141414" />
<circle cx="305.67" cy="182.15" r="0.85" fill="#141414" />
<circle cx="291.86" cy="142.91" r="1.50" fill="#c00f2e" stroke="#5a0a14" stroke-width="0.4"/>
<circle cx="286.03" cy="191.65" r="0.85" fill="#141414" />
<circle cx="296.93" cy="112.22" r="0.85" fill="#141414" />
<circle cx="285.41" cy="109.26" r="1.50" fill="#f39a12" stroke="#5a0a14" stroke-width="0.4"/>
<circle cx="404.23" cy="190.38" r="1.50" fill="#f39a12" stroke="#5a0a14" stroke-width="0.4"/>
<circle cx="303.04" cy="113.37" r="0.85" fill="#141414" />
<circle cx="330.19" cy="180.39" r="0.85" fill="#141414" />
<circle cx="366.17" cy="184.47" r="0.85" fill="#141414" />
<circle cx="290.86" cy="182.75" r="1.50" fill="#c00f2e" stroke="#5a0a14" stroke-width="0.4"/>
<circle cx="293.72" cy="176.27" r="1.50" fill="#c00f2e" stroke="#5a0a14" stroke-width="0.4"/>
<circle cx="285.34" cy="117.96" r="1.50" fill="#c00f2e" stroke="#5a0a14" stroke-width="0.4"/>
<circle cx="295.67" cy="156.28" r="0.85" fill="#141414" />
<circle cx="293.13" cy="95.33" r="0.85" fill="#141414" />
<circle cx="307.74" cy="135.44" r="0.85" fill="#141414" />
<circle cx="295.85" cy="125.00" r="1.50" fill="#f39a12" stroke="#5a0a14" stroke-width="0.4"/>
<circle cx="294.97" cy="115.23" r="1.50" fill="#c00f2e" stroke="#5a0a14" stroke-width="0.4"/>
<circle cx="372.25" cy="184.26" r="0.85" fill="#141414" />
<circle cx="285.78" cy="95.87" r="1.50" fill="#f39a12" stroke="#5a0a14" stroke-width="0.4"/>
<circle cx="306.21" cy="185.93" r="0.85" fill="#141414" />
<circle cx="292.56" cy="147.29" r="1.50" fill="#f39a12" stroke="#5a0a14" stroke-width="0.4"/>
<circle cx="311.98" cy="122.71" r="0.85" fill="#141414" />
<circle cx="300.80" cy="143.10" r="1.50" fill="#c00f2e" stroke="#5a0a14" stroke-width="0.4"/>
<circle cx="332.77" cy="135.60" r="0.85" fill="#141414" />
<circle cx="293.06" cy="105.79" r="0.85" fill="#141414" />
<circle cx="292.73" cy="133.00" r="1.50" fill="#f39a12" stroke="#5a0a14" stroke-width="0.4"/>
<circle cx="296.02" cy="178.36" r="0.85" fill="#141414" />
<circle cx="298.04" cy="101.44" r="1.50" fill="#c00f2e" stroke="#5a0a14" stroke-width="0.4"/>
<circle cx="287.35" cy="145.66" r="1.50" fill="#c00f2e" stroke="#5a0a14" stroke-width="0.4"/>
<circle cx="286.97" cy="152.01" r="1.50" fill="#c00f2e" stroke="#5a0a14" stroke-width="0.4"/>
<circle cx="304.90" cy="145.56" r="1.50" fill="#f39a12" stroke="#5a0a14" stroke-width="0.4"/>
<circle cx="287.89" cy="96.47" r="1.50" fill="#c00f2e" stroke="#5a0a14" stroke-width="0.4"/>
<circle cx="285.36" cy="126.83" r="0.85" fill="#141414" />
<circle cx="285.13" cy="182.35" r="0.85" fill="#141414" />
<circle cx="378.91" cy="187.91" r="0.85" fill="#141414" />
<circle cx="348.68" cy="191.75" r="0.85" fill="#141414" />
<circle cx="301.12" cy="177.47" r="0.85" fill="#141414" />
<circle cx="309.19" cy="141.12" r="1.50" fill="#c00f2e" stroke="#5a0a14" stroke-width="0.4"/>
<circle cx="301.17" cy="134.66" r="0.85" fill="#141414" />
<circle cx="307.78" cy="188.07" r="1.50" fill="#f39a12" stroke="#5a0a14" stroke-width="0.4"/>
<circle cx="300.92" cy="119.65" r="1.50" fill="#f39a12" stroke="#5a0a14" stroke-width="0.4"/>
<circle cx="310.66" cy="121.48" r="0.85" fill="#141414" />
<circle cx="317.38" cy="195.55" r="0.85" fill="#141414" />
<circle cx="292.43" cy="100.42" r="0.85" fill="#141414" />
<circle cx="304.99" cy="117.76" r="1.50" fill="#f39a12" stroke="#5a0a14" stroke-width="0.4"/>
<circle cx="288.55" cy="113.11" r="0.85" fill="#141414" />
<circle cx="289.67" cy="106.23" r="1.50" fill="#f39a12" stroke="#5a0a14" stroke-width="0.4"/>
<circle cx="293.40" cy="123.43" r="1.50" fill="#c00f2e" stroke="#5a0a14" stroke-width="0.4"/>
<circle cx="415.32" cy="186.13" r="0.85" fill="#141414" />
<circle cx="294.73" cy="91.96" r="0.85" fill="#141414" />
<circle cx="371.32" cy="184.84" r="0.85" fill="#141414" />
<circle cx="289.75" cy="121.26" r="0.85" fill="#141414" />
<circle cx="295.95" cy="178.96" r="0.85" fill="#141414" />
<circle cx="312.59" cy="145.14" r="0.85" fill="#141414" />
<circle cx="314.84" cy="175.63" r="0.85" fill="#141414" />
<circle cx="287.76" cy="173.79" r="1.50" fill="#f39a12" stroke="#5a0a14" stroke-width="0.4"/>
<circle cx="292.35" cy="115.02" r="1.50" fill="#c00f2e" stroke="#5a0a14" stroke-width="0.4"/>
<circle cx="304.83" cy="111.87" r="0.85" fill="#141414" />
<circle cx="365.73" cy="188.39" r="0.85" fill="#141414" />
<circle cx="301.21" cy="134.85" r="1.50" fill="#f39a12" stroke="#5a0a14" stroke-width="0.4"/>
<circle cx="294.20" cy="101.39" r="1.50" fill="#c00f2e" stroke="#5a0a14" stroke-width="0.4"/>
<circle cx="297.84" cy="128.85" r="1.50" fill="#f39a12" stroke="#5a0a14" stroke-width="0.4"/>
<circle cx="310.20" cy="120.62" r="1.50" fill="#f39a12" stroke="#5a0a14" stroke-width="0.4"/>
<circle cx="331.65" cy="187.93" r="0.85" fill="#141414" />
<circle cx="292.74" cy="68.15" r="1.50" fill="#c00f2e" stroke="#5a0a14" stroke-width="0.4"/>
<circle cx="293.14" cy="178.05" r="0.85" fill="#141414" />
<circle cx="295.66" cy="156.80" r="1.50" fill="#c00f2e" stroke="#5a0a14" stroke-width="0.4"/>
<circle cx="314.63" cy="125.09" r="0.85" fill="#141414" />
<circle cx="285.67" cy="109.84" r="1.50" fill="#f39a12" stroke="#5a0a14" stroke-width="0.4"/>
<circle cx="443.92" cy="186.59" r="0.85" fill="#141414" />
<circle cx="288.77" cy="129.03" r="0.85" fill="#141414" />
<circle cx="307.40" cy="178.56" r="1.50" fill="#c00f2e" stroke="#5a0a14" stroke-width="0.4"/>
<circle cx="305.35" cy="140.81" r="1.50" fill="#c00f2e" stroke="#5a0a14" stroke-width="0.4"/>
<circle cx="292.54" cy="117.43" r="1.50" fill="#f39a12" stroke="#5a0a14" stroke-width="0.4"/>
<circle cx="285.92" cy="144.52" r="1.50" fill="#c00f2e" stroke="#5a0a14" stroke-width="0.4"/>
<circle cx="290.87" cy="123.74" r="1.50" fill="#f39a12" stroke="#5a0a14" stroke-width="0.4"/>
<circle cx="307.80" cy="180.01" r="1.50" fill="#c00f2e" stroke="#5a0a14" stroke-width="0.4"/>
<circle cx="287.98" cy="152.80" r="1.50" fill="#f39a12" stroke="#5a0a14" stroke-width="0.4"/>
<circle cx="288.61" cy="112.38" r="1.50" fill="#f39a12" stroke="#5a0a14" stroke-width="0.4"/>
<circle cx="287.01" cy="129.37" r="0.85" fill="#141414" />
<circle cx="307.58" cy="142.39" r="0.85" fill="#141414" />
<circle cx="307.65" cy="184.46" r="1.50" fill="#c00f2e" stroke="#5a0a14" stroke-width="0.4"/>
<circle cx="308.92" cy="118.97" r="1.50" fill="#c00f2e" stroke="#5a0a14" stroke-width="0.4"/>
<circle cx="294.82" cy="175.22" r="1.50" fill="#c00f2e" stroke="#5a0a14" stroke-width="0.4"/>
<circle cx="346.77" cy="179.72" r="1.50" fill="#c00f2e" stroke="#5a0a14" stroke-width="0.4"/>
<circle cx="292.93" cy="119.47" r="1.50" fill="#f39a12" stroke="#5a0a14" stroke-width="0.4"/>
<circle cx="298.59" cy="100.17" r="1.50" fill="#c00f2e" stroke="#5a0a14" stroke-width="0.4"/>
<circle cx="409.56" cy="179.01" r="0.85" fill="#141414" />
<circle cx="329.33" cy="140.33" r="1.50" fill="#f39a12" stroke="#5a0a14" stroke-width="0.4"/>
<circle cx="290.50" cy="93.89" r="0.85" fill="#141414" />
<circle cx="304.34" cy="180.69" r="0.85" fill="#141414" />
<circle cx="299.09" cy="132.04" r="0.85" fill="#141414" />
<circle cx="312.16" cy="126.49" r="1.50" fill="#f39a12" stroke="#5a0a14" stroke-width="0.4"/>
<circle cx="317.80" cy="146.88" r="1.50" fill="#f39a12" stroke="#5a0a14" stroke-width="0.4"/>
<circle cx="410.11" cy="152.53" r="0.85" fill="#141414" />
<circle cx="285.68" cy="107.94" r="1.50" fill="#f39a12" stroke="#5a0a14" stroke-width="0.4"/>
<circle cx="295.44" cy="95.78" r="0.85" fill="#141414" />
<circle cx="424.31" cy="181.85" r="0.85" fill="#141414" />
<circle cx="293.99" cy="109.84" r="1.50" fill="#f39a12" stroke="#5a0a14" stroke-width="0.4"/>
<circle cx="290.64" cy="131.41" r="0.85" fill="#141414" />
<circle cx="307.61" cy="112.86" r="0.85" fill="#141414" />
<circle cx="293.56" cy="111.14" r="1.50" fill="#c00f2e" stroke="#5a0a14" stroke-width="0.4"/>
<circle cx="297.96" cy="124.31" r="0.85" fill="#141414" />
<circle cx="335.15" cy="193.15" r="0.85" fill="#141414" />
<circle cx="286.74" cy="179.01" r="0.85" fill="#141414" />
<circle cx="380.67" cy="192.08" r="0.85" fill="#141414" />
<circle cx="287.27" cy="109.98" r="1.50" fill="#f39a12" stroke="#5a0a14" stroke-width="0.4"/>
<circle cx="292.82" cy="114.49" r="1.50" fill="#c00f2e" stroke="#5a0a14" stroke-width="0.4"/>
<circle cx="286.67" cy="110.98" r="1.50" fill="#c00f2e" stroke="#5a0a14" stroke-width="0.4"/>
<circle cx="299.86" cy="187.10" r="0.85" fill="#141414" />
<circle cx="285.18" cy="197.65" r="1.50" fill="#f39a12" stroke="#5a0a14" stroke-width="0.4"/>
<circle cx="287.92" cy="88.22" r="1.50" fill="#f39a12" stroke="#5a0a14" stroke-width="0.4"/>
<circle cx="324.31" cy="183.51" r="0.85" fill="#141414" />
<circle cx="357.78" cy="182.42" r="0.85" fill="#141414" />
<circle cx="292.50" cy="105.58" r="1.50" fill="#f39a12" stroke="#5a0a14" stroke-width="0.4"/>
<circle cx="323.89" cy="175.97" r="0.85" fill="#141414" />
<circle cx="294.70" cy="132.08" r="1.50" fill="#f39a12" stroke="#5a0a14" stroke-width="0.4"/>
<circle cx="292.74" cy="185.54" r="1.50" fill="#c00f2e" stroke="#5a0a14" stroke-width="0.4"/>
<circle cx="298.26" cy="122.53" r="0.85" fill="#141414" />
<circle cx="310.27" cy="137.68" r="1.50" fill="#f39a12" stroke="#5a0a14" stroke-width="0.4"/>
<circle cx="289.12" cy="103.92" r="1.50" fill="#f39a12" stroke="#5a0a14" stroke-width="0.4"/>
<circle cx="290.60" cy="136.34" r="1.50" fill="#f39a12" stroke="#5a0a14" stroke-width="0.4"/>
<circle cx="287.69" cy="192.47" r="1.50" fill="#f39a12" stroke="#5a0a14" stroke-width="0.4"/>
<circle cx="292.56" cy="108.67" r="1.50" fill="#f39a12" stroke="#5a0a14" stroke-width="0.4"/>
<circle cx="344.37" cy="184.24" r="0.85" fill="#141414" />
<circle cx="291.14" cy="122.11" r="1.50" fill="#f39a12" stroke="#5a0a14" stroke-width="0.4"/>
<circle cx="345.85" cy="138.50" r="1.50" fill="#c00f2e" stroke="#5a0a14" stroke-width="0.4"/>
<circle cx="297.59" cy="145.12" r="0.85" fill="#141414" />
<circle cx="314.06" cy="178.29" r="0.85" fill="#141414" />
<circle cx="294.40" cy="105.84" r="0.85" fill="#141414" />
<circle cx="317.89" cy="141.62" r="1.50" fill="#f39a12" stroke="#5a0a14" stroke-width="0.4"/>
<circle cx="301.74" cy="113.51" r="0.85" fill="#141414" />
<circle cx="357.46" cy="131.12" r="0.85" fill="#141414" />
<circle cx="310.98" cy="136.73" r="1.50" fill="#f39a12" stroke="#5a0a14" stroke-width="0.4"/>
<circle cx="309.35" cy="190.01" r="0.85" fill="#141414" />
<circle cx="306.89" cy="125.54" r="1.50" fill="#f39a12" stroke="#5a0a14" stroke-width="0.4"/>
<circle cx="293.82" cy="186.77" r="0.85" fill="#141414" />
<circle cx="290.40" cy="90.50" r="1.50" fill="#c00f2e" stroke="#5a0a14" stroke-width="0.4"/>
<circle cx="285.25" cy="175.20" r="1.50" fill="#f39a12" stroke="#5a0a14" stroke-width="0.4"/>
<circle cx="317.51" cy="134.90" r="1.50" fill="#f39a12" stroke="#5a0a14" stroke-width="0.4"/>
<circle cx="296.64" cy="146.49" r="0.85" fill="#141414" />
<circle cx="301.23" cy="139.39" r="0.85" fill="#141414" />
<circle cx="406.65" cy="196.94" r="0.85" fill="#141414" />
<circle cx="325.51" cy="137.16" r="1.50" fill="#f39a12" stroke="#5a0a14" stroke-width="0.4"/>
<circle cx="314.11" cy="192.83" r="0.85" fill="#141414" />
<circle cx="292.13" cy="103.41" r="1.50" fill="#f39a12" stroke="#5a0a14" stroke-width="0.4"/>
<circle cx="361.61" cy="185.77" r="0.85" fill="#141414" />
<circle cx="287.72" cy="94.48" r="1.50" fill="#c00f2e" stroke="#5a0a14" stroke-width="0.4"/>
<circle cx="286.43" cy="132.34" r="1.50" fill="#c00f2e" stroke="#5a0a14" stroke-width="0.4"/>
<circle cx="299.21" cy="191.16" r="1.50" fill="#f39a12" stroke="#5a0a14" stroke-width="0.4"/>
<circle cx="286.16" cy="116.60" r="1.50" fill="#f39a12" stroke="#5a0a14" stroke-width="0.4"/>
<circle cx="308.23" cy="117.04" r="1.50" fill="#c00f2e" stroke="#5a0a14" stroke-width="0.4"/>
<circle cx="289.66" cy="147.37" r="1.50" fill="#c00f2e" stroke="#5a0a14" stroke-width="0.4"/>
<circle cx="292.08" cy="110.69" r="1.50" fill="#c00f2e" stroke="#5a0a14" stroke-width="0.4"/>
<circle cx="285.74" cy="134.76" r="1.50" fill="#f39a12" stroke="#5a0a14" stroke-width="0.4"/>
<circle cx="291.80" cy="87.67" r="1.50" fill="#c00f2e" stroke="#5a0a14" stroke-width="0.4"/>
<circle cx="288.74" cy="190.26" r="1.50" fill="#c00f2e" stroke="#5a0a14" stroke-width="0.4"/>
<circle cx="301.20" cy="149.34" r="1.50" fill="#f39a12" stroke="#5a0a14" stroke-width="0.4"/>
<circle cx="315.79" cy="148.89" r="1.50" fill="#c00f2e" stroke="#5a0a14" stroke-width="0.4"/>
<circle cx="314.65" cy="191.29" r="0.85" fill="#141414" />
<circle cx="303.04" cy="115.45" r="1.50" fill="#c00f2e" stroke="#5a0a14" stroke-width="0.4"/>
<circle cx="287.00" cy="236.00" r="0.85" fill="#141414" />
<circle cx="305.69" cy="192.17" r="0.85" fill="#141414" />
<circle cx="295.15" cy="121.27" r="0.85" fill="#141414" />
<circle cx="377.22" cy="188.55" r="0.85" fill="#141414" />
<circle cx="393.16" cy="183.65" r="0.85" fill="#141414" />
<circle cx="297.54" cy="100.49" r="0.85" fill="#141414" />
<circle cx="306.47" cy="196.19" r="1.50" fill="#c00f2e" stroke="#5a0a14" stroke-width="0.4"/>
<circle cx="301.00" cy="184.78" r="1.50" fill="#f39a12" stroke="#5a0a14" stroke-width="0.4"/>
<circle cx="313.02" cy="172.74" r="0.85" fill="#141414" />
<circle cx="319.00" cy="152.18" r="1.50" fill="#f39a12" stroke="#5a0a14" stroke-width="0.4"/>
<circle cx="301.87" cy="149.06" r="1.50" fill="#f39a12" stroke="#5a0a14" stroke-width="0.4"/>
<circle cx="292.06" cy="186.88" r="0.85" fill="#141414" />
<circle cx="295.04" cy="91.86" r="0.85" fill="#141414" />
<circle cx="289.63" cy="105.61" r="1.50" fill="#c00f2e" stroke="#5a0a14" stroke-width="0.4"/>
<circle cx="285.15" cy="204.09" r="0.85" fill="#141414" />
<circle cx="286.73" cy="97.94" r="0.85" fill="#141414" />
<circle cx="308.11" cy="126.01" r="1.50" fill="#f39a12" stroke="#5a0a14" stroke-width="0.4"/>
<circle cx="285.69" cy="111.92" r="0.85" fill="#141414" />
<circle cx="346.88" cy="126.45" r="0.85" fill="#141414" />
<circle cx="299.81" cy="191.59" r="1.50" fill="#c00f2e" stroke="#5a0a14" stroke-width="0.4"/>
<circle cx="293.13" cy="183.81" r="0.85" fill="#141414" />
<circle cx="285.63" cy="95.38" r="1.50" fill="#c00f2e" stroke="#5a0a14" stroke-width="0.4"/>
<circle cx="290.40" cy="147.92" r="1.50" fill="#f39a12" stroke="#5a0a14" stroke-width="0.4"/>
<circle cx="331.83" cy="129.35" r="1.50" fill="#c00f2e" stroke="#5a0a14" stroke-width="0.4"/>
<circle cx="314.79" cy="137.91" r="1.50" fill="#f39a12" stroke="#5a0a14" stroke-width="0.4"/>
<circle cx="297.22" cy="120.57" r="1.50" fill="#c00f2e" stroke="#5a0a14" stroke-width="0.4"/>
<circle cx="287.91" cy="124.03" r="1.50" fill="#c00f2e" stroke="#5a0a14" stroke-width="0.4"/>
<circle cx="306.76" cy="182.11" r="1.50" fill="#f39a12" stroke="#5a0a14" stroke-width="0.4"/>
<circle cx="299.77" cy="105.16" r="0.85" fill="#141414" />
<circle cx="298.20" cy="114.95" r="1.50" fill="#f39a12" stroke="#5a0a14" stroke-width="0.4"/>
<circle cx="320.49" cy="171.30" r="0.85" fill="#141414" />
<circle cx="287.68" cy="136.29" r="0.85" fill="#141414" />
<circle cx="291.40" cy="98.95" r="0.85" fill="#141414" />
<circle cx="288.16" cy="142.16" r="1.50" fill="#c00f2e" stroke="#5a0a14" stroke-width="0.4"/>
<circle cx="312.68" cy="186.63" r="1.50" fill="#f39a12" stroke="#5a0a14" stroke-width="0.4"/>
<circle cx="285.69" cy="99.56" r="1.50" fill="#f39a12" stroke="#5a0a14" stroke-width="0.4"/>
<circle cx="292.11" cy="202.15" r="0.85" fill="#141414" />
<circle cx="288.93" cy="180.80" r="1.50" fill="#c00f2e" stroke="#5a0a14" stroke-width="0.4"/>
<circle cx="288.78" cy="127.29" r="0.85" fill="#141414" />
<circle cx="289.17" cy="179.61" r="1.50" fill="#c00f2e" stroke="#5a0a14" stroke-width="0.4"/>
<circle cx="315.48" cy="196.24" r="0.85" fill="#141414" />
<circle cx="314.38" cy="127.51" r="0.85" fill="#141414" />
<circle cx="287.39" cy="95.04" r="1.50" fill="#c00f2e" stroke="#5a0a14" stroke-width="0.4"/>
<circle cx="309.40" cy="183.51" r="1.50" fill="#f39a12" stroke="#5a0a14" stroke-width="0.4"/>
<circle cx="338.39" cy="147.88" r="0.85" fill="#141414" />
<circle cx="290.23" cy="144.12" r="0.85" fill="#141414" />
<circle cx="348.70" cy="183.69" r="0.85" fill="#141414" />
<circle cx="315.97" cy="177.13" r="0.85" fill="#141414" />
<circle cx="291.51" cy="65.38" r="1.50" fill="#f39a12" stroke="#5a0a14" stroke-width="0.4"/>
<circle cx="317.84" cy="181.91" r="0.85" fill="#141414" />
<circle cx="356.05" cy="178.27" r="0.85" fill="#141414" />
<circle cx="294.60" cy="99.99" r="0.85" fill="#141414" />
<circle cx="325.14" cy="135.58" r="1.50" fill="#f39a12" stroke="#5a0a14" stroke-width="0.4"/>
<circle cx="289.26" cy="109.62" r="0.85" fill="#141414" />
<circle cx="305.79" cy="192.82" r="0.85" fill="#141414" />
<circle cx="427.64" cy="190.32" r="0.85" fill="#141414" />
<circle cx="310.89" cy="128.61" r="0.85" fill="#141414" />
<circle cx="383.21" cy="188.39" r="0.85" fill="#141414" />
<circle cx="346.36" cy="180.06" r="1.50" fill="#f39a12" stroke="#5a0a14" stroke-width="0.4"/>
<circle cx="287.06" cy="197.46" r="1.50" fill="#c00f2e" stroke="#5a0a14" stroke-width="0.4"/>
<circle cx="286.54" cy="121.10" r="0.85" fill="#141414" />
<circle cx="307.32" cy="194.40" r="0.85" fill="#141414" />
<circle cx="286.17" cy="136.02" r="1.50" fill="#f39a12" stroke="#5a0a14" stroke-width="0.4"/>
<circle cx="317.52" cy="131.72" r="1.50" fill="#f39a12" stroke="#5a0a14" stroke-width="0.4"/>
<circle cx="287.77" cy="176.62" r="0.85" fill="#141414" />
<circle cx="288.51" cy="102.77" r="0.85" fill="#141414" />
<circle cx="299.27" cy="136.11" r="1.50" fill="#c00f2e" stroke="#5a0a14" stroke-width="0.4"/>
<circle cx="292.14" cy="138.22" r="1.50" fill="#f39a12" stroke="#5a0a14" stroke-width="0.4"/>
<circle cx="291.49" cy="117.56" r="1.50" fill="#c00f2e" stroke="#5a0a14" stroke-width="0.4"/>
<circle cx="290.63" cy="178.50" r="1.50" fill="#c00f2e" stroke="#5a0a14" stroke-width="0.4"/>
<circle cx="301.77" cy="138.78" r="1.50" fill="#c00f2e" stroke="#5a0a14" stroke-width="0.4"/>
<circle cx="314.98" cy="133.61" r="0.85" fill="#141414" />
<circle cx="295.95" cy="199.90" r="1.50" fill="#f39a12" stroke="#5a0a14" stroke-width="0.4"/>
<circle cx="317.66" cy="175.68" r="1.50" fill="#f39a12" stroke="#5a0a14" stroke-width="0.4"/>
<circle cx="293.47" cy="98.94" r="1.50" fill="#c00f2e" stroke="#5a0a14" stroke-width="0.4"/>
<circle cx="318.95" cy="133.74" r="1.50" fill="#c00f2e" stroke="#5a0a14" stroke-width="0.4"/>
<circle cx="303.88" cy="184.76" r="1.50" fill="#c00f2e" stroke="#5a0a14" stroke-width="0.4"/>
<circle cx="291.05" cy="112.04" r="1.50" fill="#c00f2e" stroke="#5a0a14" stroke-width="0.4"/>
<circle cx="287.96" cy="178.79" r="0.85" fill="#141414" />
<circle cx="296.24" cy="115.52" r="0.85" fill="#141414" />
<circle cx="295.03" cy="108.13" r="0.85" fill="#141414" />
<circle cx="300.88" cy="128.00" r="1.50" fill="#f39a12" stroke="#5a0a14" stroke-width="0.4"/>
<circle cx="287.12" cy="133.71" r="0.85" fill="#141414" />
<circle cx="420.65" cy="190.69" r="0.85" fill="#141414" />
<circle cx="362.99" cy="183.14" r="0.85" fill="#141414" />
<circle cx="294.83" cy="98.74" r="0.85" fill="#141414" />
<circle cx="286.37" cy="177.69" r="1.50" fill="#c00f2e" stroke="#5a0a14" stroke-width="0.4"/>
<circle cx="294.49" cy="175.44" r="0.85" fill="#141414" />
<circle cx="317.62" cy="140.27" r="1.50" fill="#f39a12" stroke="#5a0a14" stroke-width="0.4"/>
<circle cx="307.50" cy="183.56" r="0.85" fill="#141414" />
<circle cx="286.78" cy="176.82" r="1.50" fill="#c00f2e" stroke="#5a0a14" stroke-width="0.4"/>
<circle cx="309.13" cy="123.66" r="1.50" fill="#f39a12" stroke="#5a0a14" stroke-width="0.4"/>
<circle cx="289.21" cy="107.43" r="0.85" fill="#141414" />
<circle cx="287.02" cy="176.64" r="0.85" fill="#141414" />
<circle cx="298.65" cy="103.45" r="1.50" fill="#f39a12" stroke="#5a0a14" stroke-width="0.4"/>
<circle cx="302.82" cy="153.16" r="1.50" fill="#c00f2e" stroke="#5a0a14" stroke-width="0.4"/>
<circle cx="327.24" cy="151.78" r="0.85" fill="#141414" />
<circle cx="289.27" cy="137.77" r="1.50" fill="#c00f2e" stroke="#5a0a14" stroke-width="0.4"/>
<circle cx="291.51" cy="188.39" r="0.85" fill="#141414" />
<circle cx="298.05" cy="174.66" r="1.50" fill="#c00f2e" stroke="#5a0a14" stroke-width="0.4"/>
<circle cx="305.81" cy="145.44" r="0.85" fill="#141414" />
<circle cx="343.48" cy="134.51" r="1.50" fill="#c00f2e" stroke="#5a0a14" stroke-width="0.4"/>
<circle cx="300.06" cy="178.83" r="1.50" fill="#c00f2e" stroke="#5a0a14" stroke-width="0.4"/>
<circle cx="296.56" cy="113.23" r="1.50" fill="#f39a12" stroke="#5a0a14" stroke-width="0.4"/>
<circle cx="298.90" cy="175.23" r="0.85" fill="#141414" />
<circle cx="325.38" cy="137.19" r="1.50" fill="#f39a12" stroke="#5a0a14" stroke-width="0.4"/>
<circle cx="348.00" cy="184.45" r="0.85" fill="#141414" />
<circle cx="392.98" cy="184.33" r="0.85" fill="#141414" />
<circle cx="307.76" cy="171.91" r="1.50" fill="#c00f2e" stroke="#5a0a14" stroke-width="0.4"/>
<circle cx="287.01" cy="96.35" r="0.85" fill="#141414" />
<circle cx="287.35" cy="145.95" r="0.85" fill="#141414" />
<circle cx="316.80" cy="170.25" r="1.50" fill="#f39a12" stroke="#5a0a14" stroke-width="0.4"/>
<circle cx="295.94" cy="113.39" r="0.85" fill="#141414" />
<circle cx="293.17" cy="96.21" r="0.85" fill="#141414" />
<circle cx="315.56" cy="183.14" r="0.85" fill="#141414" />
<circle cx="285.33" cy="118.99" r="1.50" fill="#f39a12" stroke="#5a0a14" stroke-width="0.4"/>
<circle cx="287.52" cy="129.42" r="0.85" fill="#141414" />
<circle cx="292.60" cy="110.52" r="0.85" fill="#141414" />
<circle cx="302.90" cy="190.24" r="1.50" fill="#f39a12" stroke="#5a0a14" stroke-width="0.4"/>
<circle cx="304.20" cy="115.94" r="0.85" fill="#141414" />
<circle cx="353.02" cy="182.91" r="0.85" fill="#141414" />
<circle cx="357.84" cy="186.75" r="0.85" fill="#141414" />
<circle cx="346.32" cy="184.33" r="0.85" fill="#141414" />
<circle cx="317.36" cy="177.18" r="1.50" fill="#c00f2e" stroke="#5a0a14" stroke-width="0.4"/>
<circle cx="290.38" cy="113.64" r="0.85" fill="#141414" />
<circle cx="439.30" cy="196.80" r="0.85" fill="#141414" />
<circle cx="300.11" cy="131.30" r="0.85" fill="#141414" />
<circle cx="302.91" cy="118.84" r="1.50" fill="#c00f2e" stroke="#5a0a14" stroke-width="0.4"/>
<circle cx="285.13" cy="182.49" r="1.50" fill="#f39a12" stroke="#5a0a14" stroke-width="0.4"/>
<circle cx="313.18" cy="178.24" r="0.85" fill="#141414" />
<circle cx="296.05" cy="109.56" r="0.85" fill="#141414" />
<circle cx="302.24" cy="126.40" r="0.85" fill="#141414" />
<circle cx="361.82" cy="140.80" r="1.50" fill="#f39a12" stroke="#5a0a14" stroke-width="0.4"/>
<circle cx="285.34" cy="93.93" r="1.50" fill="#f39a12" stroke="#5a0a14" stroke-width="0.4"/>
<circle cx="399.05" cy="180.27" r="0.85" fill="#141414" />
<circle cx="374.30" cy="194.09" r="0.85" fill="#141414" />
<circle cx="313.65" cy="122.43" r="0.85" fill="#141414" />
<circle cx="416.01" cy="181.98" r="0.85" fill="#141414" />
<circle cx="297.81" cy="187.64" r="1.50" fill="#c00f2e" stroke="#5a0a14" stroke-width="0.4"/>
<circle cx="293.37" cy="185.77" r="1.50" fill="#c00f2e" stroke="#5a0a14" stroke-width="0.4"/>
<circle cx="292.61" cy="91.90" r="0.85" fill="#141414" />
<circle cx="296.92" cy="98.52" r="1.50" fill="#f39a12" stroke="#5a0a14" stroke-width="0.4"/>
<circle cx="291.18" cy="116.49" r="0.85" fill="#141414" />
<circle cx="370.70" cy="190.64" r="0.85" fill="#141414" />
<circle cx="354.08" cy="185.78" r="0.85" fill="#141414" />
<circle cx="296.47" cy="184.44" r="0.85" fill="#141414" />
<circle cx="291.43" cy="98.83" r="1.50" fill="#f39a12" stroke="#5a0a14" stroke-width="0.4"/>
<circle cx="309.18" cy="187.94" r="1.50" fill="#f39a12" stroke="#5a0a14" stroke-width="0.4"/>
<circle cx="291.97" cy="103.53" r="0.85" fill="#141414" />
<circle cx="439.22" cy="184.65" r="0.85" fill="#141414" />
<circle cx="312.22" cy="179.71" r="0.85" fill="#141414" />
<circle cx="292.36" cy="176.07" r="0.85" fill="#141414" />
<circle cx="321.00" cy="69.40" r="1.50" fill="#f39a12" stroke="#5a0a14" stroke-width="0.4"/>
<circle cx="301.95" cy="130.77" r="1.50" fill="#f39a12" stroke="#5a0a14" stroke-width="0.4"/>
<circle cx="321.27" cy="135.55" r="1.50" fill="#c00f2e" stroke="#5a0a14" stroke-width="0.4"/>
<circle cx="308.49" cy="185.68" r="0.85" fill="#141414" />
<circle cx="285.39" cy="141.80" r="0.85" fill="#141414" />
<circle cx="292.09" cy="144.44" r="1.50" fill="#c00f2e" stroke="#5a0a14" stroke-width="0.4"/>
<circle cx="368.22" cy="190.64" r="0.85" fill="#141414" />
<circle cx="293.05" cy="107.67" r="1.50" fill="#f39a12" stroke="#5a0a14" stroke-width="0.4"/>
<circle cx="304.93" cy="144.24" r="0.85" fill="#141414" />
<circle cx="285.35" cy="139.10" r="0.85" fill="#141414" />
<circle cx="357.19" cy="186.17" r="0.85" fill="#141414" />
<circle cx="286.43" cy="137.77" r="0.85" fill="#141414" />
<circle cx="323.01" cy="133.97" r="0.85" fill="#141414" />
<circle cx="291.28" cy="104.09" r="1.50" fill="#f39a12" stroke="#5a0a14" stroke-width="0.4"/>
<circle cx="295.95" cy="188.19" r="0.85" fill="#141414" />
<circle cx="438.77" cy="188.47" r="0.85" fill="#141414" />
<circle cx="302.03" cy="187.32" r="0.85" fill="#141414" />
<circle cx="291.60" cy="135.84" r="1.50" fill="#c00f2e" stroke="#5a0a14" stroke-width="0.4"/>
<circle cx="321.51" cy="196.06" r="0.85" fill="#141414" />
<circle cx="298.62" cy="188.90" r="0.85" fill="#141414" />
<circle cx="302.99" cy="176.23" r="1.50" fill="#f39a12" stroke="#5a0a14" stroke-width="0.4"/>
<circle cx="377.37" cy="187.45" r="1.50" fill="#f39a12" stroke="#5a0a14" stroke-width="0.4"/>
<circle cx="285.67" cy="149.07" r="0.85" fill="#141414" />
<circle cx="301.03" cy="149.58" r="1.50" fill="#f39a12" stroke="#5a0a14" stroke-width="0.4"/>
<circle cx="343.85" cy="183.25" r="0.85" fill="#141414" />
<circle cx="324.82" cy="144.06" r="0.85" fill="#141414" />
<circle cx="332.22" cy="183.33" r="0.85" fill="#141414" />
<circle cx="359.85" cy="139.02" r="1.50" fill="#f39a12" stroke="#5a0a14" stroke-width="0.4"/>
<circle cx="305.70" cy="186.79" r="0.85" fill="#141414" />
<circle cx="308.25" cy="173.78" r="1.50" fill="#c00f2e" stroke="#5a0a14" stroke-width="0.4"/>
<circle cx="359.69" cy="187.94" r="0.85" fill="#141414" />
<circle cx="296.71" cy="133.98" r="1.50" fill="#c00f2e" stroke="#5a0a14" stroke-width="0.4"/>
<circle cx="329.41" cy="185.86" r="0.85" fill="#141414" />
<circle cx="310.57" cy="128.49" r="1.50" fill="#f39a12" stroke="#5a0a14" stroke-width="0.4"/>
<circle cx="288.84" cy="113.24" r="1.50" fill="#c00f2e" stroke="#5a0a14" stroke-width="0.4"/>
<circle cx="324.97" cy="183.43" r="0.85" fill="#141414" />
<circle cx="287.41" cy="172.41" r="1.50" fill="#f39a12" stroke="#5a0a14" stroke-width="0.4"/>
<circle cx="377.68" cy="187.85" r="0.85" fill="#141414" />
<circle cx="287.02" cy="189.42" r="0.85" fill="#141414" />
<circle cx="294.99" cy="117.49" r="1.50" fill="#c00f2e" stroke="#5a0a14" stroke-width="0.4"/>
<circle cx="290.37" cy="94.25" r="1.50" fill="#c00f2e" stroke="#5a0a14" stroke-width="0.4"/>
<circle cx="313.65" cy="129.60" r="1.50" fill="#c00f2e" stroke="#5a0a14" stroke-width="0.4"/>
<circle cx="310.76" cy="186.90" r="0.85" fill="#141414" />
<circle cx="290.52" cy="93.23" r="0.85" fill="#141414" />
<circle cx="325.26" cy="148.27" r="1.50" fill="#f39a12" stroke="#5a0a14" stroke-width="0.4"/>
<circle cx="297.65" cy="139.96" r="0.85" fill="#141414" />
<circle cx="323.92" cy="146.91" r="0.85" fill="#141414" />
<circle cx="379.28" cy="185.30" r="0.85" fill="#141414" />
<circle cx="292.34" cy="120.65" r="1.50" fill="#f39a12" stroke="#5a0a14" stroke-width="0.4"/>
<circle cx="292.81" cy="67.53" r="1.50" fill="#f39a12" stroke="#5a0a14" stroke-width="0.4"/>
<circle cx="311.12" cy="138.47" r="0.85" fill="#141414" />
<circle cx="288.38" cy="121.76" r="1.50" fill="#c00f2e" stroke="#5a0a14" stroke-width="0.4"/>
<circle cx="305.54" cy="191.13" r="1.50" fill="#c00f2e" stroke="#5a0a14" stroke-width="0.4"/>
<circle cx="301.30" cy="106.62" r="1.50" fill="#f39a12" stroke="#5a0a14" stroke-width="0.4"/>
<circle cx="350.17" cy="184.60" r="0.85" fill="#141414" />
<circle cx="314.42" cy="142.43" r="0.85" fill="#141414" />
<circle cx="409.21" cy="190.65" r="0.85" fill="#141414" />
<circle cx="297.97" cy="122.61" r="1.50" fill="#c00f2e" stroke="#5a0a14" stroke-width="0.4"/>
<circle cx="302.31" cy="177.81" r="0.85" fill="#141414" />
<circle cx="390.74" cy="184.04" r="0.85" fill="#141414" />
<circle cx="426.77" cy="189.83" r="0.85" fill="#141414" />
<circle cx="316.46" cy="181.42" r="1.50" fill="#c00f2e" stroke="#5a0a14" stroke-width="0.4"/>
<circle cx="405.86" cy="183.85" r="0.85" fill="#141414" />
<circle cx="326.09" cy="138.77" r="0.85" fill="#141414" />
<circle cx="391.56" cy="186.91" r="0.85" fill="#141414" />
<circle cx="423.79" cy="184.75" r="0.85" fill="#141414" />
<circle cx="295.85" cy="97.27" r="1.50" fill="#f39a12" stroke="#5a0a14" stroke-width="0.4"/>
<circle cx="333.65" cy="186.24" r="0.85" fill="#141414" />
<circle cx="308.11" cy="142.23" r="0.85" fill="#141414" />
<circle cx="285.32" cy="104.26" r="1.50" fill="#f39a12" stroke="#5a0a14" stroke-width="0.4"/>
<circle cx="442.58" cy="186.38" r="0.85" fill="#141414" />
<circle cx="287.61" cy="91.70" r="0.85" fill="#141414" />
<circle cx="307.55" cy="118.41" r="0.85" fill="#141414" />
<circle cx="313.32" cy="130.23" r="0.85" fill="#141414" />
<circle cx="290.57" cy="121.71" r="1.50" fill="#f39a12" stroke="#5a0a14" stroke-width="0.4"/>
<circle cx="375.13" cy="178.80" r="0.85" fill="#141414" />
<circle cx="293.40" cy="195.58" r="1.50" fill="#c00f2e" stroke="#5a0a14" stroke-width="0.4"/>
<circle cx="360.05" cy="190.38" r="0.85" fill="#141414" />
<circle cx="287.28" cy="109.98" r="0.85" fill="#141414" />
<circle cx="400.39" cy="189.17" r="0.85" fill="#141414" />
<circle cx="302.34" cy="114.65" r="1.50" fill="#f39a12" stroke="#5a0a14" stroke-width="0.4"/>
<circle cx="286.42" cy="179.25" r="1.50" fill="#f39a12" stroke="#5a0a14" stroke-width="0.4"/>
<circle cx="303.69" cy="152.94" r="1.50" fill="#f39a12" stroke="#5a0a14" stroke-width="0.4"/>
<circle cx="290.79" cy="93.30" r="0.85" fill="#141414" />
<circle cx="325.42" cy="172.20" r="0.85" fill="#141414" />
<circle cx="285.78" cy="177.32" r="1.50" fill="#c00f2e" stroke="#5a0a14" stroke-width="0.4"/>
<circle cx="304.97" cy="179.71" r="0.85" fill="#141414" />
<circle cx="285.31" cy="141.11" r="0.85" fill="#141414" />
<circle cx="361.34" cy="182.62" r="0.85" fill="#141414" />
<circle cx="301.14" cy="127.83" r="0.85" fill="#141414" />
<circle cx="285.23" cy="190.06" r="1.50" fill="#c00f2e" stroke="#5a0a14" stroke-width="0.4"/>
<circle cx="297.19" cy="138.42" r="0.85" fill="#141414" />
<circle cx="401.47" cy="180.90" r="0.85" fill="#141414" />
<circle cx="391.89" cy="182.49" r="0.85" fill="#141414" />
<circle cx="288.05" cy="96.98" r="0.85" fill="#141414" />
<circle cx="286.81" cy="144.45" r="1.50" fill="#f39a12" stroke="#5a0a14" stroke-width="0.4"/>
<circle cx="297.66" cy="123.84" r="0.85" fill="#141414" />
<circle cx="287.95" cy="131.82" r="1.50" fill="#c00f2e" stroke="#5a0a14" stroke-width="0.4"/>
<circle cx="374.57" cy="188.15" r="0.85" fill="#141414" />
<circle cx="296.53" cy="123.69" r="1.50" fill="#f39a12" stroke="#5a0a14" stroke-width="0.4"/>
<circle cx="293.84" cy="94.80" r="0.85" fill="#141414" />
<circle cx="424.16" cy="187.12" r="0.85" fill="#141414" />
<circle cx="286.66" cy="122.60" r="1.50" fill="#f39a12" stroke="#5a0a14" stroke-width="0.4"/>
<circle cx="315.82" cy="201.06" r="0.85" fill="#141414" />
<circle cx="288.65" cy="179.57" r="0.85" fill="#141414" />
<circle cx="287.21" cy="205.97" r="0.85" fill="#141414" />
<circle cx="286.00" cy="125.42" r="0.85" fill="#141414" />
<circle cx="286.43" cy="194.46" r="1.50" fill="#f39a12" stroke="#5a0a14" stroke-width="0.4"/>
<circle cx="397.61" cy="186.51" r="0.85" fill="#141414" />
<circle cx="289.26" cy="68.09" r="1.50" fill="#c00f2e" stroke="#5a0a14" stroke-width="0.4"/>
<circle cx="294.96" cy="152.74" r="0.85" fill="#141414" />
<circle cx="296.64" cy="100.16" r="0.85" fill="#141414" />
<circle cx="286.78" cy="186.69" r="1.50" fill="#c00f2e" stroke="#5a0a14" stroke-width="0.4"/>
<circle cx="296.98" cy="106.76" r="0.85" fill="#141414" />
<circle cx="394.56" cy="186.92" r="0.85" fill="#141414" />
<circle cx="286.90" cy="130.07" r="1.50" fill="#f39a12" stroke="#5a0a14" stroke-width="0.4"/>
<circle cx="298.28" cy="108.54" r="1.50" fill="#c00f2e" stroke="#5a0a14" stroke-width="0.4"/>
<circle cx="290.82" cy="118.91" r="1.50" fill="#c00f2e" stroke="#5a0a14" stroke-width="0.4"/>
<circle cx="291.31" cy="119.95" r="0.85" fill="#141414" />
<circle cx="335.96" cy="184.95" r="0.85" fill="#141414" />
<circle cx="347.45" cy="184.85" r="0.85" fill="#141414" />
<circle cx="293.39" cy="153.04" r="0.85" fill="#141414" />
<circle cx="286.60" cy="113.93" r="1.50" fill="#c00f2e" stroke="#5a0a14" stroke-width="0.4"/>
<circle cx="296.05" cy="110.63" r="1.50" fill="#c00f2e" stroke="#5a0a14" stroke-width="0.4"/>
<circle cx="316.88" cy="149.23" r="0.85" fill="#141414" />
<circle cx="297.00" cy="107.96" r="1.50" fill="#f39a12" stroke="#5a0a14" stroke-width="0.4"/>
<circle cx="301.40" cy="179.32" r="0.85" fill="#141414" />
<circle cx="318.83" cy="171.82" r="1.50" fill="#f39a12" stroke="#5a0a14" stroke-width="0.4"/>
<circle cx="288.91" cy="126.05" r="0.85" fill="#141414" />
<circle cx="302.20" cy="105.95" r="0.85" fill="#141414" />
<circle cx="366.05" cy="128.83" r="1.50" fill="#c00f2e" stroke="#5a0a14" stroke-width="0.4"/>
<circle cx="306.07" cy="111.22" r="1.50" fill="#f39a12" stroke="#5a0a14" stroke-width="0.4"/>
<circle cx="286.32" cy="185.39" r="1.50" fill="#c00f2e" stroke="#5a0a14" stroke-width="0.4"/>
<circle cx="290.87" cy="124.84" r="1.50" fill="#c00f2e" stroke="#5a0a14" stroke-width="0.4"/>
<circle cx="293.65" cy="123.84" r="1.50" fill="#f39a12" stroke="#5a0a14" stroke-width="0.4"/>
<circle cx="287.64" cy="92.78" r="0.85" fill="#141414" />
<circle cx="308.02" cy="134.36" r="0.85" fill="#141414" />
<circle cx="286.76" cy="122.04" r="0.85" fill="#141414" />
<circle cx="322.31" cy="132.09" r="1.50" fill="#f39a12" stroke="#5a0a14" stroke-width="0.4"/>
<circle cx="473.88" cy="191.39" r="0.85" fill="#141414" />
<circle cx="287.56" cy="109.25" r="1.50" fill="#f39a12" stroke="#5a0a14" stroke-width="0.4"/>
<circle cx="300.45" cy="171.41" r="1.50" fill="#c00f2e" stroke="#5a0a14" stroke-width="0.4"/>
<circle cx="285.36" cy="92.90" r="0.85" fill="#141414" />
<circle cx="290.85" cy="209.55" r="1.50" fill="#f39a12" stroke="#5a0a14" stroke-width="0.4"/>
<circle cx="416.46" cy="189.32" r="0.85" fill="#141414" />
<circle cx="306.99" cy="128.91" r="0.85" fill="#141414" />
<circle cx="429.44" cy="189.26" r="0.85" fill="#141414" />
<circle cx="429.75" cy="178.85" r="0.85" fill="#141414" />
<circle cx="286.80" cy="89.07" r="0.85" fill="#141414" />
<circle cx="311.43" cy="177.76" r="1.50" fill="#f39a12" stroke="#5a0a14" stroke-width="0.4"/>
<circle cx="321.26" cy="176.61" r="0.85" fill="#141414" />
<circle cx="291.97" cy="104.60" r="0.85" fill="#141414" />
<circle cx="294.45" cy="173.16" r="0.85" fill="#141414" />
<circle cx="290.08" cy="105.81" r="0.85" fill="#141414" />
<circle cx="370.04" cy="147.01" r="0.85" fill="#141414" />
<circle cx="285.31" cy="124.16" r="1.50" fill="#f39a12" stroke="#5a0a14" stroke-width="0.4"/>
<circle cx="324.13" cy="174.81" r="1.50" fill="#c00f2e" stroke="#5a0a14" stroke-width="0.4"/>
<circle cx="287.92" cy="124.93" r="0.85" fill="#141414" />
<circle cx="335.15" cy="184.25" r="0.85" fill="#141414" />
<circle cx="292.73" cy="124.32" r="0.85" fill="#141414" />
<circle cx="286.76" cy="110.13" r="1.50" fill="#f39a12" stroke="#5a0a14" stroke-width="0.4"/>
<circle cx="425.83" cy="183.04" r="0.85" fill="#141414" />
<circle cx="292.89" cy="179.92" r="1.50" fill="#c00f2e" stroke="#5a0a14" stroke-width="0.4"/>
<circle cx="299.20" cy="134.23" r="1.50" fill="#c00f2e" stroke="#5a0a14" stroke-width="0.4"/>
<circle cx="285.43" cy="193.97" r="1.50" fill="#c00f2e" stroke="#5a0a14" stroke-width="0.4"/>
<circle cx="372.56" cy="187.11" r="0.85" fill="#141414" />
<circle cx="286.47" cy="135.35" r="1.50" fill="#c00f2e" stroke="#5a0a14" stroke-width="0.4"/>
<circle cx="294.30" cy="128.17" r="0.85" fill="#141414" />
<circle cx="286.67" cy="132.81" r="1.50" fill="#f39a12" stroke="#5a0a14" stroke-width="0.4"/>
<circle cx="316.33" cy="178.94" r="0.85" fill="#141414" />
<circle cx="295.92" cy="151.97" r="1.50" fill="#f39a12" stroke="#5a0a14" stroke-width="0.4"/>
<circle cx="290.35" cy="151.99" r="1.50" fill="#c00f2e" stroke="#5a0a14" stroke-width="0.4"/>
<circle cx="285.65" cy="120.77" r="1.50" fill="#c00f2e" stroke="#5a0a14" stroke-width="0.4"/>
<circle cx="301.26" cy="180.88" r="0.85" fill="#141414" />
<circle cx="314.67" cy="123.16" r="1.50" fill="#f39a12" stroke="#5a0a14" stroke-width="0.4"/>
<circle cx="287.58" cy="65.72" r="1.50" fill="#c00f2e" stroke="#5a0a14" stroke-width="0.4"/>
<circle cx="336.90" cy="146.93" r="1.50" fill="#c00f2e" stroke="#5a0a14" stroke-width="0.4"/>
<circle cx="285.76" cy="139.58" r="0.85" fill="#141414" />
<circle cx="285.66" cy="98.04" r="1.50" fill="#f39a12" stroke="#5a0a14" stroke-width="0.4"/>
<circle cx="293.41" cy="97.37" r="0.85" fill="#141414" />
<circle cx="365.07" cy="178.17" r="0.85" fill="#141414" />
<circle cx="287.79" cy="110.72" r="0.85" fill="#141414" />
<circle cx="289.16" cy="174.37" r="0.85" fill="#141414" />
<circle cx="366.65" cy="183.01" r="0.85" fill="#141414" />
<circle cx="344.01" cy="154.27" r="0.85" fill="#141414" />
<circle cx="296.32" cy="186.45" r="0.85" fill="#141414" />
<circle cx="323.57" cy="187.13" r="1.50" fill="#c00f2e" stroke="#5a0a14" stroke-width="0.4"/>
<circle cx="295.81" cy="137.53" r="0.85" fill="#141414" />
<circle cx="291.40" cy="185.57" r="0.85" fill="#141414" />
<circle cx="432.88" cy="182.41" r="0.85" fill="#141414" />
<circle cx="313.62" cy="190.53" r="0.85" fill="#141414" />
<circle cx="296.64" cy="120.74" r="1.50" fill="#f39a12" stroke="#5a0a14" stroke-width="0.4"/>
<circle cx="326.07" cy="142.76" r="1.50" fill="#c00f2e" stroke="#5a0a14" stroke-width="0.4"/>
<circle cx="312.10" cy="128.72" r="1.50" fill="#f39a12" stroke="#5a0a14" stroke-width="0.4"/>
<circle cx="285.95" cy="190.18" r="1.50" fill="#f39a12" stroke="#5a0a14" stroke-width="0.4"/>
<circle cx="351.63" cy="186.35" r="0.85" fill="#141414" />
<circle cx="305.67" cy="126.13" r="1.50" fill="#c00f2e" stroke="#5a0a14" stroke-width="0.4"/>
<circle cx="330.70" cy="182.56" r="0.85" fill="#141414" />
<circle cx="287.31" cy="128.14" r="1.50" fill="#c00f2e" stroke="#5a0a14" stroke-width="0.4"/>
<circle cx="437.22" cy="184.53" r="0.85" fill="#141414" />
<circle cx="288.02" cy="135.85" r="1.50" fill="#f39a12" stroke="#5a0a14" stroke-width="0.4"/>
<circle cx="289.18" cy="122.73" r="1.50" fill="#c00f2e" stroke="#5a0a14" stroke-width="0.4"/>
<circle cx="304.92" cy="135.34" r="1.50" fill="#c00f2e" stroke="#5a0a14" stroke-width="0.4"/>
<circle cx="286.27" cy="179.19" r="0.85" fill="#141414" />
<circle cx="423.97" cy="151.23" r="0.85" fill="#141414" />
<circle cx="344.52" cy="133.45" r="1.50" fill="#f39a12" stroke="#5a0a14" stroke-width="0.4"/>
<circle cx="291.48" cy="184.29" r="1.50" fill="#f39a12" stroke="#5a0a14" stroke-width="0.4"/>
<circle cx="295.99" cy="106.15" r="0.85" fill="#141414" />
<circle cx="405.55" cy="189.24" r="0.85" fill="#141414" />
<circle cx="334.53" cy="147.29" r="0.85" fill="#141414" />
<circle cx="345.43" cy="188.07" r="1.50" fill="#f39a12" stroke="#5a0a14" stroke-width="0.4"/>
<circle cx="304.33" cy="180.59" r="0.85" fill="#141414" />
<circle cx="291.50" cy="182.24" r="0.85" fill="#141414" />
<circle cx="289.54" cy="114.12" r="0.85" fill="#141414" />
<circle cx="475.46" cy="187.36" r="0.85" fill="#141414" />
<circle cx="292.98" cy="96.71" r="1.50" fill="#f39a12" stroke="#5a0a14" stroke-width="0.4"/>
<circle cx="303.88" cy="132.19" r="1.50" fill="#f39a12" stroke="#5a0a14" stroke-width="0.4"/>
<circle cx="360.97" cy="147.52" r="0.85" fill="#141414" />
<circle cx="410.05" cy="173.63" r="0.85" fill="#141414" />
<circle cx="308.19" cy="116.35" r="1.50" fill="#f39a12" stroke="#5a0a14" stroke-width="0.4"/>
<circle cx="349.61" cy="185.54" r="0.85" fill="#141414" />
<circle cx="310.85" cy="136.93" r="0.85" fill="#141414" />
<circle cx="313.11" cy="189.51" r="1.50" fill="#c00f2e" stroke="#5a0a14" stroke-width="0.4"/>
<circle cx="291.67" cy="87.99" r="1.50" fill="#f39a12" stroke="#5a0a14" stroke-width="0.4"/>
<circle cx="303.64" cy="139.10" r="1.50" fill="#c00f2e" stroke="#5a0a14" stroke-width="0.4"/>
<circle cx="309.17" cy="146.01" r="0.85" fill="#141414" />
<circle cx="412.71" cy="181.85" r="0.85" fill="#141414" />
<circle cx="286.76" cy="142.21" r="0.85" fill="#141414" />
<circle cx="290.96" cy="101.31" r="1.50" fill="#f39a12" stroke="#5a0a14" stroke-width="0.4"/>
<circle cx="312.23" cy="152.20" r="1.50" fill="#f39a12" stroke="#5a0a14" stroke-width="0.4"/>
<circle cx="285.61" cy="181.48" r="0.85" fill="#141414" />
<circle cx="315.98" cy="127.95" r="1.50" fill="#f39a12" stroke="#5a0a14" stroke-width="0.4"/>
<circle cx="461.39" cy="186.62" r="0.85" fill="#141414" />
<circle cx="293.34" cy="109.84" r="1.50" fill="#f39a12" stroke="#5a0a14" stroke-width="0.4"/>
<circle cx="318.30" cy="131.11" r="0.85" fill="#141414" />
<circle cx="300.97" cy="185.64" r="1.50" fill="#c00f2e" stroke="#5a0a14" stroke-width="0.4"/>
<circle cx="290.79" cy="124.85" r="0.85" fill="#141414" />
<circle cx="311.72" cy="186.04" r="0.85" fill="#141414" />
<circle cx="288.48" cy="119.50" r="1.50" fill="#c00f2e" stroke="#5a0a14" stroke-width="0.4"/>
<circle cx="378.29" cy="185.36" r="0.85" fill="#141414" />
<circle cx="297.63" cy="175.17" r="0.85" fill="#141414" />
<circle cx="307.03" cy="144.48" r="0.85" fill="#141414" />
<circle cx="294.30" cy="118.73" r="0.85" fill="#141414" />
<circle cx="312.26" cy="179.50" r="1.50" fill="#c00f2e" stroke="#5a0a14" stroke-width="0.4"/>
<circle cx="295.28" cy="180.95" r="0.85" fill="#141414" />
<circle cx="285.83" cy="83.15" r="0.85" fill="#141414" />
<circle cx="336.75" cy="193.91" r="1.50" fill="#c00f2e" stroke="#5a0a14" stroke-width="0.4"/>
<circle cx="476.86" cy="187.71" r="0.85" fill="#141414" />
<circle cx="325.65" cy="134.90" r="1.50" fill="#f39a12" stroke="#5a0a14" stroke-width="0.4"/>
<circle cx="299.43" cy="191.84" r="0.85" fill="#141414" />
<circle cx="300.47" cy="115.89" r="0.85" fill="#141414" />
<circle cx="314.06" cy="133.09" r="1.50" fill="#f39a12" stroke="#5a0a14" stroke-width="0.4"/>
<circle cx="309.86" cy="119.64" r="1.50" fill="#f39a12" stroke="#5a0a14" stroke-width="0.4"/>
<circle cx="362.96" cy="188.55" r="0.85" fill="#141414" />
<circle cx="296.74" cy="183.96" r="1.50" fill="#f39a12" stroke="#5a0a14" stroke-width="0.4"/>
<circle cx="294.33" cy="174.33" r="0.85" fill="#141414" />
<circle cx="335.01" cy="149.59" r="1.50" fill="#c00f2e" stroke="#5a0a14" stroke-width="0.4"/>
<circle cx="296.06" cy="110.32" r="0.85" fill="#141414" />
<circle cx="288.10" cy="192.27" r="0.85" fill="#141414" />
<circle cx="381.51" cy="182.22" r="0.85" fill="#141414" />
<circle cx="417.38" cy="186.71" r="0.85" fill="#141414" />
<circle cx="295.58" cy="185.38" r="1.50" fill="#f39a12" stroke="#5a0a14" stroke-width="0.4"/>
<circle cx="386.02" cy="187.55" r="0.85" fill="#141414" />
<circle cx="355.68" cy="181.64" r="0.85" fill="#141414" />
<circle cx="291.65" cy="99.34" r="1.50" fill="#f39a12" stroke="#5a0a14" stroke-width="0.4"/>
<circle cx="305.15" cy="115.87" r="1.50" fill="#f39a12" stroke="#5a0a14" stroke-width="0.4"/>
<circle cx="287.92" cy="116.18" r="1.50" fill="#f39a12" stroke="#5a0a14" stroke-width="0.4"/>
<circle cx="318.63" cy="138.21" r="1.50" fill="#f39a12" stroke="#5a0a14" stroke-width="0.4"/>
<circle cx="330.26" cy="143.65" r="1.50" fill="#f39a12" stroke="#5a0a14" stroke-width="0.4"/>
<circle cx="285.96" cy="141.77" r="0.85" fill="#141414" />
<circle cx="315.77" cy="172.28" r="1.50" fill="#c00f2e" stroke="#5a0a14" stroke-width="0.4"/>
<circle cx="439.66" cy="189.53" r="0.85" fill="#141414" />
<circle cx="412.88" cy="146.86" r="0.85" fill="#141414" />
<circle cx="285.32" cy="93.39" r="0.85" fill="#141414" />
<circle cx="294.32" cy="190.82" r="1.50" fill="#f39a12" stroke="#5a0a14" stroke-width="0.4"/>
<circle cx="335.69" cy="149.71" r="0.85" fill="#141414" />
<circle cx="311.92" cy="135.34" r="0.85" fill="#141414" />
<circle cx="293.16" cy="101.87" r="1.50" fill="#c00f2e" stroke="#5a0a14" stroke-width="0.4"/>
<circle cx="292.65" cy="131.83" r="0.85" fill="#141414" />
<circle cx="293.69" cy="122.86" r="1.50" fill="#c00f2e" stroke="#5a0a14" stroke-width="0.4"/>
<circle cx="297.05" cy="131.02" r="1.50" fill="#f39a12" stroke="#5a0a14" stroke-width="0.4"/>
<circle cx="431.35" cy="188.70" r="0.85" fill="#141414" />
<circle cx="285.89" cy="99.24" r="1.50" fill="#f39a12" stroke="#5a0a14" stroke-width="0.4"/>
<circle cx="291.71" cy="113.10" r="1.50" fill="#f39a12" stroke="#5a0a14" stroke-width="0.4"/>
<circle cx="329.74" cy="184.73" r="0.85" fill="#141414" />
<circle cx="290.81" cy="69.33" r="1.50" fill="#c00f2e" stroke="#5a0a14" stroke-width="0.4"/>
<circle cx="375.55" cy="190.20" r="0.85" fill="#141414" />
<circle cx="306.01" cy="142.98" r="1.50" fill="#c00f2e" stroke="#5a0a14" stroke-width="0.4"/>
<circle cx="299.11" cy="184.61" r="1.50" fill="#f39a12" stroke="#5a0a14" stroke-width="0.4"/>
<circle cx="299.82" cy="142.59" r="1.50" fill="#f39a12" stroke="#5a0a14" stroke-width="0.4"/>
<circle cx="292.59" cy="181.09" r="0.85" fill="#141414" />
<circle cx="317.99" cy="126.44" r="0.85" fill="#141414" />
<circle cx="299.21" cy="108.07" r="1.50" fill="#f39a12" stroke="#5a0a14" stroke-width="0.4"/>
<circle cx="306.20" cy="113.62" r="1.50" fill="#c00f2e" stroke="#5a0a14" stroke-width="0.4"/>
<circle cx="343.91" cy="134.24" r="1.50" fill="#c00f2e" stroke="#5a0a14" stroke-width="0.4"/>
<circle cx="398.10" cy="192.17" r="0.85" fill="#141414" />
<circle cx="310.25" cy="188.46" r="1.50" fill="#c00f2e" stroke="#5a0a14" stroke-width="0.4"/>
<circle cx="302.02" cy="136.97" r="1.50" fill="#f39a12" stroke="#5a0a14" stroke-width="0.4"/>
<circle cx="310.73" cy="123.04" r="1.50" fill="#f39a12" stroke="#5a0a14" stroke-width="0.4"/>
<circle cx="285.91" cy="118.82" r="1.50" fill="#f39a12" stroke="#5a0a14" stroke-width="0.4"/>
<circle cx="310.37" cy="123.60" r="0.85" fill="#141414" />
<circle cx="337.93" cy="196.14" r="0.85" fill="#141414" />
<circle cx="295.86" cy="191.96" r="0.85" fill="#141414" />
<circle cx="285.40" cy="118.22" r="1.50" fill="#f39a12" stroke="#5a0a14" stroke-width="0.4"/>
<circle cx="417.86" cy="189.73" r="0.85" fill="#141414" />
<circle cx="292.68" cy="102.52" r="1.50" fill="#f39a12" stroke="#5a0a14" stroke-width="0.4"/>
<circle cx="292.54" cy="179.53" r="0.85" fill="#141414" />
<circle cx="293.19" cy="101.77" r="1.50" fill="#c00f2e" stroke="#5a0a14" stroke-width="0.4"/>
<circle cx="294.21" cy="101.52" r="1.50" fill="#f39a12" stroke="#5a0a14" stroke-width="0.4"/>
<circle cx="294.66" cy="110.59" r="1.50" fill="#c00f2e" stroke="#5a0a14" stroke-width="0.4"/>
<circle cx="285.78" cy="104.53" r="1.50" fill="#c00f2e" stroke="#5a0a14" stroke-width="0.4"/>
<circle cx="292.41" cy="198.51" r="1.50" fill="#c00f2e" stroke="#5a0a14" stroke-width="0.4"/>
<circle cx="297.87" cy="106.48" r="0.85" fill="#141414" />
<circle cx="401.90" cy="190.41" r="0.85" fill="#141414" />
<circle cx="367.29" cy="189.11" r="0.85" fill="#141414" />
<circle cx="297.54" cy="113.28" r="1.50" fill="#f39a12" stroke="#5a0a14" stroke-width="0.4"/>
<circle cx="305.77" cy="190.81" r="0.85" fill="#141414" />
<circle cx="298.32" cy="183.19" r="0.85" fill="#141414" />
<circle cx="286.28" cy="173.38" r="1.50" fill="#f39a12" stroke="#5a0a14" stroke-width="0.4"/>
<circle cx="307.52" cy="180.52" r="0.85" fill="#141414" />
<circle cx="318.73" cy="180.40" r="0.85" fill="#141414" />
<circle cx="288.81" cy="187.34" r="1.50" fill="#c00f2e" stroke="#5a0a14" stroke-width="0.4"/>
<circle cx="291.82" cy="142.81" r="0.85" fill="#141414" />
<circle cx="294.70" cy="104.69" r="1.50" fill="#c00f2e" stroke="#5a0a14" stroke-width="0.4"/>
<circle cx="289.12" cy="104.41" r="1.50" fill="#f39a12" stroke="#5a0a14" stroke-width="0.4"/>
<circle cx="294.88" cy="148.62" r="0.85" fill="#141414" />
<circle cx="435.55" cy="179.99" r="0.85" fill="#141414" />
<circle cx="301.05" cy="182.66" r="0.85" fill="#141414" />
<circle cx="299.55" cy="108.64" r="1.50" fill="#f39a12" stroke="#5a0a14" stroke-width="0.4"/>
<circle cx="307.65" cy="117.40" r="0.85" fill="#141414" />
<circle cx="412.36" cy="181.54" r="0.85" fill="#141414" />
<circle cx="329.48" cy="179.20" r="0.85" fill="#141414" />
<circle cx="304.26" cy="152.36" r="1.50" fill="#f39a12" stroke="#5a0a14" stroke-width="0.4"/>
<circle cx="285.35" cy="92.10" r="0.85" fill="#141414" />
<circle cx="285.44" cy="219.04" r="0.85" fill="#141414" />
<circle cx="291.41" cy="91.58" r="0.85" fill="#141414" />
<circle cx="290.87" cy="177.74" r="1.50" fill="#c00f2e" stroke="#5a0a14" stroke-width="0.4"/>
<circle cx="287.53" cy="181.63" r="1.50" fill="#c00f2e" stroke="#5a0a14" stroke-width="0.4"/>
<circle cx="313.56" cy="176.37" r="0.85" fill="#141414" />
<circle cx="287.52" cy="121.65" r="1.50" fill="#c00f2e" stroke="#5a0a14" stroke-width="0.4"/>
<circle cx="287.65" cy="110.79" r="0.85" fill="#141414" />
<circle cx="311.39" cy="128.49" r="0.85" fill="#141414" />
<circle cx="326.16" cy="136.65" r="0.85" fill="#141414" />
<circle cx="289.94" cy="113.40" r="1.50" fill="#f39a12" stroke="#5a0a14" stroke-width="0.4"/>
<circle cx="324.62" cy="181.91" r="0.85" fill="#141414" />
<circle cx="285.80" cy="211.47" r="1.50" fill="#f39a12" stroke="#5a0a14" stroke-width="0.4"/>
<circle cx="290.31" cy="140.67" r="1.50" fill="#c00f2e" stroke="#5a0a14" stroke-width="0.4"/>
<circle cx="296.72" cy="150.20" r="0.85" fill="#141414" />
<circle cx="307.17" cy="119.40" r="1.50" fill="#f39a12" stroke="#5a0a14" stroke-width="0.4"/>
<circle cx="288.11" cy="137.80" r="0.85" fill="#141414" />
<circle cx="365.00" cy="181.88" r="0.85" fill="#141414" />
<circle cx="286.35" cy="131.28" r="1.50" fill="#c00f2e" stroke="#5a0a14" stroke-width="0.4"/>
<circle cx="305.52" cy="114.42" r="0.85" fill="#141414" />
<circle cx="306.04" cy="194.39" r="1.50" fill="#c00f2e" stroke="#5a0a14" stroke-width="0.4"/>
<circle cx="305.29" cy="171.62" r="0.85" fill="#141414" />
<circle cx="305.15" cy="190.28" r="1.50" fill="#f39a12" stroke="#5a0a14" stroke-width="0.4"/>
<circle cx="289.33" cy="111.02" r="1.50" fill="#f39a12" stroke="#5a0a14" stroke-width="0.4"/>
<circle cx="302.80" cy="105.00" r="0.85" fill="#141414" />
<circle cx="308.92" cy="175.16" r="0.85" fill="#141414" />
<circle cx="288.98" cy="133.88" r="1.50" fill="#f39a12" stroke="#5a0a14" stroke-width="0.4"/>
<circle cx="289.50" cy="91.71" r="1.50" fill="#f39a12" stroke="#5a0a14" stroke-width="0.4"/>
<circle cx="296.40" cy="130.76" r="1.50" fill="#f39a12" stroke="#5a0a14" stroke-width="0.4"/>
<circle cx="322.87" cy="191.06" r="0.85" fill="#141414" />
<circle cx="286.32" cy="212.32" r="1.50" fill="#c00f2e" stroke="#5a0a14" stroke-width="0.4"/>
<circle cx="409.90" cy="145.33" r="0.85" fill="#141414" />
<circle cx="315.26" cy="174.79" r="1.50" fill="#c00f2e" stroke="#5a0a14" stroke-width="0.4"/>
<circle cx="294.80" cy="152.18" r="0.85" fill="#141414" />
<circle cx="289.34" cy="108.72" r="1.50" fill="#f39a12" stroke="#5a0a14" stroke-width="0.4"/>
<circle cx="304.70" cy="155.96" r="1.50" fill="#f39a12" stroke="#5a0a14" stroke-width="0.4"/>
<circle cx="311.26" cy="126.89" r="1.50" fill="#c00f2e" stroke="#5a0a14" stroke-width="0.4"/>
<circle cx="287.61" cy="113.57" r="0.85" fill="#141414" />
<circle cx="329.68" cy="143.22" r="1.50" fill="#f39a12" stroke="#5a0a14" stroke-width="0.4"/>
<circle cx="308.70" cy="188.31" r="1.50" fill="#c00f2e" stroke="#5a0a14" stroke-width="0.4"/>
<circle cx="399.28" cy="188.20" r="0.85" fill="#141414" />
<circle cx="294.79" cy="114.98" r="0.85" fill="#141414" />
<circle cx="319.31" cy="177.62" r="1.50" fill="#c00f2e" stroke="#5a0a14" stroke-width="0.4"/>
<circle cx="293.06" cy="115.93" r="1.50" fill="#c00f2e" stroke="#5a0a14" stroke-width="0.4"/>
<circle cx="305.60" cy="130.94" r="1.50" fill="#f39a12" stroke="#5a0a14" stroke-width="0.4"/>
<circle cx="337.64" cy="183.72" r="0.85" fill="#141414" />
<circle cx="302.38" cy="183.76" r="1.50" fill="#c00f2e" stroke="#5a0a14" stroke-width="0.4"/>
<circle cx="306.89" cy="183.88" r="1.50" fill="#f39a12" stroke="#5a0a14" stroke-width="0.4"/>
<circle cx="296.92" cy="197.07" r="0.85" fill="#141414" />
<circle cx="340.20" cy="130.51" r="1.50" fill="#c00f2e" stroke="#5a0a14" stroke-width="0.4"/>
<circle cx="416.58" cy="184.78" r="0.85" fill="#141414" />
<circle cx="305.27" cy="143.93" r="0.85" fill="#141414" />
<circle cx="296.84" cy="125.57" r="1.50" fill="#f39a12" stroke="#5a0a14" stroke-width="0.4"/>
<circle cx="298.15" cy="125.52" r="1.50" fill="#c00f2e" stroke="#5a0a14" stroke-width="0.4"/>
<circle cx="318.08" cy="143.13" r="0.85" fill="#141414" />
<circle cx="300.65" cy="132.44" r="1.50" fill="#f39a12" stroke="#5a0a14" stroke-width="0.4"/>
<circle cx="287.22" cy="93.65" r="1.50" fill="#f39a12" stroke="#5a0a14" stroke-width="0.4"/>
<circle cx="286.30" cy="205.47" r="0.85" fill="#141414" />
<circle cx="285.48" cy="138.77" r="0.85" fill="#141414" />
<circle cx="295.07" cy="174.50" r="0.85" fill="#141414" />
<circle cx="339.00" cy="185.75" r="0.85" fill="#141414" />
<circle cx="394.36" cy="179.59" r="0.85" fill="#141414" />
<circle cx="331.31" cy="197.32" r="0.85" fill="#141414" />
<circle cx="292.26" cy="91.39" r="1.50" fill="#f39a12" stroke="#5a0a14" stroke-width="0.4"/>
<circle cx="286.84" cy="139.15" r="0.85" fill="#141414" />
<circle cx="290.25" cy="122.91" r="0.85" fill="#141414" />
<circle cx="299.73" cy="122.90" r="1.50" fill="#f39a12" stroke="#5a0a14" stroke-width="0.4"/>
<circle cx="287.06" cy="170.87" r="1.50" fill="#c00f2e" stroke="#5a0a14" stroke-width="0.4"/>
<circle cx="293.80" cy="106.70" r="1.50" fill="#c00f2e" stroke="#5a0a14" stroke-width="0.4"/>
<circle cx="303.66" cy="115.66" r="1.50" fill="#f39a12" stroke="#5a0a14" stroke-width="0.4"/>
<circle cx="288.90" cy="124.12" r="1.50" fill="#c00f2e" stroke="#5a0a14" stroke-width="0.4"/>
<circle cx="292.57" cy="105.77" r="1.50" fill="#c00f2e" stroke="#5a0a14" stroke-width="0.4"/>
<circle cx="314.29" cy="122.05" r="1.50" fill="#f39a12" stroke="#5a0a14" stroke-width="0.4"/>
<circle cx="314.59" cy="136.46" r="1.50" fill="#f39a12" stroke="#5a0a14" stroke-width="0.4"/>
<circle cx="291.44" cy="127.80" r="1.50" fill="#c00f2e" stroke="#5a0a14" stroke-width="0.4"/>
<circle cx="293.07" cy="95.04" r="1.50" fill="#c00f2e" stroke="#5a0a14" stroke-width="0.4"/>
<circle cx="430.34" cy="192.54" r="0.85" fill="#141414" />
<circle cx="286.47" cy="105.23" r="0.85" fill="#141414" />
<circle cx="311.58" cy="119.67" r="1.50" fill="#f39a12" stroke="#5a0a14" stroke-width="0.4"/>
<circle cx="330.53" cy="181.48" r="0.85" fill="#141414" />
<circle cx="288.72" cy="118.65" r="1.50" fill="#f39a12" stroke="#5a0a14" stroke-width="0.4"/>
<circle cx="299.08" cy="98.58" r="1.50" fill="#f39a12" stroke="#5a0a14" stroke-width="0.4"/>
<circle cx="286.63" cy="126.21" r="0.85" fill="#141414" />
<circle cx="324.03" cy="197.59" r="0.85" fill="#141414" />
<circle cx="285.91" cy="115.66" r="1.50" fill="#c00f2e" stroke="#5a0a14" stroke-width="0.4"/>
<circle cx="288.32" cy="66.01" r="1.50" fill="#f39a12" stroke="#5a0a14" stroke-width="0.4"/>
<circle cx="292.10" cy="180.86" r="1.50" fill="#f39a12" stroke="#5a0a14" stroke-width="0.4"/>
<circle cx="336.68" cy="146.92" r="1.50" fill="#c00f2e" stroke="#5a0a14" stroke-width="0.4"/>
<circle cx="288.28" cy="108.32" r="1.50" fill="#c00f2e" stroke="#5a0a14" stroke-width="0.4"/>
<circle cx="319.24" cy="182.98" r="0.85" fill="#141414" />
<circle cx="311.18" cy="170.85" r="0.85" fill="#141414" />
<circle cx="300.30" cy="109.84" r="0.85" fill="#141414" />
<circle cx="292.68" cy="118.46" r="0.85" fill="#141414" />
<circle cx="297.50" cy="137.80" r="0.85" fill="#141414" />
<circle cx="288.69" cy="110.25" r="0.85" fill="#141414" />
<circle cx="286.27" cy="90.04" r="0.85" fill="#141414" />
<circle cx="288.09" cy="103.32" r="0.85" fill="#141414" />
<circle cx="335.55" cy="191.82" r="0.85" fill="#141414" />
<circle cx="287.85" cy="189.35" r="1.50" fill="#f39a12" stroke="#5a0a14" stroke-width="0.4"/>
<circle cx="291.02" cy="96.91" r="0.85" fill="#141414" />
<circle cx="320.60" cy="146.32" r="1.50" fill="#f39a12" stroke="#5a0a14" stroke-width="0.4"/>
<circle cx="291.38" cy="153.71" r="1.50" fill="#c00f2e" stroke="#5a0a14" stroke-width="0.4"/>
<circle cx="379.88" cy="190.44" r="0.85" fill="#141414" />
<circle cx="287.03" cy="147.50" r="0.85" fill="#141414" />
<circle cx="319.93" cy="181.24" r="1.50" fill="#c00f2e" stroke="#5a0a14" stroke-width="0.4"/>
<circle cx="285.40" cy="124.42" r="1.50" fill="#f39a12" stroke="#5a0a14" stroke-width="0.4"/>
<circle cx="400.51" cy="184.89" r="0.85" fill="#141414" />
<circle cx="298.39" cy="122.11" r="1.50" fill="#c00f2e" stroke="#5a0a14" stroke-width="0.4"/>
<circle cx="316.08" cy="137.80" r="1.50" fill="#f39a12" stroke="#5a0a14" stroke-width="0.4"/>
<circle cx="289.81" cy="145.85" r="1.50" fill="#c00f2e" stroke="#5a0a14" stroke-width="0.4"/>
<circle cx="291.17" cy="103.28" r="0.85" fill="#141414" />
<circle cx="352.45" cy="180.09" r="0.85" fill="#141414" />
<circle cx="360.69" cy="185.50" r="0.85" fill="#141414" />
<circle cx="285.39" cy="92.41" r="0.85" fill="#141414" />
<circle cx="305.94" cy="121.46" r="0.85" fill="#141414" />
<circle cx="285.90" cy="111.63" r="1.50" fill="#f39a12" stroke="#5a0a14" stroke-width="0.4"/>
<circle cx="286.90" cy="112.55" r="0.85" fill="#141414" />
<circle cx="291.78" cy="194.34" r="0.85" fill="#141414" />
<circle cx="298.31" cy="150.13" r="0.85" fill="#141414" />
<circle cx="291.73" cy="121.88" r="0.85" fill="#141414" />
<circle cx="329.77" cy="183.95" r="1.50" fill="#c00f2e" stroke="#5a0a14" stroke-width="0.4"/>
<circle cx="294.11" cy="101.50" r="1.50" fill="#f39a12" stroke="#5a0a14" stroke-width="0.4"/>
<circle cx="307.18" cy="133.84" r="1.50" fill="#c00f2e" stroke="#5a0a14" stroke-width="0.4"/>
<circle cx="304.91" cy="184.74" r="0.85" fill="#141414" />
<circle cx="396.40" cy="184.71" r="0.85" fill="#141414" />
<circle cx="288.51" cy="123.34" r="0.85" fill="#141414" />
<circle cx="290.11" cy="126.07" r="0.85" fill="#141414" />
<circle cx="297.58" cy="184.46" r="1.50" fill="#c00f2e" stroke="#5a0a14" stroke-width="0.4"/>
<circle cx="285.45" cy="100.61" r="0.85" fill="#141414" />
<circle cx="303.50" cy="172.14" r="0.85" fill="#141414" />
<circle cx="289.15" cy="93.14" r="0.85" fill="#141414" />
<circle cx="306.42" cy="127.28" r="0.85" fill="#141414" />
<circle cx="285.53" cy="191.32" r="1.50" fill="#f39a12" stroke="#5a0a14" stroke-width="0.4"/>
<circle cx="354.42" cy="185.32" r="0.85" fill="#141414" />
<circle cx="296.92" cy="108.42" r="0.85" fill="#141414" />
<circle cx="440.20" cy="188.55" r="0.85" fill="#141414" />
<circle cx="314.63" cy="176.34" r="1.50" fill="#f39a12" stroke="#5a0a14" stroke-width="0.4"/>
<circle cx="368.44" cy="193.66" r="0.85" fill="#141414" />
<circle cx="287.76" cy="99.28" r="1.50" fill="#f39a12" stroke="#5a0a14" stroke-width="0.4"/>
<circle cx="285.39" cy="95.95" r="1.50" fill="#c00f2e" stroke="#5a0a14" stroke-width="0.4"/>
<circle cx="379.35" cy="143.26" r="0.85" fill="#141414" />
<circle cx="297.33" cy="206.58" r="1.50" fill="#c00f2e" stroke="#5a0a14" stroke-width="0.4"/>
<circle cx="301.05" cy="189.17" r="0.85" fill="#141414" />
<circle cx="289.13" cy="149.98" r="1.50" fill="#c00f2e" stroke="#5a0a14" stroke-width="0.4"/>
<circle cx="340.70" cy="128.72" r="1.50" fill="#c00f2e" stroke="#5a0a14" stroke-width="0.4"/>
<circle cx="434.73" cy="151.32" r="0.85" fill="#141414" />
<circle cx="289.69" cy="182.07" r="0.85" fill="#141414" />
<circle cx="317.39" cy="131.33" r="1.50" fill="#c00f2e" stroke="#5a0a14" stroke-width="0.4"/>
<circle cx="421.13" cy="178.48" r="0.85" fill="#141414" />
<circle cx="285.38" cy="108.36" r="1.50" fill="#f39a12" stroke="#5a0a14" stroke-width="0.4"/>
<circle cx="287.04" cy="89.06" r="0.85" fill="#141414" />
<circle cx="310.00" cy="177.85" r="1.50" fill="#c00f2e" stroke="#5a0a14" stroke-width="0.4"/>
<circle cx="285.32" cy="130.40" r="0.85" fill="#141414" />
<circle cx="315.20" cy="143.64" r="1.50" fill="#f39a12" stroke="#5a0a14" stroke-width="0.4"/>
<circle cx="298.17" cy="179.09" r="0.85" fill="#141414" />
<circle cx="326.70" cy="138.99" r="1.50" fill="#f39a12" stroke="#5a0a14" stroke-width="0.4"/>
<circle cx="297.42" cy="188.69" r="0.85" fill="#141414" />
<circle cx="286.09" cy="121.28" r="1.50" fill="#f39a12" stroke="#5a0a14" stroke-width="0.4"/>
<circle cx="303.40" cy="197.70" r="1.50" fill="#f39a12" stroke="#5a0a14" stroke-width="0.4"/>
<circle cx="288.41" cy="182.49" r="1.50" fill="#c00f2e" stroke="#5a0a14" stroke-width="0.4"/>
<circle cx="363.12" cy="183.23" r="0.85" fill="#141414" />
<circle cx="289.26" cy="175.18" r="1.50" fill="#c00f2e" stroke="#5a0a14" stroke-width="0.4"/>
<circle cx="366.19" cy="185.50" r="0.85" fill="#141414" />
<circle cx="309.43" cy="179.90" r="0.85" fill="#141414" />
<circle cx="300.62" cy="128.49" r="0.85" fill="#141414" />
<circle cx="292.60" cy="185.19" r="0.85" fill="#141414" />
<circle cx="310.20" cy="120.82" r="1.50" fill="#c00f2e" stroke="#5a0a14" stroke-width="0.4"/>
<circle cx="294.00" cy="101.76" r="0.85" fill="#141414" />
<circle cx="307.95" cy="189.01" r="0.85" fill="#141414" />
<circle cx="292.22" cy="98.35" r="1.50" fill="#c00f2e" stroke="#5a0a14" stroke-width="0.4"/>
<circle cx="306.94" cy="120.24" r="0.85" fill="#141414" />
<circle cx="292.36" cy="130.32" r="1.50" fill="#f39a12" stroke="#5a0a14" stroke-width="0.4"/>
<circle cx="296.13" cy="116.58" r="1.50" fill="#c00f2e" stroke="#5a0a14" stroke-width="0.4"/>
<circle cx="347.30" cy="185.25" r="0.85" fill="#141414" />
<circle cx="286.09" cy="143.36" r="1.50" fill="#c00f2e" stroke="#5a0a14" stroke-width="0.4"/>
<circle cx="287.06" cy="138.38" r="1.50" fill="#f39a12" stroke="#5a0a14" stroke-width="0.4"/>
<circle cx="300.07" cy="101.27" r="0.85" fill="#141414" />
<circle cx="291.57" cy="185.31" r="0.85" fill="#141414" />
<circle cx="401.85" cy="184.12" r="0.85" fill="#141414" />
<circle cx="323.23" cy="138.50" r="1.50" fill="#c00f2e" stroke="#5a0a14" stroke-width="0.4"/>
<circle cx="296.56" cy="181.02" r="0.85" fill="#141414" />
<circle cx="301.67" cy="181.51" r="0.85" fill="#141414" />
<circle cx="322.44" cy="188.93" r="1.50" fill="#c00f2e" stroke="#5a0a14" stroke-width="0.4"/>
<circle cx="322.70" cy="173.19" r="1.50" fill="#c00f2e" stroke="#5a0a14" stroke-width="0.4"/>
<circle cx="309.19" cy="142.64" r="0.85" fill="#141414" />
<circle cx="288.84" cy="124.90" r="0.85" fill="#141414" />
<circle cx="312.31" cy="187.70" r="1.50" fill="#f39a12" stroke="#5a0a14" stroke-width="0.4"/>
<circle cx="364.83" cy="136.72" r="1.50" fill="#f39a12" stroke="#5a0a14" stroke-width="0.4"/>
<circle cx="350.41" cy="190.42" r="0.85" fill="#141414" />
<circle cx="296.01" cy="172.59" r="1.50" fill="#c00f2e" stroke="#5a0a14" stroke-width="0.4"/>
<circle cx="305.50" cy="127.37" r="0.85" fill="#141414" />
<circle cx="306.14" cy="155.84" r="1.50" fill="#f39a12" stroke="#5a0a14" stroke-width="0.4"/>
<circle cx="303.19" cy="133.91" r="1.50" fill="#c00f2e" stroke="#5a0a14" stroke-width="0.4"/>
<circle cx="299.14" cy="189.87" r="0.85" fill="#141414" />
<circle cx="295.15" cy="97.16" r="1.50" fill="#f39a12" stroke="#5a0a14" stroke-width="0.4"/>
<circle cx="425.28" cy="182.04" r="0.85" fill="#141414" />
<circle cx="296.23" cy="119.81" r="0.85" fill="#141414" />
<circle cx="388.83" cy="182.74" r="0.85" fill="#141414" />
<circle cx="410.80" cy="186.58" r="0.85" fill="#141414" />
<circle cx="326.42" cy="153.27" r="1.50" fill="#f39a12" stroke="#5a0a14" stroke-width="0.4"/>
<circle cx="292.95" cy="95.67" r="1.50" fill="#f39a12" stroke="#5a0a14" stroke-width="0.4"/>
<circle cx="286.40" cy="171.75" r="0.85" fill="#141414" />
<circle cx="368.28" cy="187.46" r="0.85" fill="#141414" />
<circle cx="291.12" cy="128.15" r="0.85" fill="#141414" />
<circle cx="301.61" cy="103.85" r="0.85" fill="#141414" />
<circle cx="301.38" cy="126.31" r="0.85" fill="#141414" />
<circle cx="288.46" cy="181.94" r="1.50" fill="#c00f2e" stroke="#5a0a14" stroke-width="0.4"/>
<circle cx="299.32" cy="176.65" r="1.50" fill="#f39a12" stroke="#5a0a14" stroke-width="0.4"/>
<circle cx="299.61" cy="128.05" r="0.85" fill="#141414" />
<circle cx="304.38" cy="110.65" r="0.85" fill="#141414" />
<circle cx="316.94" cy="196.54" r="0.85" fill="#141414" />
<circle cx="304.56" cy="128.54" r="0.85" fill="#141414" />
<circle cx="298.85" cy="111.04" r="0.85" fill="#141414" />
<circle cx="305.91" cy="111.48" r="1.50" fill="#c00f2e" stroke="#5a0a14" stroke-width="0.4"/>
<circle cx="297.97" cy="137.82" r="1.50" fill="#c00f2e" stroke="#5a0a14" stroke-width="0.4"/>
<circle cx="350.12" cy="148.04" r="1.50" fill="#f39a12" stroke="#5a0a14" stroke-width="0.4"/>
<circle cx="299.87" cy="177.26" r="0.85" fill="#141414" />
<circle cx="288.32" cy="91.62" r="1.50" fill="#c00f2e" stroke="#5a0a14" stroke-width="0.4"/>
<circle cx="307.01" cy="156.36" r="0.85" fill="#141414" />
<circle cx="327.83" cy="151.00" r="0.85" fill="#141414" />
<circle cx="344.32" cy="188.71" r="0.85" fill="#141414" />
<circle cx="294.50" cy="89.07" r="0.85" fill="#141414" />
<circle cx="364.64" cy="148.89" r="0.85" fill="#141414" />
<circle cx="285.81" cy="99.80" r="0.85" fill="#141414" />
<circle cx="301.23" cy="124.66" r="1.50" fill="#f39a12" stroke="#5a0a14" stroke-width="0.4"/>
<circle cx="357.89" cy="188.56" r="0.85" fill="#141414" />
<circle cx="293.11" cy="99.38" r="0.85" fill="#141414" />
<circle cx="285.22" cy="198.86" r="0.85" fill="#141414" />
<circle cx="294.12" cy="152.96" r="0.85" fill="#141414" />
<circle cx="286.12" cy="127.17" r="1.50" fill="#c00f2e" stroke="#5a0a14" stroke-width="0.4"/>
<circle cx="323.02" cy="177.55" r="1.50" fill="#c00f2e" stroke="#5a0a14" stroke-width="0.4"/>
<circle cx="304.10" cy="151.46" r="0.85" fill="#141414" />
<circle cx="291.90" cy="173.60" r="1.50" fill="#c00f2e" stroke="#5a0a14" stroke-width="0.4"/>
<circle cx="300.72" cy="172.25" r="0.85" fill="#141414" />
<circle cx="289.50" cy="105.42" r="1.50" fill="#f39a12" stroke="#5a0a14" stroke-width="0.4"/>
<circle cx="294.69" cy="191.75" r="0.85" fill="#141414" />
<circle cx="308.37" cy="113.84" r="1.50" fill="#f39a12" stroke="#5a0a14" stroke-width="0.4"/>
<circle cx="299.24" cy="101.22" r="0.85" fill="#141414" />
<circle cx="376.47" cy="177.89" r="0.85" fill="#141414" />
<circle cx="427.46" cy="189.96" r="0.85" fill="#141414" />
<circle cx="317.47" cy="131.93" r="1.50" fill="#f39a12" stroke="#5a0a14" stroke-width="0.4"/>
<circle cx="297.89" cy="185.14" r="1.50" fill="#c00f2e" stroke="#5a0a14" stroke-width="0.4"/>
<circle cx="289.63" cy="155.22" r="1.50" fill="#f39a12" stroke="#5a0a14" stroke-width="0.4"/>
<circle cx="286.43" cy="142.07" r="0.85" fill="#141414" />
<circle cx="286.83" cy="124.81" r="0.85" fill="#141414" />
<circle cx="326.92" cy="148.34" r="1.50" fill="#f39a12" stroke="#5a0a14" stroke-width="0.4"/>
<circle cx="286.76" cy="91.12" r="1.50" fill="#c00f2e" stroke="#5a0a14" stroke-width="0.4"/>
<circle cx="292.50" cy="205.42" r="1.50" fill="#c00f2e" stroke="#5a0a14" stroke-width="0.4"/>
<circle cx="296.38" cy="196.07" r="1.50" fill="#f39a12" stroke="#5a0a14" stroke-width="0.4"/>
<circle cx="319.80" cy="129.75" r="0.85" fill="#141414" />
<circle cx="403.62" cy="189.07" r="0.85" fill="#141414" />
<circle cx="377.61" cy="141.01" r="0.85" fill="#141414" />
<circle cx="296.38" cy="122.32" r="1.50" fill="#f39a12" stroke="#5a0a14" stroke-width="0.4"/>
<circle cx="313.50" cy="172.30" r="1.50" fill="#c00f2e" stroke="#5a0a14" stroke-width="0.4"/>
<circle cx="288.20" cy="117.92" r="0.85" fill="#141414" />
<circle cx="298.48" cy="98.13" r="0.85" fill="#141414" />
<circle cx="391.63" cy="186.16" r="0.85" fill="#141414" />
<circle cx="313.39" cy="141.80" r="1.50" fill="#f39a12" stroke="#5a0a14" stroke-width="0.4"/>
<circle cx="309.77" cy="182.76" r="0.85" fill="#141414" />
<circle cx="298.82" cy="128.02" r="1.50" fill="#c00f2e" stroke="#5a0a14" stroke-width="0.4"/>
<circle cx="415.05" cy="182.05" r="0.85" fill="#141414" />
<circle cx="292.01" cy="190.42" r="0.85" fill="#141414" />
<circle cx="299.63" cy="191.63" r="1.50" fill="#f39a12" stroke="#5a0a14" stroke-width="0.4"/>
<circle cx="308.29" cy="118.01" r="1.50" fill="#f39a12" stroke="#5a0a14" stroke-width="0.4"/>
<circle cx="291.61" cy="137.80" r="0.85" fill="#141414" />
<circle cx="308.76" cy="193.01" r="0.85" fill="#141414" />
<circle cx="430.06" cy="185.23" r="0.85" fill="#141414" />
<circle cx="295.19" cy="101.44" r="0.85" fill="#141414" />
<circle cx="295.46" cy="124.45" r="1.50" fill="#c00f2e" stroke="#5a0a14" stroke-width="0.4"/>
<circle cx="285.15" cy="199.58" r="0.85" fill="#141414" />
<circle cx="285.49" cy="105.30" r="0.85" fill="#141414" />
<circle cx="440.13" cy="183.10" r="0.85" fill="#141414" />
<circle cx="325.09" cy="176.94" r="1.50" fill="#c00f2e" stroke="#5a0a14" stroke-width="0.4"/>
<circle cx="360.10" cy="193.93" r="0.85" fill="#141414" />
<circle cx="292.86" cy="145.92" r="1.50" fill="#c00f2e" stroke="#5a0a14" stroke-width="0.4"/>
<circle cx="289.23" cy="98.92" r="1.50" fill="#c00f2e" stroke="#5a0a14" stroke-width="0.4"/>
<circle cx="285.85" cy="150.67" r="1.50" fill="#c00f2e" stroke="#5a0a14" stroke-width="0.4"/>
<circle cx="286.55" cy="108.08" r="0.85" fill="#141414" />
<circle cx="285.43" cy="184.60" r="1.50" fill="#f39a12" stroke="#5a0a14" stroke-width="0.4"/>
<line x1="283.50" y1="52.50" x2="283.50" y2="70.20" stroke="#111" stroke-width="1.2" />
<line x1="280.70" y1="70.20" x2="285.00" y2="70.20" stroke="#111" stroke-width="0.9" />
<line x1="283.50" y1="76.30" x2="283.50" y2="251.00" stroke="#111" stroke-width="1.2" />
<line x1="280.70" y1="76.30" x2="285.00" y2="76.30" stroke="#111" stroke-width="0.9" />
<line x1="280.70" y1="251.00" x2="285.00" y2="251.00" stroke="#111" stroke-width="0.9" />
<line x1="283.50" y1="257.30" x2="283.50" y2="278.50" stroke="#111" stroke-width="1.2" />
<line x1="280.70" y1="257.30" x2="285.00" y2="257.30" stroke="#111" stroke-width="0.9" />
<line x1="280.70" y1="54.60" x2="283.50" y2="54.60" stroke="#111" stroke-width="0.9" />
<text x="278.60" y="57.10" font-size="7" text-anchor="end" fill="#222" stroke="#222" stroke-width="0.16" >6</text>
<line x1="280.70" y1="62.50" x2="283.50" y2="62.50" stroke="#111" stroke-width="0.9" />
<text x="278.60" y="65.00" font-size="7" text-anchor="end" fill="#222" stroke="#222" stroke-width="0.16" >4</text>
<line x1="280.70" y1="70.20" x2="283.50" y2="70.20" stroke="#111" stroke-width="0.9" />
<text x="278.60" y="72.70" font-size="7" text-anchor="end" fill="#222" stroke="#222" stroke-width="0.16" >2</text>
<line x1="280.70" y1="76.30" x2="283.50" y2="76.30" stroke="#111" stroke-width="0.9" />
<text x="278.60" y="78.80" font-size="7" text-anchor="end" fill="#222" stroke="#222" stroke-width="0.16" >2</text>
<line x1="280.70" y1="120.50" x2="283.50" y2="120.50" stroke="#111" stroke-width="0.9" />
<text x="278.60" y="123.00" font-size="7" text-anchor="end" fill="#222" stroke="#222" stroke-width="0.16" >1</text>
<line x1="280.70" y1="164.00" x2="283.50" y2="164.00" stroke="#111" stroke-width="0.9" />
<text x="278.60" y="166.50" font-size="7" text-anchor="end" fill="#222" stroke="#222" stroke-width="0.16" >0</text>
<line x1="280.70" y1="207.60" x2="283.50" y2="207.60" stroke="#111" stroke-width="0.9" />
<text x="278.60" y="210.10" font-size="7" text-anchor="end" fill="#222" stroke="#222" stroke-width="0.16" >−1</text>
<line x1="280.70" y1="251.00" x2="283.50" y2="251.00" stroke="#111" stroke-width="0.9" />
<text x="278.60" y="253.50" font-size="7" text-anchor="end" fill="#222" stroke="#222" stroke-width="0.16" >−2</text>
<line x1="280.70" y1="257.30" x2="283.50" y2="257.30" stroke="#111" stroke-width="0.9" />
<text x="278.60" y="259.80" font-size="7" text-anchor="end" fill="#222" stroke="#222" stroke-width="0.16" >−2</text>
<line x1="280.70" y1="266.20" x2="283.50" y2="266.20" stroke="#111" stroke-width="0.9" />
<text x="278.60" y="268.70" font-size="7" text-anchor="end" fill="#222" stroke="#222" stroke-width="0.16" >−4</text>
<line x1="280.70" y1="274.80" x2="283.50" y2="274.80" stroke="#111" stroke-width="0.9" />
<text x="278.60" y="277.30" font-size="7" text-anchor="end" fill="#222" stroke="#222" stroke-width="0.16" >−6</text>
<line x1="283.50" y1="164.00" x2="446.80" y2="164.00" stroke="#111" stroke-width="1.2" />
<line x1="453.00" y1="164.00" x2="482.00" y2="164.00" stroke="#111" stroke-width="1.2" />
<line x1="446.80" y1="161.50" x2="446.80" y2="166.50" stroke="#111" stroke-width="0.9" />
<line x1="453.00" y1="161.50" x2="453.00" y2="166.50" stroke="#111" stroke-width="0.9" />
<line x1="300.00" y1="164.00" x2="300.00" y2="165.80" stroke="#111" stroke-width="0.8" />
<line x1="316.50" y1="164.00" x2="316.50" y2="165.80" stroke="#111" stroke-width="0.8" />
<line x1="333.00" y1="164.00" x2="333.00" y2="165.80" stroke="#111" stroke-width="0.8" />
<line x1="349.50" y1="164.00" x2="349.50" y2="165.80" stroke="#111" stroke-width="0.8" />
<line x1="366.00" y1="164.00" x2="366.00" y2="165.80" stroke="#111" stroke-width="0.8" />
<line x1="382.50" y1="164.00" x2="382.50" y2="165.80" stroke="#111" stroke-width="0.8" />
<line x1="399.00" y1="164.00" x2="399.00" y2="165.80" stroke="#111" stroke-width="0.8" />
<line x1="413.60" y1="164.00" x2="413.60" y2="165.80" stroke="#111" stroke-width="0.8" />
<line x1="429.80" y1="164.00" x2="429.80" y2="165.80" stroke="#111" stroke-width="0.8" />
<line x1="481.80" y1="164.00" x2="481.80" y2="165.80" stroke="#111" stroke-width="0.8" />
<text x="447.30" y="174.30" font-size="7" text-anchor="middle" fill="#222" stroke="#222" stroke-width="0.16" >10000</text>
<text x="479.30" y="174.30" font-size="7" text-anchor="middle" fill="#222" stroke="#222" stroke-width="0.16" >30000</text>
<text x="0" y="0" font-size="8.8" fill="#222" stroke="#222" stroke-width="0.22" text-anchor="start" textLength="51.90" lengthAdjust="spacingAndGlyphs" transform="translate(356.50,221.10)">Basemean (RPM)</text>
<text x="0" y="0" font-size="10.0" fill="#222" stroke="#222" stroke-width="0.22" text-anchor="start" textLength="20.30" lengthAdjust="spacingAndGlyphs" transform="translate(259.60,171.30) rotate(-90)">Log<tspan font-size="6.4" dy="2.2">2</tspan><tspan dy="-2.2">FC</tspan></text>
<line x1="244.40" y1="156.00" x2="244.40" y2="70.00" stroke="#111" stroke-width="1.25" />
<path d="M241.9,71.6 L244.4,65.6 L246.9,71.6 Z" fill="#111"/>
<line x1="244.40" y1="173.80" x2="244.40" y2="258.00" stroke="#111" stroke-width="1.25" />
<path d="M241.9,256.4 L244.4,262.4 L246.9,256.4 Z" fill="#111"/>
<text x="0" y="0" font-size="7.2" fill="#222" stroke="#222" stroke-width="0.15" transform="translate(237.0,112.0) rotate(-90)">MAF</text>
<line x1="239.80" y1="120.20" x2="232.50" y2="120.20" stroke="#111" stroke-width="1.15" />
<path d="M233.4,118.4 L229.9,120.2 L233.4,122.0 Z" fill="#111"/>
<text x="0" y="0" font-size="7.9" fill="#222" stroke="#222" stroke-width="0.15" transform="translate(238.9,218.0) rotate(-90)">EV</text>
<line x1="239.80" y1="221.80" x2="232.50" y2="221.80" stroke="#111" stroke-width="1.15" />
<path d="M233.4,220.0 L229.7,221.8 L233.4,223.6 Z" fill="#111"/>
<path d="M412.70,104.00 L412.70,81.00 A23.0,23.0 0 1 1 408.39,126.59 Z" fill="#141414" stroke="none" stroke-width="0" stroke-linejoin="round"/>
<path d="M412.70,104.00 L408.39,126.59 A23.0,23.0 0 0 1 389.88,101.12 Z" fill="#cc0f2b" stroke="none" stroke-width="0" stroke-linejoin="round"/>
<path d="M412.70,104.00 L389.88,101.12 A23.0,23.0 0 0 1 412.70,81.00 Z" fill="#f49300" stroke="none" stroke-width="0" stroke-linejoin="round"/>
<circle cx="412.70" cy="104.00" r="23.00" fill="none" stroke="#111" stroke-width="0.9"/>
<text x="403.80" y="95.20" font-size="6.4" text-anchor="middle" fill="#fbe2b0" >23%</text>
<text x="401.40" y="113.30" font-size="6.4" text-anchor="middle" fill="#ffdfe4" >24%</text>
<text x="403.00" y="77.30" font-size="6.58" text-anchor="start" fill="#222" stroke="#222" stroke-width="0.16" textLength="13.90" lengthAdjust="spacingAndGlyphs" >MAF</text>
<line x1="422.50" y1="78.00" x2="422.50" y2="71.91" stroke="#111" stroke-width="1.15" />
<path d="M420.75,72.90 L422.50,69.60 L424.25,72.90 Z" fill="#111"/>
<text x="394.50" y="136.40" font-size="7.42" text-anchor="start" fill="#222" stroke="#222" stroke-width="0.16" textLength="36.50" lengthAdjust="spacingAndGlyphs" >Total = 805</text>
<path d="M466.40,112.50 L466.40,96.50 A16.0,16.0 0 1 1 451.18,107.56 Z" fill="#141414" stroke="none" stroke-width="0" stroke-linejoin="round"/>
<path d="M466.40,112.50 L451.18,107.56 A16.0,16.0 0 0 1 458.64,98.51 Z" fill="#cc0f2b" stroke="none" stroke-width="0" stroke-linejoin="round"/>
<path d="M466.40,112.50 L458.64,98.51 A16.0,16.0 0 0 1 466.40,96.50 Z" fill="#f49300" stroke="none" stroke-width="0" stroke-linejoin="round"/>
<circle cx="466.40" cy="112.50" r="16.00" fill="none" stroke="#111" stroke-width="0.9"/>
<text x="457.90" y="111.20" font-size="6.2" text-anchor="middle" fill="#fff" >12%</text>
<text x="469.40" y="104.80" font-size="6.2" text-anchor="middle" fill="#888" >8%</text>
<text x="461.80" y="94.20" font-size="7.2" text-anchor="start" fill="#222" stroke="#222" stroke-width="0.16" >EV</text>
<line x1="473.50" y1="95.20" x2="473.50" y2="89.21" stroke="#111" stroke-width="1.15" />
<path d="M471.75,90.20 L473.50,86.90 L475.25,90.20 Z" fill="#111"/>
<text x="448.60" y="136.30" font-size="7.28" text-anchor="start" fill="#222" stroke="#222" stroke-width="0.16" textLength="35.80" lengthAdjust="spacingAndGlyphs" >Total = 449</text>
<circle cx="391.80" cy="240.20" r="2.40" fill="#141414" stroke="#222" stroke-width="0.9"/>
<text x="396.00" y="242.80" font-size="6.99" text-anchor="start" fill="#222" stroke="#222" stroke-width="0.16" textLength="75.00" lengthAdjust="spacingAndGlyphs" >MAF associated regions</text>
<circle cx="391.80" cy="251.20" r="2.40" fill="#c00f2e" stroke="#222" stroke-width="0.9"/>
<text x="396.00" y="253.80" font-size="6.96" text-anchor="start" fill="#222" stroke="#222" stroke-width="0.16" textLength="77.80" lengthAdjust="spacingAndGlyphs" >MAF activated promoters</text>
<circle cx="391.80" cy="262.70" r="2.40" fill="#f39a12" stroke="#222" stroke-width="0.9"/>
<text x="396.00" y="265.30" font-size="6.94" text-anchor="start" fill="#222" stroke="#222" stroke-width="0.16" textLength="78.70" lengthAdjust="spacingAndGlyphs" >MAF activated enhancers</text>
<text x="166.00" y="323.20" font-size="9.47" text-anchor="start" fill="#222" stroke="#222" stroke-width="0.16" textLength="80.00" lengthAdjust="spacingAndGlyphs" >Accessibility profile</text>
<line x1="48.00" y1="328.00" x2="363.50" y2="328.00" stroke="#333" stroke-width="1.4" />
<text x="115.80" y="344.00" font-size="6.54" text-anchor="start" fill="#222" stroke="#222" stroke-width="0.16" textLength="20.70" lengthAdjust="spacingAndGlyphs" >Overall</text>
<text x="263.00" y="344.00" font-size="7.05" text-anchor="start" fill="#222" stroke="#222" stroke-width="0.16" textLength="76.00" lengthAdjust="spacingAndGlyphs" >MAF-associated regions</text>
<polyline points="48.50,398.60 49.40,398.35 50.30,398.06 51.20,397.75 52.10,397.40 53.00,397.02 53.90,396.60 54.80,396.15 55.70,395.65 56.60,395.11 57.50,394.53 58.40,393.91 59.30,393.24 60.20,392.53 61.10,391.78 62.00,390.99 62.90,390.16 63.80,389.29 64.70,388.39 65.60,387.47 66.50,386.52 67.40,385.55 68.30,384.56 69.20,383.57 70.10,382.58 71.00,381.59 71.90,380.62 72.80,379.67 73.70,378.75 74.60,377.87 75.50,377.03 76.40,376.25 77.30,375.52 78.20,374.87 79.10,374.28 80.00,373.78 80.90,373.36 81.80,373.03 82.70,372.79 83.60,372.65 84.50,372.60 85.40,372.65 86.30,372.79 87.20,373.03 88.10,373.36 89.00,373.78 89.90,374.28 90.80,374.86 91.70,375.51 92.60,376.22 93.50,377.00 94.40,377.82 95.30,378.70 96.20,379.60 97.10,380.53 98.00,381.49 98.90,382.45 99.80,383.43 100.70,384.39 101.60,385.35 102.50,386.30 103.40,387.22 104.30,388.12 105.20,388.99 106.10,389.83 107.00,390.63 107.90,391.39 108.80,392.11 109.70,392.79 110.60,393.43 111.50,394.02 112.40,394.57 113.30,395.08 114.20,395.55 115.10,395.97 116.00,396.36 116.90,396.72 117.80,397.03 118.70,397.32 119.60,397.57 120.50,397.80" fill="none" stroke="#273f6a" stroke-width="1.3" stroke-linejoin="round"/>
<rect x="48.50" y="347.5" width="72.00" height="64.0" fill="none" stroke="#111" stroke-width="1.15"/>
<line x1="45.10" y1="355.60" x2="48.50" y2="355.60" stroke="#111" stroke-width="0.9" />
<line x1="45.10" y1="371.40" x2="48.50" y2="371.40" stroke="#111" stroke-width="0.9" />
<line x1="45.10" y1="387.30" x2="48.50" y2="387.30" stroke="#111" stroke-width="0.9" />
<line x1="45.10" y1="403.00" x2="48.50" y2="403.00" stroke="#111" stroke-width="0.9" />
<text x="41.50" y="357.90" font-size="6.8" text-anchor="end" fill="#222" stroke="#222" stroke-width="0.16" >55</text>
<text x="41.50" y="373.70" font-size="6.8" text-anchor="end" fill="#222" stroke="#222" stroke-width="0.16" >45</text>
<text x="41.50" y="389.60" font-size="6.8" text-anchor="end" fill="#222" stroke="#222" stroke-width="0.16" >35</text>
<text x="41.50" y="405.30" font-size="6.8" text-anchor="end" fill="#222" stroke="#222" stroke-width="0.16" >25</text>
<line x1="84.50" y1="411.00" x2="84.50" y2="413.60" stroke="#111" stroke-width="0.9" />
<text x="55.30" y="424.60" font-size="7.0" text-anchor="middle" fill="#222" stroke="#222" stroke-width="0.16" >−1.0</text>
<text x="84.50" y="424.60" font-size="7.0" text-anchor="middle" fill="#222" stroke="#222" stroke-width="0.16" >TSS</text>
<text x="113.70" y="424.60" font-size="7.0" text-anchor="middle" fill="#222" stroke="#222" stroke-width="0.16" >1.0Kb</text>
<text x="0" y="0" font-size="9.2" fill="#222" stroke="#222" stroke-width="0.22" text-anchor="middle" textLength="7.50" lengthAdjust="spacingAndGlyphs" transform="translate(84.50,435.90)">EV</text>
<polyline points="128.50,401.40 129.39,401.21 130.28,401.00 131.17,400.77 132.06,400.52 132.96,400.23 133.85,399.92 134.74,399.59 135.63,399.22 136.52,398.82 137.41,398.38 138.30,397.92 139.19,397.42 140.09,396.90 140.98,396.34 141.87,395.75 142.76,395.13 143.65,394.48 144.54,393.81 145.43,393.12 146.32,392.41 147.22,391.69 148.11,390.95 149.00,390.21 149.89,389.47 150.78,388.73 151.67,388.01 152.56,387.30 153.46,386.61 154.35,385.95 155.24,385.32 156.13,384.73 157.02,384.19 157.91,383.70 158.80,383.26 159.69,382.88 160.59,382.57 161.48,382.32 162.37,382.14 163.26,382.04 164.15,382.00 165.04,382.04 165.93,382.14 166.82,382.32 167.72,382.57 168.61,382.88 169.50,383.26 170.39,383.69 171.28,384.18 172.17,384.72 173.06,385.30 173.95,385.92 174.84,386.58 175.74,387.26 176.63,387.96 177.52,388.68 178.41,389.41 179.30,390.14 180.19,390.87 181.08,391.59 181.98,392.30 182.87,393.00 183.76,393.68 184.65,394.33 185.54,394.96 186.43,395.57 187.32,396.14 188.21,396.69 189.11,397.20 190.00,397.68 190.89,398.13 191.78,398.55 192.67,398.93 193.56,399.29 194.45,399.61 195.34,399.90 196.24,400.17 197.13,400.41 198.02,400.63 198.91,400.83 199.80,401.00" fill="none" stroke="#273f6a" stroke-width="1.3" stroke-linejoin="round"/>
<rect x="128.50" y="347.5" width="71.30" height="64.0" fill="none" stroke="#111" stroke-width="1.15"/>
<line x1="125.10" y1="355.60" x2="128.50" y2="355.60" stroke="#111" stroke-width="0.9" />
<line x1="125.10" y1="371.40" x2="128.50" y2="371.40" stroke="#111" stroke-width="0.9" />
<line x1="125.10" y1="387.30" x2="128.50" y2="387.30" stroke="#111" stroke-width="0.9" />
<line x1="125.10" y1="403.00" x2="128.50" y2="403.00" stroke="#111" stroke-width="0.9" />
<line x1="164.15" y1="411.00" x2="164.15" y2="413.60" stroke="#111" stroke-width="0.9" />
<text x="135.30" y="424.60" font-size="7.0" text-anchor="middle" fill="#222" stroke="#222" stroke-width="0.16" >−1.0</text>
<text x="164.15" y="424.60" font-size="7.0" text-anchor="middle" fill="#222" stroke="#222" stroke-width="0.16" >TSS</text>
<text x="193.00" y="424.60" font-size="7.0" text-anchor="middle" fill="#222" stroke="#222" stroke-width="0.16" >1.0Kb</text>
<text x="0" y="0" font-size="9.2" fill="#222" stroke="#222" stroke-width="0.22" text-anchor="middle" textLength="13.80" lengthAdjust="spacingAndGlyphs" transform="translate(164.15,435.90)">MAF</text>
<polyline points="223.50,401.20 224.39,400.98 225.28,400.75 226.16,400.50 227.05,400.22 227.94,399.93 228.82,399.62 229.71,399.28 230.60,398.93 231.49,398.55 232.38,398.16 233.26,397.74 234.15,397.30 235.04,396.85 235.93,396.37 236.81,395.87 237.70,395.34 238.59,394.79 239.47,394.21 240.36,393.58 241.25,392.90 242.14,392.16 243.03,391.33 243.91,390.40 244.80,389.35 245.69,388.14 246.57,386.76 247.46,385.18 248.35,383.40 249.24,381.41 250.12,379.23 251.01,376.88 251.90,374.42 252.79,371.91 253.68,369.43 254.56,367.10 255.45,365.00 256.34,363.24 257.23,361.91 258.11,361.08 259.00,360.80 259.89,361.08 260.77,361.91 261.66,363.24 262.55,365.00 263.44,367.10 264.32,369.44 265.21,371.92 266.10,374.43 266.99,376.90 267.88,379.25 268.76,381.44 269.65,383.43 270.54,385.22 271.43,386.80 272.31,388.19 273.20,389.40 274.09,390.46 274.98,391.40 275.86,392.23 276.75,392.98 277.64,393.66 278.52,394.30 279.41,394.89 280.30,395.45 281.19,395.98 282.07,396.48 282.96,396.97 283.85,397.43 284.74,397.87 285.62,398.30 286.51,398.70 287.40,399.08 288.29,399.44 289.18,399.78 290.06,400.10 290.95,400.40 291.84,400.68 292.73,400.94 293.61,401.18 294.50,401.40" fill="none" stroke="#b5232f" stroke-width="1.3" stroke-linejoin="round"/>
<rect x="223.50" y="347.5" width="71.00" height="64.0" fill="none" stroke="#111" stroke-width="1.15"/>
<line x1="220.10" y1="347.60" x2="223.50" y2="347.60" stroke="#111" stroke-width="0.9" />
<line x1="220.10" y1="366.20" x2="223.50" y2="366.20" stroke="#111" stroke-width="0.9" />
<line x1="220.10" y1="384.60" x2="223.50" y2="384.60" stroke="#111" stroke-width="0.9" />
<line x1="220.10" y1="402.50" x2="223.50" y2="402.50" stroke="#111" stroke-width="0.9" />
<text x="217.10" y="349.90" font-size="6.8" text-anchor="end" fill="#222" stroke="#222" stroke-width="0.16" >55</text>
<text x="217.10" y="368.50" font-size="6.8" text-anchor="end" fill="#222" stroke="#222" stroke-width="0.16" >45</text>
<text x="217.10" y="386.90" font-size="6.8" text-anchor="end" fill="#222" stroke="#222" stroke-width="0.16" >35</text>
<text x="217.10" y="404.80" font-size="6.8" text-anchor="end" fill="#222" stroke="#222" stroke-width="0.16" >25</text>
<line x1="259.00" y1="411.00" x2="259.00" y2="413.60" stroke="#111" stroke-width="0.9" />
<text x="230.30" y="424.60" font-size="7.0" text-anchor="middle" fill="#222" stroke="#222" stroke-width="0.16" >−1.0</text>
<text x="259.00" y="424.60" font-size="7.0" text-anchor="middle" fill="#222" stroke="#222" stroke-width="0.16" >TSS</text>
<text x="287.70" y="424.60" font-size="7.0" text-anchor="middle" fill="#222" stroke="#222" stroke-width="0.16" >1.0Kb</text>
<text x="0" y="0" font-size="9.2" fill="#222" stroke="#222" stroke-width="0.22" text-anchor="middle" textLength="7.50" lengthAdjust="spacingAndGlyphs" transform="translate(259.00,435.90)">EV</text>
<polyline points="303.50,403.00 304.39,402.72 305.27,402.41 306.16,402.08 307.05,401.73 307.94,401.35 308.82,400.94 309.71,400.51 310.60,400.05 311.49,399.57 312.38,399.06 313.26,398.53 314.15,397.97 315.04,397.38 315.93,396.77 316.81,396.13 317.70,395.46 318.59,394.76 319.48,394.01 320.36,393.22 321.25,392.35 322.14,391.41 323.02,390.37 323.91,389.19 324.80,387.86 325.69,386.33 326.57,384.59 327.46,382.61 328.35,380.36 329.24,377.86 330.12,375.12 331.01,372.17 331.90,369.07 332.79,365.92 333.68,362.82 334.56,359.89 335.45,357.26 336.34,355.06 337.23,353.39 338.11,352.35 339.00,352.00 339.89,352.35 340.77,353.39 341.66,355.05 342.55,357.25 343.44,359.88 344.32,362.80 345.21,365.89 346.10,369.03 346.99,372.11 347.88,375.05 348.76,377.78 349.65,380.26 350.54,382.49 351.43,384.46 352.31,386.18 353.20,387.69 354.09,389.00 354.98,390.16 355.86,391.19 356.75,392.12 357.64,392.96 358.52,393.74 359.41,394.47 360.30,395.15 361.19,395.81 362.07,396.43 362.96,397.02 363.85,397.59 364.74,398.13 365.62,398.65 366.51,399.14 367.40,399.60 368.29,400.04 369.18,400.45 370.06,400.84 370.95,401.20 371.84,401.53 372.73,401.85 373.61,402.13 374.50,402.40" fill="none" stroke="#b5232f" stroke-width="1.3" stroke-linejoin="round"/>
<rect x="303.50" y="347.5" width="71.00" height="64.0" fill="none" stroke="#111" stroke-width="1.15"/>
<line x1="300.10" y1="347.60" x2="303.50" y2="347.60" stroke="#111" stroke-width="0.9" />
<line x1="300.10" y1="366.20" x2="303.50" y2="366.20" stroke="#111" stroke-width="0.9" />
<line x1="300.10" y1="384.60" x2="303.50" y2="384.60" stroke="#111" stroke-width="0.9" />
<line x1="300.10" y1="402.50" x2="303.50" y2="402.50" stroke="#111" stroke-width="0.9" />
<line x1="339.00" y1="411.00" x2="339.00" y2="413.60" stroke="#111" stroke-width="0.9" />
<text x="310.30" y="424.60" font-size="7.0" text-anchor="middle" fill="#222" stroke="#222" stroke-width="0.16" >−1.0</text>
<text x="339.00" y="424.60" font-size="7.0" text-anchor="middle" fill="#222" stroke="#222" stroke-width="0.16" >TSS</text>
<text x="367.70" y="424.60" font-size="7.0" text-anchor="middle" fill="#222" stroke="#222" stroke-width="0.16" >1.0Kb</text>
<text x="0" y="0" font-size="9.2" fill="#222" stroke="#222" stroke-width="0.22" text-anchor="middle" textLength="13.80" lengthAdjust="spacingAndGlyphs" transform="translate(339.00,435.90)">MAF</text>
<text x="0" y="0" font-size="9.0" fill="#222" stroke="#222" stroke-width="0.3" text-anchor="start" textLength="31.80" lengthAdjust="spacingAndGlyphs" transform="translate(15.70,394.90) rotate(-90)">Normalized</text>
<text x="0" y="0" font-size="9.0" fill="#222" stroke="#222" stroke-width="0.3" text-anchor="start" textLength="33.30" lengthAdjust="spacingAndGlyphs" transform="translate(26.70,396.10) rotate(-90)">ATAC signal</text>
<rect x="429.80" y="318.70" width="16.90" height="36.00" fill="#49546a" />
<rect x="429.80" y="354.70" width="16.90" height="65.00" fill="#c9c8cd" />
<rect x="455.00" y="318.70" width="16.70" height="51.50" fill="#49546a" />
<rect x="455.00" y="370.20" width="16.70" height="49.50" fill="#c9c8cd" />
<line x1="425.20" y1="316.50" x2="425.20" y2="420.30" stroke="#111" stroke-width="1.35" />
<line x1="424.60" y1="419.70" x2="475.60" y2="419.70" stroke="#111" stroke-width="1.35" />
<line x1="422.00" y1="419.70" x2="425.20" y2="419.70" stroke="#111" stroke-width="0.9" />
<text x="418.70" y="422.30" font-size="7.3" text-anchor="end" fill="#222" stroke="#222" stroke-width="0.16" >0</text>
<line x1="422.00" y1="399.50" x2="425.20" y2="399.50" stroke="#111" stroke-width="0.9" />
<text x="418.70" y="402.10" font-size="7.3" text-anchor="end" fill="#222" stroke="#222" stroke-width="0.16" >20</text>
<line x1="422.00" y1="379.30" x2="425.20" y2="379.30" stroke="#111" stroke-width="0.9" />
<text x="418.70" y="381.90" font-size="7.3" text-anchor="end" fill="#222" stroke="#222" stroke-width="0.16" >40</text>
<line x1="422.00" y1="359.10" x2="425.20" y2="359.10" stroke="#111" stroke-width="0.9" />
<text x="418.70" y="361.70" font-size="7.3" text-anchor="end" fill="#222" stroke="#222" stroke-width="0.16" >60</text>
<line x1="422.00" y1="338.90" x2="425.20" y2="338.90" stroke="#111" stroke-width="0.9" />
<text x="418.70" y="341.50" font-size="7.3" text-anchor="end" fill="#222" stroke="#222" stroke-width="0.16" >80</text>
<line x1="422.00" y1="318.70" x2="425.20" y2="318.70" stroke="#111" stroke-width="0.9" />
<text x="418.70" y="321.30" font-size="7.3" text-anchor="end" fill="#222" stroke="#222" stroke-width="0.16" >100</text>
<line x1="437.90" y1="419.70" x2="437.90" y2="422.50" stroke="#111" stroke-width="0.9" />
<line x1="463.50" y1="419.70" x2="463.50" y2="422.50" stroke="#111" stroke-width="0.9" />
<text x="427.50" y="314.90" font-size="7.6" text-anchor="start" fill="#222" stroke="#222" stroke-width="0.16" font-style="italic" ><tspan>P = 1.5x10</tspan><tspan font-size="5.4" dy="-2.6">-</tspan><tspan dy="2.6">27</tspan></text>
<text x="0" y="0" font-size="9.4" fill="#222" stroke="#222" stroke-width="0.22" text-anchor="start" textLength="37.60" lengthAdjust="spacingAndGlyphs" transform="translate(399.90,387.80) rotate(-90)">Percent total</text>
<rect x="480.20" y="357.90" width="4.50" height="4.50" fill="#49546a" />
<rect x="480.20" y="365.50" width="4.50" height="4.50" fill="#c9c8cd" />
<text x="486.40" y="363.00" font-size="6.81" text-anchor="start" fill="#222" stroke="#222" stroke-width="0.16" textLength="21.20" lengthAdjust="spacingAndGlyphs" >Closed</text>
<text x="486.40" y="370.60" font-size="7.03" text-anchor="start" fill="#222" stroke="#222" stroke-width="0.16" textLength="25.00" lengthAdjust="spacingAndGlyphs" >Opened</text>
<text x="437.40" y="431.60" font-size="7" text-anchor="middle" fill="#222" stroke="#222" stroke-width="0.16" >MAF</text>
<text x="437.40" y="438.40" font-size="7" text-anchor="middle" fill="#222" stroke="#222" stroke-width="0.16" >associated</text>
<text x="437.40" y="445.40" font-size="7" text-anchor="middle" fill="#222" stroke="#222" stroke-width="0.16" >regions</text>
<text x="463.50" y="431.60" font-size="7" text-anchor="middle" fill="#222" stroke="#222" stroke-width="0.16" >Overall</text>
<text x="53.80" y="512.30" font-size="6.97" text-anchor="start" fill="#222" stroke="#222" stroke-width="0.16" textLength="74.80" lengthAdjust="spacingAndGlyphs" >Accessibility MAF vs EV</text>
<line x1="31.90" y1="517.40" x2="150.00" y2="517.40" stroke="#1a1a1a" stroke-width="1.25" />
<text x="86.00" y="531.80" font-size="7.5" text-anchor="middle" fill="#222" stroke="#222" stroke-width="0.16" >MAF</text>
<text x="54.80" y="541.00" font-size="7.0" text-anchor="start" fill="#222" stroke="#222" stroke-width="0.16" textLength="61.50" lengthAdjust="spacingAndGlyphs" >activated promoters</text>
<path d="M86.20,574.60 L86.20,546.70 A27.9,27.9 0 1 1 80.97,602.01 Z" fill="#c61016" stroke="#1a1a1a" stroke-width="1.2" stroke-linejoin="round"/>
<path d="M86.20,574.60 L80.97,602.01 A27.9,27.9 0 0 1 60.26,584.87 Z" fill="#8c8c8c" stroke="#1a1a1a" stroke-width="1.2" stroke-linejoin="round"/>
<path d="M86.20,574.60 L60.26,584.87 A27.9,27.9 0 0 1 86.20,546.70 Z" fill="#ffffff" stroke="#1a1a1a" stroke-width="1.2" stroke-linejoin="round"/>
<defs><linearGradient id="lg1" x1="0" y1="0" x2="1" y2="0"><stop offset="0" stop-color="#9a9a9a"/><stop offset="1" stop-color="#111"/></linearGradient></defs>
<ellipse cx="99.6" cy="572.7" rx="15.9" ry="11.2" fill="none" stroke="#1a1a1a" stroke-width="1.2"/>
<text x="100.00" y="575.40" font-size="7.3" text-anchor="middle" fill="#fde4e4" >53%</text>
<text x="74.60" y="589.20" font-size="7.5" text-anchor="middle" fill="#eee" >16%</text>
<path d="M115.5,572.4 L204.8,593.2" stroke="url(#lg1)" stroke-width="1.1" fill="none"/>
<path d="M204.6,588.6 L209.5,594.1 L201.9,597.7 Z" fill="#111"/>
<rect x="116.50" y="589.40" width="5.20" height="5.20" fill="#c61016" stroke="#1a1a1a" stroke-width="0.9"/>
<rect x="116.50" y="597.00" width="5.20" height="5.20" fill="#8c8c8c" stroke="#1a1a1a" stroke-width="0.9"/>
<text x="125.00" y="594.70" font-size="7.03" text-anchor="start" fill="#222" stroke="#222" stroke-width="0.16" textLength="25.00" lengthAdjust="spacingAndGlyphs" >Opened</text>
<text x="125.00" y="602.30" font-size="7.2" text-anchor="start" fill="#222" stroke="#222" stroke-width="0.16" textLength="22.40" lengthAdjust="spacingAndGlyphs" >Closed</text>
<text x="68.50" y="611.80" font-size="7.01" text-anchor="start" fill="#222" stroke="#222" stroke-width="0.16" textLength="34.50" lengthAdjust="spacingAndGlyphs" >Total = 361</text>
<text x="85.20" y="630.40" font-size="7.5" text-anchor="middle" fill="#222" stroke="#222" stroke-width="0.16" >MAF</text>
<text x="53.80" y="638.90" font-size="7.01" text-anchor="start" fill="#222" stroke="#222" stroke-width="0.16" textLength="62.70" lengthAdjust="spacingAndGlyphs" >activated enhancers</text>
<path d="M85.90,670.50 L85.90,642.60 A27.9,27.9 0 1 1 82.40,698.18 Z" fill="#ef7c0c" stroke="#1a1a1a" stroke-width="1.2" stroke-linejoin="round"/>
<path d="M85.90,670.50 L82.40,698.18 A27.9,27.9 0 0 1 68.12,692.00 Z" fill="#8c8c8c" stroke="#1a1a1a" stroke-width="1.2" stroke-linejoin="round"/>
<path d="M85.90,670.50 L68.12,692.00 A27.9,27.9 0 0 1 85.90,642.60 Z" fill="#ffffff" stroke="#1a1a1a" stroke-width="1.2" stroke-linejoin="round"/>
<ellipse cx="99.6" cy="670.4" rx="15.4" ry="11.5" fill="none" stroke="#1a1a1a" stroke-width="1.2"/>
<text x="99.90" y="673.10" font-size="7.3" text-anchor="middle" fill="#fde6d2" >52%</text>
<text x="77.00" y="691.50" font-size="7.2" text-anchor="middle" fill="#ddd" >9%</text>
<path d="M115.0,670.4 L204.8,691.0" stroke="url(#lg1)" stroke-width="1.1" fill="none"/>
<path d="M204.6,686.4 L209.5,691.9 L201.9,695.5 Z" fill="#111"/>
<rect x="116.50" y="684.70" width="5.20" height="5.20" fill="#ef7c0c" stroke="#1a1a1a" stroke-width="0.9"/>
<rect x="116.50" y="692.40" width="5.20" height="5.20" fill="#8c8c8c" stroke="#1a1a1a" stroke-width="0.9"/>
<text x="125.00" y="690.00" font-size="7.03" text-anchor="start" fill="#222" stroke="#222" stroke-width="0.16" textLength="25.00" lengthAdjust="spacingAndGlyphs" >Opened</text>
<text x="125.00" y="697.70" font-size="7.2" text-anchor="start" fill="#222" stroke="#222" stroke-width="0.16" textLength="22.40" lengthAdjust="spacingAndGlyphs" >Closed</text>
<text x="67.90" y="708.20" font-size="7.13" text-anchor="start" fill="#222" stroke="#222" stroke-width="0.16" textLength="35.10" lengthAdjust="spacingAndGlyphs" >Total = 355</text>
<rect x="248.50" y="527.50" width="22.70" height="122.50" fill="#c8101a" />
<rect x="248.50" y="650.00" width="22.70" height="118.50" fill="#ea7a1c" />
<line x1="255.20" y1="527.50" x2="255.20" y2="650.00" stroke="rgba(120,0,0,0.12)" stroke-width="0.5" />
<rect x="271.20" y="527.50" width="11.00" height="1.35" fill="#dc222a" />
<rect x="271.20" y="528.80" width="11.00" height="0.70" fill="#dc222a" />
<rect x="271.20" y="529.45" width="11.00" height="2.00" fill="#dc222a" />
<rect x="271.20" y="531.40" width="11.00" height="0.70" fill="#dd262e" />
<rect x="271.20" y="532.05" width="11.00" height="0.70" fill="#de2d35" />
<rect x="271.20" y="532.70" width="11.00" height="1.35" fill="#dc222a" />
<rect x="271.20" y="534.00" width="11.00" height="2.00" fill="#e14047" />
<rect x="271.20" y="535.95" width="11.00" height="0.70" fill="#e1434a" />
<rect x="271.20" y="536.60" width="11.00" height="1.35" fill="#e03b42" />
<rect x="271.20" y="537.90" width="11.00" height="2.00" fill="#dd2830" />
<rect x="271.20" y="539.85" width="11.00" height="1.35" fill="#de3037" />
<rect x="271.20" y="541.15" width="11.00" height="0.70" fill="#e35056" />
<rect x="271.20" y="541.80" width="11.00" height="0.70" fill="#e4585f" />
<rect x="271.20" y="542.45" width="11.00" height="2.00" fill="#e4565c" />
<rect x="271.20" y="544.40" width="11.00" height="2.00" fill="#e35056" />
<rect x="271.20" y="546.35" width="11.00" height="2.00" fill="#e4555b" />
<rect x="271.20" y="548.30" width="11.00" height="1.35" fill="#e7686d" />
<rect x="271.20" y="549.60" width="11.00" height="0.70" fill="#e76b70" />
<rect x="271.20" y="550.25" width="11.00" height="1.35" fill="#e35258" />
<rect x="271.20" y="551.55" width="11.00" height="2.00" fill="#e35258" />
<rect x="271.20" y="553.50" width="11.00" height="0.70" fill="#e24b52" />
<rect x="271.20" y="554.15" width="11.00" height="0.70" fill="#e87176" />
<rect x="271.20" y="554.80" width="11.00" height="0.70" fill="#e55c62" />
<rect x="271.20" y="555.45" width="11.00" height="0.70" fill="#e7666b" />
<rect x="271.20" y="556.10" width="11.00" height="0.70" fill="#e4545a" />
<rect x="271.20" y="556.75" width="11.00" height="0.70" fill="#e6646a" />
<rect x="271.20" y="557.40" width="11.00" height="0.70" fill="#e55d63" />
<rect x="271.20" y="558.05" width="11.00" height="0.70" fill="#e66369" />
<rect x="271.20" y="558.70" width="11.00" height="0.70" fill="#e66369" />
<rect x="271.20" y="559.35" width="11.00" height="0.70" fill="#e7676d" />
<rect x="271.20" y="560.00" width="11.00" height="2.00" fill="#e4575d" />
<rect x="271.20" y="561.95" width="11.00" height="0.70" fill="#e6646a" />
<rect x="271.20" y="562.60" width="11.00" height="2.00" fill="#e97378" />
<rect x="271.20" y="564.55" width="11.00" height="2.00" fill="#e86e73" />
<rect x="271.20" y="566.50" width="11.00" height="0.70" fill="#e66167" />
<rect x="271.20" y="567.15" width="11.00" height="2.00" fill="#e6656b" />
<rect x="271.20" y="569.10" width="11.00" height="2.00" fill="#e76a6f" />
<rect x="271.20" y="571.05" width="11.00" height="2.00" fill="#e97378" />
<rect x="271.20" y="573.00" width="11.00" height="0.70" fill="#e9757a" />
<rect x="271.20" y="573.65" width="11.00" height="0.70" fill="#ed9094" />
<rect x="271.20" y="574.30" width="11.00" height="0.70" fill="#eb8186" />
<rect x="271.20" y="574.95" width="11.00" height="1.35" fill="#e9767c" />
<rect x="271.20" y="576.25" width="11.00" height="2.00" fill="#e87176" />
<rect x="271.20" y="578.20" width="11.00" height="1.35" fill="#e9757a" />
<rect x="271.20" y="579.50" width="11.00" height="1.35" fill="#ec8a8f" />
<rect x="271.20" y="580.80" width="11.00" height="1.35" fill="#ea7d82" />
<rect x="271.20" y="582.10" width="11.00" height="0.70" fill="#e86f74" />
<rect x="271.20" y="582.75" width="11.00" height="0.70" fill="#ec8b8f" />
<rect x="271.20" y="583.40" width="11.00" height="0.70" fill="#ef999d" />
<rect x="271.20" y="584.05" width="11.00" height="0.70" fill="#e87176" />
<rect x="271.20" y="584.70" width="11.00" height="2.00" fill="#eb8388" />
<rect x="271.20" y="586.65" width="11.00" height="0.70" fill="#eb8084" />
<rect x="271.20" y="587.30" width="11.00" height="0.70" fill="#eb8185" />
<rect x="271.20" y="587.95" width="11.00" height="1.35" fill="#eb868a" />
<rect x="271.20" y="589.25" width="11.00" height="0.70" fill="#ee9498" />
<rect x="271.20" y="589.90" width="11.00" height="2.00" fill="#ef9a9e" />
<rect x="271.20" y="591.85" width="11.00" height="0.70" fill="#ee9498" />
<rect x="271.20" y="592.50" width="11.00" height="0.70" fill="#ec8a8e" />
<rect x="271.20" y="593.15" width="11.00" height="0.70" fill="#ef9da1" />
<rect x="271.20" y="593.80" width="11.00" height="0.70" fill="#ed9195" />
<rect x="271.20" y="594.45" width="11.00" height="0.70" fill="#ef9ea2" />
<rect x="271.20" y="595.10" width="11.00" height="2.00" fill="#f2afb2" />
<rect x="271.20" y="597.05" width="11.00" height="0.70" fill="#f0a4a8" />
<rect x="271.20" y="597.70" width="11.00" height="0.70" fill="#ec878b" />
<rect x="271.20" y="598.35" width="11.00" height="0.70" fill="#ee9398" />
<rect x="271.20" y="599.00" width="11.00" height="1.35" fill="#f1a9ac" />
<rect x="271.20" y="600.30" width="11.00" height="2.00" fill="#eb8489" />
<rect x="271.20" y="602.25" width="11.00" height="2.00" fill="#f1acaf" />
<rect x="271.20" y="604.20" width="11.00" height="0.70" fill="#ee999d" />
<rect x="271.20" y="604.85" width="11.00" height="2.00" fill="#ed9296" />
<rect x="271.20" y="606.80" width="11.00" height="1.35" fill="#ec868b" />
<rect x="271.20" y="608.10" width="11.00" height="0.70" fill="#f0a1a4" />
<rect x="271.20" y="608.75" width="11.00" height="2.00" fill="#f1a9ad" />
<rect x="271.20" y="610.70" width="11.00" height="1.35" fill="#f4b9bc" />
<rect x="271.20" y="612.00" width="11.00" height="0.70" fill="#ee969a" />
<rect x="271.20" y="612.65" width="11.00" height="2.00" fill="#f0a1a4" />
<rect x="271.20" y="614.60" width="11.00" height="1.35" fill="#f2b0b4" />
<rect x="271.20" y="615.90" width="11.00" height="1.35" fill="#ed8e92" />
<rect x="271.20" y="617.20" width="11.00" height="2.00" fill="#f1abaf" />
<rect x="271.20" y="619.15" width="11.00" height="2.00" fill="#f4bec1" />
<rect x="271.20" y="621.10" width="11.00" height="0.70" fill="#f3b6b9" />
<rect x="271.20" y="621.75" width="11.00" height="1.35" fill="#f3b6b9" />
<rect x="271.20" y="623.05" width="11.00" height="0.70" fill="#f3b6b9" />
<rect x="271.20" y="623.70" width="11.00" height="0.70" fill="#f2aeb1" />
<rect x="271.20" y="624.35" width="11.00" height="0.70" fill="#f4bec1" />
<rect x="271.20" y="625.00" width="11.00" height="0.70" fill="#f2adb1" />
<rect x="271.20" y="625.65" width="11.00" height="2.00" fill="#f4bfc1" />
<rect x="271.20" y="627.60" width="11.00" height="0.70" fill="#f5c0c3" />
<rect x="271.20" y="628.25" width="11.00" height="2.00" fill="#f4bdc0" />
<rect x="271.20" y="630.20" width="11.00" height="0.70" fill="#f5c0c3" />
<rect x="271.20" y="630.85" width="11.00" height="1.35" fill="#f4bec1" />
<rect x="271.20" y="632.15" width="11.00" height="1.35" fill="#f7cdd0" />
<rect x="271.20" y="633.45" width="11.00" height="0.70" fill="#f3b7ba" />
<rect x="271.20" y="634.10" width="11.00" height="0.70" fill="#f6c6c9" />
<rect x="271.20" y="634.75" width="11.00" height="1.35" fill="#f6cacc" />
<rect x="271.20" y="636.05" width="11.00" height="0.70" fill="#f4bdc0" />
<rect x="271.20" y="636.70" width="11.00" height="0.70" fill="#f6cacc" />
<rect x="271.20" y="637.35" width="11.00" height="0.70" fill="#f4bdc0" />
<rect x="271.20" y="638.00" width="11.00" height="1.35" fill="#f8d6d8" />
<rect x="271.20" y="639.30" width="11.00" height="0.70" fill="#f8d5d7" />
<rect x="271.20" y="639.95" width="11.00" height="1.35" fill="#f6cbcd" />
<rect x="271.20" y="641.25" width="11.00" height="0.70" fill="#f3b8bb" />
<rect x="271.20" y="641.90" width="11.00" height="1.35" fill="#f6c8cb" />
<rect x="271.20" y="643.20" width="11.00" height="0.70" fill="#f8d6d8" />
<rect x="271.20" y="643.85" width="11.00" height="0.70" fill="#f5c2c4" />
<rect x="271.20" y="644.50" width="11.00" height="1.35" fill="#f5c3c5" />
<rect x="271.20" y="645.80" width="11.00" height="0.70" fill="#f8d4d7" />
<rect x="271.20" y="646.45" width="11.00" height="2.00" fill="#f8d6d8" />
<rect x="271.20" y="648.40" width="11.00" height="1.35" fill="#f8d6d8" />
<rect x="271.20" y="649.70" width="11.00" height="0.35" fill="#f8d6d8" />
<rect x="271.20" y="650.00" width="11.00" height="0.70" fill="#dc222a" />
<rect x="271.20" y="650.65" width="11.00" height="0.70" fill="#dc222a" />
<rect x="271.20" y="651.30" width="11.00" height="2.00" fill="#dc222a" />
<rect x="271.20" y="653.25" width="11.00" height="0.70" fill="#dc222a" />
<rect x="271.20" y="653.90" width="11.00" height="1.35" fill="#dc222a" />
<rect x="271.20" y="655.20" width="11.00" height="2.00" fill="#e03f46" />
<rect x="271.20" y="657.15" width="11.00" height="1.35" fill="#df373e" />
<rect x="271.20" y="658.45" width="11.00" height="0.70" fill="#e35157" />
<rect x="271.20" y="659.10" width="11.00" height="0.70" fill="#e7676c" />
<rect x="271.20" y="659.75" width="11.00" height="0.70" fill="#e34e55" />
<rect x="271.20" y="660.40" width="11.00" height="1.35" fill="#e65f65" />
<rect x="271.20" y="661.70" width="11.00" height="2.00" fill="#e55d63" />
<rect x="271.20" y="663.65" width="11.00" height="1.35" fill="#e55c62" />
<rect x="271.20" y="664.95" width="11.00" height="2.00" fill="#e24c52" />
<rect x="271.20" y="666.90" width="11.00" height="0.70" fill="#e34e55" />
<rect x="271.20" y="667.55" width="11.00" height="0.70" fill="#e86e73" />
<rect x="271.20" y="668.20" width="11.00" height="2.00" fill="#e1434a" />
<rect x="271.20" y="670.15" width="11.00" height="0.70" fill="#e86c71" />
<rect x="271.20" y="670.80" width="11.00" height="0.70" fill="#e35157" />
<rect x="271.20" y="671.45" width="11.00" height="0.70" fill="#e1444b" />
<rect x="271.20" y="672.10" width="11.00" height="1.35" fill="#e66268" />
<rect x="271.20" y="673.40" width="11.00" height="2.00" fill="#e2494f" />
<rect x="271.20" y="675.35" width="11.00" height="2.00" fill="#e76c71" />
<rect x="271.20" y="677.30" width="11.00" height="2.00" fill="#e4565c" />
<rect x="271.20" y="679.25" width="11.00" height="2.00" fill="#e55a60" />
<rect x="271.20" y="681.20" width="11.00" height="0.70" fill="#ea7e83" />
<rect x="271.20" y="681.85" width="11.00" height="0.70" fill="#e55d63" />
<rect x="271.20" y="682.50" width="11.00" height="0.70" fill="#e55960" />
<rect x="271.20" y="683.15" width="11.00" height="0.70" fill="#e87278" />
<rect x="271.20" y="683.80" width="11.00" height="0.70" fill="#ea7e83" />
<rect x="271.20" y="684.45" width="11.00" height="0.70" fill="#e76a70" />
<rect x="271.20" y="685.10" width="11.00" height="2.00" fill="#e24b52" />
<rect x="271.20" y="687.05" width="11.00" height="2.00" fill="#e86f74" />
<rect x="271.20" y="689.00" width="11.00" height="2.00" fill="#e86d73" />
<rect x="271.20" y="690.95" width="11.00" height="1.35" fill="#e9787d" />
<rect x="271.20" y="692.25" width="11.00" height="1.35" fill="#eb8287" />
<rect x="271.20" y="693.55" width="11.00" height="1.35" fill="#eb8488" />
<rect x="271.20" y="694.85" width="11.00" height="2.00" fill="#ea7e83" />
<rect x="271.20" y="696.80" width="11.00" height="0.70" fill="#ea7e83" />
<rect x="271.20" y="697.45" width="11.00" height="1.35" fill="#e9787d" />
<rect x="271.20" y="698.75" width="11.00" height="0.70" fill="#ed9195" />
<rect x="271.20" y="699.40" width="11.00" height="2.00" fill="#ea7d82" />
<rect x="271.20" y="701.35" width="11.00" height="2.00" fill="#eb8186" />
<rect x="271.20" y="703.30" width="11.00" height="0.70" fill="#ec868b" />
<rect x="271.20" y="703.95" width="11.00" height="1.35" fill="#ee9398" />
<rect x="271.20" y="705.25" width="11.00" height="2.00" fill="#ec878c" />
<rect x="271.20" y="707.20" width="11.00" height="1.35" fill="#ef9ca0" />
<rect x="271.20" y="708.50" width="11.00" height="1.35" fill="#ec888d" />
<rect x="271.20" y="709.80" width="11.00" height="1.35" fill="#ee9397" />
<rect x="271.20" y="711.10" width="11.00" height="1.35" fill="#ec898e" />
<rect x="271.20" y="712.40" width="11.00" height="2.00" fill="#ee969a" />
<rect x="271.20" y="714.35" width="11.00" height="0.70" fill="#ed8d92" />
<rect x="271.20" y="715.00" width="11.00" height="1.35" fill="#ee9498" />
<rect x="271.20" y="716.30" width="11.00" height="2.00" fill="#ed9195" />
<rect x="271.20" y="718.25" width="11.00" height="1.35" fill="#f0a1a5" />
<rect x="271.20" y="719.55" width="11.00" height="1.35" fill="#ef999d" />
<rect x="271.20" y="720.85" width="11.00" height="1.35" fill="#ec8c90" />
<rect x="271.20" y="722.15" width="11.00" height="2.00" fill="#ef9fa3" />
<rect x="271.20" y="724.10" width="11.00" height="0.70" fill="#f0a6a9" />
<rect x="271.20" y="724.75" width="11.00" height="1.35" fill="#ef9b9f" />
<rect x="271.20" y="726.05" width="11.00" height="2.00" fill="#f0a2a6" />
<rect x="271.20" y="728.00" width="11.00" height="0.70" fill="#f0a1a5" />
<rect x="271.20" y="728.65" width="11.00" height="0.70" fill="#f1a8ac" />
<rect x="271.20" y="729.30" width="11.00" height="0.70" fill="#f2b0b3" />
<rect x="271.20" y="729.95" width="11.00" height="0.70" fill="#f4bec1" />
<rect x="271.20" y="730.60" width="11.00" height="0.70" fill="#f1a7aa" />
<rect x="271.20" y="731.25" width="11.00" height="0.70" fill="#f2adb0" />
<rect x="271.20" y="731.90" width="11.00" height="2.00" fill="#ee979b" />
<rect x="271.20" y="733.85" width="11.00" height="2.00" fill="#ed8e93" />
<rect x="271.20" y="735.80" width="11.00" height="2.00" fill="#f0a4a8" />
<rect x="271.20" y="737.75" width="11.00" height="0.70" fill="#f4bfc1" />
<rect x="271.20" y="738.40" width="11.00" height="0.70" fill="#f6c9cc" />
<rect x="271.20" y="739.05" width="11.00" height="0.70" fill="#f2b2b5" />
<rect x="271.20" y="739.70" width="11.00" height="2.00" fill="#f5c5c8" />
<rect x="271.20" y="741.65" width="11.00" height="2.00" fill="#f3b9bc" />
<rect x="271.20" y="743.60" width="11.00" height="0.70" fill="#f8d6d8" />
<rect x="271.20" y="744.25" width="11.00" height="1.35" fill="#f3b5b8" />
<rect x="271.20" y="745.55" width="11.00" height="1.35" fill="#f3b3b6" />
<rect x="271.20" y="746.85" width="11.00" height="1.35" fill="#f0a5a9" />
<rect x="271.20" y="748.15" width="11.00" height="0.70" fill="#f4bcbf" />
<rect x="271.20" y="748.80" width="11.00" height="0.70" fill="#f3b7ba" />
<rect x="271.20" y="749.45" width="11.00" height="0.70" fill="#f2aeb1" />
<rect x="271.20" y="750.10" width="11.00" height="0.70" fill="#f4bcbf" />
<rect x="271.20" y="750.75" width="11.00" height="1.35" fill="#f2adb0" />
<rect x="271.20" y="752.05" width="11.00" height="0.70" fill="#f3b4b7" />
<rect x="271.20" y="752.70" width="11.00" height="2.00" fill="#f8d6d8" />
<rect x="271.20" y="754.65" width="11.00" height="0.70" fill="#f2b1b5" />
<rect x="271.20" y="755.30" width="11.00" height="0.70" fill="#f4babd" />
<rect x="271.20" y="755.95" width="11.00" height="2.00" fill="#f5c2c4" />
<rect x="271.20" y="757.90" width="11.00" height="1.35" fill="#f6c6c9" />
<rect x="271.20" y="759.20" width="11.00" height="0.70" fill="#f2b0b3" />
<rect x="271.20" y="759.85" width="11.00" height="2.00" fill="#f7ced0" />
<rect x="271.20" y="761.80" width="11.00" height="1.35" fill="#f8d5d7" />
<rect x="271.20" y="763.10" width="11.00" height="0.70" fill="#f8d4d6" />
<rect x="271.20" y="763.75" width="11.00" height="1.35" fill="#f5c3c5" />
<rect x="271.20" y="765.05" width="11.00" height="0.70" fill="#f8d6d8" />
<rect x="271.20" y="765.70" width="11.00" height="1.35" fill="#f7d1d3" />
<rect x="271.20" y="767.00" width="11.00" height="0.70" fill="#f8d6d8" />
<rect x="271.20" y="767.65" width="11.00" height="0.70" fill="#f7d2d4" />
<rect x="271.20" y="768.30" width="11.00" height="0.25" fill="#f8d6d8" />
<rect x="282.20" y="527.50" width="11.30" height="1.35" fill="#b0bcdd" />
<rect x="282.20" y="528.80" width="11.30" height="2.00" fill="#7d90c4" />
<rect x="282.20" y="530.75" width="11.30" height="1.35" fill="#eaeef9" />
<rect x="282.20" y="532.05" width="11.30" height="1.35" fill="#ecf1fa" />
<rect x="282.20" y="533.35" width="11.30" height="1.35" fill="#7287bf" />
<rect x="282.20" y="534.65" width="11.30" height="2.65" fill="#8c9dcc" />
<rect x="282.20" y="537.25" width="11.30" height="2.00" fill="#8395c7" />
<rect x="282.20" y="539.20" width="11.30" height="0.70" fill="#7286bf" />
<rect x="282.20" y="539.85" width="11.30" height="0.70" fill="#7b8fc3" />
<rect x="282.20" y="540.50" width="11.30" height="1.35" fill="#d9e0f1" />
<rect x="282.20" y="541.80" width="11.30" height="1.35" fill="#2a489c" />
<rect x="282.20" y="543.10" width="11.30" height="0.70" fill="#e1e7f5" />
<rect x="282.20" y="543.75" width="11.30" height="1.35" fill="#647ab8" />
<rect x="282.20" y="545.05" width="11.30" height="2.65" fill="#90a1ce" />
<rect x="282.20" y="547.65" width="11.30" height="0.70" fill="#8d9ecc" />
<rect x="282.20" y="548.30" width="11.30" height="0.70" fill="#6a80bb" />
<rect x="282.20" y="548.95" width="11.30" height="1.35" fill="#adbadb" />
<rect x="282.20" y="550.25" width="11.30" height="2.65" fill="#cfd8ec" />
<rect x="282.20" y="552.85" width="11.30" height="2.00" fill="#7f92c5" />
<rect x="282.20" y="554.80" width="11.30" height="0.70" fill="#526aaf" />
<rect x="282.20" y="555.45" width="11.30" height="2.65" fill="#455fa9" />
<rect x="282.20" y="558.05" width="11.30" height="2.00" fill="#8c9dcb" />
<rect x="282.20" y="560.00" width="11.30" height="1.35" fill="#7084be" />
<rect x="282.20" y="561.30" width="11.30" height="1.35" fill="#7488c0" />
<rect x="282.20" y="562.60" width="11.30" height="2.65" fill="#5870b2" />
<rect x="282.20" y="565.20" width="11.30" height="1.35" fill="#8d9ecc" />
<rect x="282.20" y="566.50" width="11.30" height="0.70" fill="#7185be" />
<rect x="282.20" y="567.15" width="11.30" height="2.65" fill="#526aaf" />
<rect x="282.20" y="569.75" width="11.30" height="0.70" fill="#778bc1" />
<rect x="282.20" y="570.40" width="11.30" height="2.00" fill="#5d74b5" />
<rect x="282.20" y="572.35" width="11.30" height="1.35" fill="#566eb1" />
<rect x="282.20" y="573.65" width="11.30" height="2.65" fill="#8396c7" />
<rect x="282.20" y="576.25" width="11.30" height="0.70" fill="#7085be" />
<rect x="282.20" y="576.90" width="11.30" height="1.35" fill="#8f9fcd" />
<rect x="282.20" y="578.20" width="11.30" height="0.70" fill="#4c65ac" />
<rect x="282.20" y="578.85" width="11.30" height="2.65" fill="#9aa9d2" />
<rect x="282.20" y="581.45" width="11.30" height="2.65" fill="#cdd6eb" />
<rect x="282.20" y="584.05" width="11.30" height="1.35" fill="#687eba" />
<rect x="282.20" y="585.35" width="11.30" height="2.65" fill="#a5b2d7" />
<rect x="282.20" y="587.95" width="11.30" height="0.70" fill="#7d90c4" />
<rect x="282.20" y="588.60" width="11.30" height="2.00" fill="#d7def0" />
<rect x="282.20" y="590.55" width="11.30" height="2.65" fill="#8a9bca" />
<rect x="282.20" y="593.15" width="11.30" height="1.35" fill="#6279b7" />
<rect x="282.20" y="594.45" width="11.30" height="1.35" fill="#3753a2" />
<rect x="282.20" y="595.75" width="11.30" height="0.70" fill="#93a3cf" />
<rect x="282.20" y="596.40" width="11.30" height="2.00" fill="#8395c7" />
<rect x="282.20" y="598.35" width="11.30" height="1.35" fill="#6379b8" />
<rect x="282.20" y="599.65" width="11.30" height="0.70" fill="#8799c9" />
<rect x="282.20" y="600.30" width="11.30" height="2.65" fill="#7388c0" />
<rect x="282.20" y="602.90" width="11.30" height="1.35" fill="#e8edf8" />
<rect x="282.20" y="604.20" width="11.30" height="0.70" fill="#3b56a4" />
<rect x="282.20" y="604.85" width="11.30" height="0.70" fill="#5c74b4" />
<rect x="282.20" y="605.50" width="11.30" height="1.35" fill="#526aaf" />
<rect x="282.20" y="606.80" width="11.30" height="2.00" fill="#dbe2f2" />
<rect x="282.20" y="608.75" width="11.30" height="0.70" fill="#8698c9" />
<rect x="282.20" y="609.40" width="11.30" height="0.70" fill="#4e67ad" />
<rect x="282.20" y="610.05" width="11.30" height="2.65" fill="#96a6d0" />
<rect x="282.20" y="612.65" width="11.30" height="1.35" fill="#cfd7ec" />
<rect x="282.20" y="613.95" width="11.30" height="1.35" fill="#8697c8" />
<rect x="282.20" y="615.25" width="11.30" height="1.35" fill="#d0d8ec" />
<rect x="282.20" y="616.55" width="11.30" height="1.35" fill="#a6b3d8" />
<rect x="282.20" y="617.85" width="11.30" height="2.00" fill="#798dc2" />
<rect x="282.20" y="619.80" width="11.30" height="0.70" fill="#4a64ac" />
<rect x="282.20" y="620.45" width="11.30" height="0.70" fill="#3854a3" />
<rect x="282.20" y="621.10" width="11.30" height="0.70" fill="#eff3fb" />
<rect x="282.20" y="621.75" width="11.30" height="1.35" fill="#7387bf" />
<rect x="282.20" y="623.05" width="11.30" height="1.35" fill="#90a1ce" />
<rect x="282.20" y="624.35" width="11.30" height="1.35" fill="#8799c9" />
<rect x="282.20" y="625.65" width="11.30" height="0.70" fill="#6379b8" />
<rect x="282.20" y="626.30" width="11.30" height="1.35" fill="#4a64ac" />
<rect x="282.20" y="627.60" width="11.30" height="2.00" fill="#8799c9" />
<rect x="282.20" y="629.55" width="11.30" height="1.35" fill="#d1d9ed" />
<rect x="282.20" y="630.85" width="11.30" height="1.35" fill="#798cc2" />
<rect x="282.20" y="632.15" width="11.30" height="0.70" fill="#3e59a6" />
<rect x="282.20" y="632.80" width="11.30" height="0.70" fill="#8799c9" />
<rect x="282.20" y="633.45" width="11.30" height="0.70" fill="#697eba" />
<rect x="282.20" y="634.10" width="11.30" height="1.35" fill="#7286bf" />
<rect x="282.20" y="635.40" width="11.30" height="1.35" fill="#7186bf" />
<rect x="282.20" y="636.70" width="11.30" height="1.35" fill="#4660aa" />
<rect x="282.20" y="638.00" width="11.30" height="0.70" fill="#5c73b4" />
<rect x="282.20" y="638.65" width="11.30" height="1.35" fill="#6e83bd" />
<rect x="282.20" y="639.95" width="11.30" height="2.00" fill="#4a64ac" />
<rect x="282.20" y="641.90" width="11.30" height="0.70" fill="#334fa0" />
<rect x="282.20" y="642.55" width="11.30" height="2.00" fill="#7f91c5" />
<rect x="282.20" y="644.50" width="11.30" height="2.65" fill="#8698c9" />
<rect x="282.20" y="647.10" width="11.30" height="2.65" fill="#6c81bc" />
<rect x="282.20" y="649.70" width="11.30" height="0.70" fill="#7287bf" />
<rect x="282.20" y="650.35" width="11.30" height="2.00" fill="#5169af" />
<rect x="282.20" y="652.30" width="11.30" height="2.65" fill="#8799c9" />
<rect x="282.20" y="654.90" width="11.30" height="0.70" fill="#8899c9" />
<rect x="282.20" y="655.55" width="11.30" height="0.70" fill="#8a9bcb" />
<rect x="282.20" y="656.20" width="11.30" height="2.00" fill="#5c73b4" />
<rect x="282.20" y="658.15" width="11.30" height="2.65" fill="#b2bede" />
<rect x="282.20" y="660.75" width="11.30" height="1.35" fill="#5a72b3" />
<rect x="282.20" y="662.05" width="11.30" height="0.70" fill="#3f5aa6" />
<rect x="282.20" y="662.70" width="11.30" height="0.70" fill="#cbd4ea" />
<rect x="282.20" y="663.35" width="11.30" height="1.35" fill="#6f84bd" />
<rect x="282.20" y="664.65" width="11.30" height="2.65" fill="#a7b5d9" />
<rect x="282.20" y="667.25" width="11.30" height="0.70" fill="#4c66ad" />
<rect x="282.20" y="667.90" width="11.30" height="2.00" fill="#405aa6" />
<rect x="282.20" y="669.85" width="11.30" height="1.35" fill="#7f92c5" />
<rect x="282.20" y="671.15" width="11.30" height="2.00" fill="#3753a2" />
<rect x="282.20" y="673.10" width="11.30" height="0.70" fill="#cfd7ec" />
<rect x="282.20" y="673.75" width="11.30" height="0.70" fill="#9faed5" />
<rect x="282.20" y="674.40" width="11.30" height="2.65" fill="#91a2ce" />
<rect x="282.20" y="677.00" width="11.30" height="0.70" fill="#95a5d0" />
<rect x="282.20" y="677.65" width="11.30" height="0.70" fill="#29479b" />
<rect x="282.20" y="678.30" width="11.30" height="1.35" fill="#cdd6eb" />
<rect x="282.20" y="679.60" width="11.30" height="0.70" fill="#7c8fc4" />
<rect x="282.20" y="680.25" width="11.30" height="1.35" fill="#657bb8" />
<rect x="282.20" y="681.55" width="11.30" height="0.70" fill="#edf1fb" />
<rect x="282.20" y="682.20" width="11.30" height="0.70" fill="#7e91c5" />
<rect x="282.20" y="682.85" width="11.30" height="2.00" fill="#546db0" />
<rect x="282.20" y="684.80" width="11.30" height="2.00" fill="#314e9f" />
<rect x="282.20" y="686.75" width="11.30" height="0.70" fill="#6b80bc" />
<rect x="282.20" y="687.40" width="11.30" height="1.35" fill="#7589c0" />
<rect x="282.20" y="688.70" width="11.30" height="0.70" fill="#9cabd3" />
<rect x="282.20" y="689.35" width="11.30" height="2.65" fill="#b7c2e0" />
<rect x="282.20" y="691.95" width="11.30" height="0.70" fill="#8899c9" />
<rect x="282.20" y="692.60" width="11.30" height="1.35" fill="#788cc2" />
<rect x="282.20" y="693.90" width="11.30" height="0.70" fill="#6178b7" />
<rect x="282.20" y="694.55" width="11.30" height="2.00" fill="#3450a1" />
<rect x="282.20" y="696.50" width="11.30" height="2.00" fill="#667cb9" />
<rect x="282.20" y="698.45" width="11.30" height="0.70" fill="#8193c6" />
<rect x="282.20" y="699.10" width="11.30" height="1.35" fill="#4862aa" />
<rect x="282.20" y="700.40" width="11.30" height="0.70" fill="#6c81bc" />
<rect x="282.20" y="701.05" width="11.30" height="2.65" fill="#91a1ce" />
<rect x="282.20" y="703.65" width="11.30" height="0.70" fill="#7a8dc3" />
<rect x="282.20" y="704.30" width="11.30" height="0.70" fill="#97a7d1" />
<rect x="282.20" y="704.95" width="11.30" height="1.35" fill="#2b499d" />
<rect x="282.20" y="706.25" width="11.30" height="2.65" fill="#6d82bd" />
<rect x="282.20" y="708.85" width="11.30" height="0.70" fill="#6a7fbb" />
<rect x="282.20" y="709.50" width="11.30" height="2.65" fill="#3451a1" />
<rect x="282.20" y="712.10" width="11.30" height="0.70" fill="#798cc2" />
<rect x="282.20" y="712.75" width="11.30" height="0.70" fill="#697eba" />
<rect x="282.20" y="713.40" width="11.30" height="0.70" fill="#425ca7" />
<rect x="282.20" y="714.05" width="11.30" height="1.35" fill="#afbcdd" />
<rect x="282.20" y="715.35" width="11.30" height="2.65" fill="#8798c9" />
<rect x="282.20" y="717.95" width="11.30" height="0.70" fill="#3551a1" />
<rect x="282.20" y="718.60" width="11.30" height="0.70" fill="#768ac1" />
<rect x="282.20" y="719.25" width="11.30" height="1.35" fill="#c9d2e9" />
<rect x="282.20" y="720.55" width="11.30" height="0.70" fill="#94a4d0" />
<rect x="282.20" y="721.20" width="11.30" height="1.35" fill="#93a4cf" />
<rect x="282.20" y="722.50" width="11.30" height="2.65" fill="#90a1ce" />
<rect x="282.20" y="725.10" width="11.30" height="1.35" fill="#94a4d0" />
<rect x="282.20" y="726.40" width="11.30" height="2.00" fill="#a6b3d8" />
<rect x="282.20" y="728.35" width="11.30" height="2.65" fill="#7387bf" />
<rect x="282.20" y="730.95" width="11.30" height="1.35" fill="#7e91c5" />
<rect x="282.20" y="732.25" width="11.30" height="2.00" fill="#7e91c5" />
<rect x="282.20" y="734.20" width="11.30" height="1.35" fill="#7e91c5" />
<rect x="282.20" y="735.50" width="11.30" height="1.35" fill="#5a72b3" />
<rect x="282.20" y="736.80" width="11.30" height="0.70" fill="#3955a3" />
<rect x="282.20" y="737.45" width="11.30" height="2.00" fill="#2d4a9d" />
<rect x="282.20" y="739.40" width="11.30" height="0.70" fill="#4d66ad" />
<rect x="282.20" y="740.05" width="11.30" height="2.65" fill="#4d66ad" />
<rect x="282.20" y="742.65" width="11.30" height="2.65" fill="#6b81bc" />
<rect x="282.20" y="745.25" width="11.30" height="1.35" fill="#e2e8f5" />
<rect x="282.20" y="746.55" width="11.30" height="1.35" fill="#667cb9" />
<rect x="282.20" y="747.85" width="11.30" height="0.70" fill="#e8edf8" />
<rect x="282.20" y="748.50" width="11.30" height="0.70" fill="#556db1" />
<rect x="282.20" y="749.15" width="11.30" height="2.00" fill="#647ab8" />
<rect x="282.20" y="751.10" width="11.30" height="0.70" fill="#405ba7" />
<rect x="282.20" y="751.75" width="11.30" height="2.65" fill="#6077b6" />
<rect x="282.20" y="754.35" width="11.30" height="2.65" fill="#7c8fc4" />
<rect x="282.20" y="756.95" width="11.30" height="1.35" fill="#8193c6" />
<rect x="282.20" y="758.25" width="11.30" height="1.35" fill="#6f84be" />
<rect x="282.20" y="759.55" width="11.30" height="0.70" fill="#8597c8" />
<rect x="282.20" y="760.20" width="11.30" height="1.35" fill="#b3bfdf" />
<rect x="282.20" y="761.50" width="11.30" height="1.35" fill="#8496c8" />
<rect x="282.20" y="762.80" width="11.30" height="0.70" fill="#7286bf" />
<rect x="282.20" y="763.45" width="11.30" height="0.70" fill="#8294c7" />
<rect x="282.20" y="764.10" width="11.30" height="2.65" fill="#8597c8" />
<rect x="282.20" y="766.70" width="11.30" height="1.85" fill="#7f91c5" />
<rect x="293.50" y="527.50" width="11.00" height="3.30" fill="#b5b5b5" />
<rect x="293.50" y="530.75" width="11.00" height="0.70" fill="#808080" />
<rect x="293.50" y="531.40" width="11.00" height="3.30" fill="#cbcbcb" />
<rect x="293.50" y="534.65" width="11.00" height="3.30" fill="#f9f9f9" />
<rect x="293.50" y="537.90" width="11.00" height="1.35" fill="#9c9c9c" />
<rect x="293.50" y="539.20" width="11.00" height="1.35" fill="#ebebeb" />
<rect x="293.50" y="540.50" width="11.00" height="0.70" fill="#cccccc" />
<rect x="293.50" y="541.15" width="11.00" height="1.35" fill="#c4c4c4" />
<rect x="293.50" y="542.45" width="11.00" height="1.35" fill="#888888" />
<rect x="293.50" y="543.75" width="11.00" height="0.70" fill="#b7b7b7" />
<rect x="293.50" y="544.40" width="11.00" height="2.00" fill="#fbfbfb" />
<rect x="293.50" y="546.35" width="11.00" height="2.00" fill="#b3b3b3" />
<rect x="293.50" y="548.30" width="11.00" height="3.30" fill="#9b9b9b" />
<rect x="293.50" y="551.55" width="11.00" height="1.35" fill="#ececec" />
<rect x="293.50" y="552.85" width="11.00" height="3.30" fill="#bababa" />
<rect x="293.50" y="556.10" width="11.00" height="2.65" fill="#cccccc" />
<rect x="293.50" y="558.70" width="11.00" height="1.35" fill="#f1f1f1" />
<rect x="293.50" y="560.00" width="11.00" height="2.00" fill="#dedede" />
<rect x="293.50" y="561.95" width="11.00" height="2.65" fill="#a6a6a6" />
<rect x="293.50" y="564.55" width="11.00" height="2.00" fill="#bdbdbd" />
<rect x="293.50" y="566.50" width="11.00" height="1.35" fill="#a5a5a5" />
<rect x="293.50" y="567.80" width="11.00" height="2.65" fill="#bababa" />
<rect x="293.50" y="570.40" width="11.00" height="3.30" fill="#989898" />
<rect x="293.50" y="573.65" width="11.00" height="1.35" fill="#f2f2f2" />
<rect x="293.50" y="574.95" width="11.00" height="2.00" fill="#d5d5d5" />
<rect x="293.50" y="576.90" width="11.00" height="3.30" fill="#d4d4d4" />
<rect x="293.50" y="580.15" width="11.00" height="0.70" fill="#cfcfcf" />
<rect x="293.50" y="580.80" width="11.00" height="1.35" fill="#c7c7c7" />
<rect x="293.50" y="582.10" width="11.00" height="3.30" fill="#c9c9c9" />
<rect x="293.50" y="585.35" width="11.00" height="0.70" fill="#a5a5a5" />
<rect x="293.50" y="586.00" width="11.00" height="1.35" fill="#f5f5f5" />
<rect x="293.50" y="587.30" width="11.00" height="2.65" fill="#e3e3e3" />
<rect x="293.50" y="589.90" width="11.00" height="0.70" fill="#a7a7a7" />
<rect x="293.50" y="590.55" width="11.00" height="3.30" fill="#bebebe" />
<rect x="293.50" y="593.80" width="11.00" height="0.70" fill="#adadad" />
<rect x="293.50" y="594.45" width="11.00" height="1.35" fill="#dadada" />
<rect x="293.50" y="595.75" width="11.00" height="2.65" fill="#737373" />
<rect x="293.50" y="598.35" width="11.00" height="2.00" fill="#cdcdcd" />
<rect x="293.50" y="600.30" width="11.00" height="3.30" fill="#bfbfbf" />
<rect x="293.50" y="603.55" width="11.00" height="1.35" fill="#9b9b9b" />
<rect x="293.50" y="604.85" width="11.00" height="1.35" fill="#f6f6f6" />
<rect x="293.50" y="606.15" width="11.00" height="2.00" fill="#f6f6f6" />
<rect x="293.50" y="608.10" width="11.00" height="1.35" fill="#b2b2b2" />
<rect x="293.50" y="609.40" width="11.00" height="0.70" fill="#929292" />
<rect x="293.50" y="610.05" width="11.00" height="1.35" fill="#f8f8f8" />
<rect x="293.50" y="611.35" width="11.00" height="2.00" fill="#aeaeae" />
<rect x="293.50" y="613.30" width="11.00" height="1.35" fill="#b4b4b4" />
<rect x="293.50" y="614.60" width="11.00" height="1.35" fill="#b9b9b9" />
<rect x="293.50" y="615.90" width="11.00" height="3.30" fill="#afafaf" />
<rect x="293.50" y="619.15" width="11.00" height="1.35" fill="#d7d7d7" />
<rect x="293.50" y="620.45" width="11.00" height="2.00" fill="#e6e6e6" />
<rect x="293.50" y="622.40" width="11.00" height="3.30" fill="#f0f0f0" />
<rect x="293.50" y="625.65" width="11.00" height="2.65" fill="#a5a5a5" />
<rect x="293.50" y="628.25" width="11.00" height="2.65" fill="#bbbbbb" />
<rect x="293.50" y="630.85" width="11.00" height="1.35" fill="#f6f6f6" />
<rect x="293.50" y="632.15" width="11.00" height="2.65" fill="#c7c7c7" />
<rect x="293.50" y="634.75" width="11.00" height="2.00" fill="#b3b3b3" />
<rect x="293.50" y="636.70" width="11.00" height="1.35" fill="#e3e3e3" />
<rect x="293.50" y="638.00" width="11.00" height="2.00" fill="#fafafa" />
<rect x="293.50" y="639.95" width="11.00" height="2.00" fill="#999999" />
<rect x="293.50" y="641.90" width="11.00" height="3.30" fill="#969696" />
<rect x="293.50" y="645.15" width="11.00" height="1.35" fill="#bcbcbc" />
<rect x="293.50" y="646.45" width="11.00" height="1.35" fill="#c8c8c8" />
<rect x="293.50" y="647.75" width="11.00" height="1.35" fill="#f5f5f5" />
<rect x="293.50" y="649.05" width="11.00" height="0.70" fill="#cacaca" />
<rect x="293.50" y="649.70" width="11.00" height="1.35" fill="#999999" />
<rect x="293.50" y="651.00" width="11.00" height="1.35" fill="#acacac" />
<rect x="293.50" y="652.30" width="11.00" height="1.35" fill="#e4e4e4" />
<rect x="293.50" y="653.60" width="11.00" height="1.35" fill="#bebebe" />
<rect x="293.50" y="654.90" width="11.00" height="0.70" fill="#c4c4c4" />
<rect x="293.50" y="655.55" width="11.00" height="1.35" fill="#959595" />
<rect x="293.50" y="656.85" width="11.00" height="3.30" fill="#bdbdbd" />
<rect x="293.50" y="660.10" width="11.00" height="2.00" fill="#cbcbcb" />
<rect x="293.50" y="662.05" width="11.00" height="1.35" fill="#c2c2c2" />
<rect x="293.50" y="663.35" width="11.00" height="1.35" fill="#939393" />
<rect x="293.50" y="664.65" width="11.00" height="1.35" fill="#959595" />
<rect x="293.50" y="665.95" width="11.00" height="2.00" fill="#bbbbbb" />
<rect x="293.50" y="667.90" width="11.00" height="0.70" fill="#979797" />
<rect x="293.50" y="668.55" width="11.00" height="1.35" fill="#cdcdcd" />
<rect x="293.50" y="669.85" width="11.00" height="3.30" fill="#f4f4f4" />
<rect x="293.50" y="673.10" width="11.00" height="3.30" fill="#919191" />
<rect x="293.50" y="676.35" width="11.00" height="1.35" fill="#b9b9b9" />
<rect x="293.50" y="677.65" width="11.00" height="2.65" fill="#dcdcdc" />
<rect x="293.50" y="680.25" width="11.00" height="2.00" fill="#dfdfdf" />
<rect x="293.50" y="682.20" width="11.00" height="1.35" fill="#f9f9f9" />
<rect x="293.50" y="683.50" width="11.00" height="1.35" fill="#a4a4a4" />
<rect x="293.50" y="684.80" width="11.00" height="2.65" fill="#eaeaea" />
<rect x="293.50" y="687.40" width="11.00" height="2.65" fill="#dbdbdb" />
<rect x="293.50" y="690.00" width="11.00" height="2.00" fill="#cecece" />
<rect x="293.50" y="691.95" width="11.00" height="1.35" fill="#929292" />
<rect x="293.50" y="693.25" width="11.00" height="2.00" fill="#9d9d9d" />
<rect x="293.50" y="695.20" width="11.00" height="1.35" fill="#f5f5f5" />
<rect x="293.50" y="696.50" width="11.00" height="3.30" fill="#d9d9d9" />
<rect x="293.50" y="699.75" width="11.00" height="2.65" fill="#c7c7c7" />
<rect x="293.50" y="702.35" width="11.00" height="2.00" fill="#a8a8a8" />
<rect x="293.50" y="704.30" width="11.00" height="1.35" fill="#a5a5a5" />
<rect x="293.50" y="705.60" width="11.00" height="0.70" fill="#e0e0e0" />
<rect x="293.50" y="706.25" width="11.00" height="3.30" fill="#929292" />
<rect x="293.50" y="709.50" width="11.00" height="3.30" fill="#bcbcbc" />
<rect x="293.50" y="712.75" width="11.00" height="1.35" fill="#cccccc" />
<rect x="293.50" y="714.05" width="11.00" height="2.00" fill="#cacaca" />
<rect x="293.50" y="716.00" width="11.00" height="2.65" fill="#ababab" />
<rect x="293.50" y="718.60" width="11.00" height="1.35" fill="#8b8b8b" />
<rect x="293.50" y="719.90" width="11.00" height="2.65" fill="#8b8b8b" />
<rect x="293.50" y="722.50" width="11.00" height="3.30" fill="#dcdcdc" />
<rect x="293.50" y="725.75" width="11.00" height="3.30" fill="#f1f1f1" />
<rect x="293.50" y="729.00" width="11.00" height="1.35" fill="#b6b6b6" />
<rect x="293.50" y="730.30" width="11.00" height="2.00" fill="#efefef" />
<rect x="293.50" y="732.25" width="11.00" height="1.35" fill="#c7c7c7" />
<rect x="293.50" y="733.55" width="11.00" height="3.30" fill="#fcfcfc" />
<rect x="293.50" y="736.80" width="11.00" height="1.35" fill="#c3c3c3" />
<rect x="293.50" y="738.10" width="11.00" height="3.30" fill="#fbfbfb" />
<rect x="293.50" y="741.35" width="11.00" height="3.30" fill="#c9c9c9" />
<rect x="293.50" y="744.60" width="11.00" height="1.35" fill="#e4e4e4" />
<rect x="293.50" y="745.90" width="11.00" height="1.35" fill="#e5e5e5" />
<rect x="293.50" y="747.20" width="11.00" height="0.70" fill="#999999" />
<rect x="293.50" y="747.85" width="11.00" height="2.65" fill="#a2a2a2" />
<rect x="293.50" y="750.45" width="11.00" height="1.35" fill="#d2d2d2" />
<rect x="293.50" y="751.75" width="11.00" height="0.70" fill="#bababa" />
<rect x="293.50" y="752.40" width="11.00" height="2.00" fill="#c7c7c7" />
<rect x="293.50" y="754.35" width="11.00" height="3.30" fill="#858585" />
<rect x="293.50" y="757.60" width="11.00" height="0.70" fill="#8f8f8f" />
<rect x="293.50" y="758.25" width="11.00" height="1.35" fill="#fcfcfc" />
<rect x="293.50" y="759.55" width="11.00" height="0.70" fill="#cacaca" />
<rect x="293.50" y="760.20" width="11.00" height="2.65" fill="#ebebeb" />
<rect x="293.50" y="762.80" width="11.00" height="0.70" fill="#d0d0d0" />
<rect x="293.50" y="763.45" width="11.00" height="1.35" fill="#767676" />
<rect x="293.50" y="764.75" width="11.00" height="2.00" fill="#c0c0c0" />
<rect x="293.50" y="766.70" width="11.00" height="0.70" fill="#bfbfbf" />
<rect x="293.50" y="767.35" width="11.00" height="1.20" fill="#f5f5f5" />
<rect x="248.50" y="527.50" width="56.00" height="241.00" fill="none" stroke="#222" stroke-width="1.1"/>
<rect x="314.50" y="527.50" width="33.00" height="241.00" fill="#ffffff" />
<rect x="314.50" y="549.94" width="11.00" height="2.04" fill="#c1e2c5" />
<rect x="314.50" y="553.34" width="11.00" height="2.26" fill="#c5e4c9" />
<rect x="314.50" y="558.37" width="11.00" height="1.95" fill="#d5edd7" />
<rect x="314.50" y="600.69" width="11.00" height="2.56" fill="#b6dcbc" />
<rect x="314.50" y="608.36" width="11.00" height="2.52" fill="#cfead2" />
<rect x="314.50" y="615.39" width="11.00" height="1.75" fill="#bcdfc1" />
<rect x="314.50" y="618.70" width="11.00" height="2.24" fill="#d0ebd3" />
<rect x="314.50" y="656.35" width="11.00" height="2.11" fill="#dbf1dd" />
<rect x="314.50" y="663.47" width="11.00" height="2.03" fill="#dbf1dc" />
<rect x="314.50" y="669.78" width="11.00" height="2.34" fill="#cfead2" />
<rect x="314.50" y="684.16" width="11.00" height="2.08" fill="#c9e6cd" />
<rect x="314.50" y="689.62" width="11.00" height="0.86" fill="#d7eed9" />
<rect x="314.50" y="738.80" width="11.00" height="1.42" fill="#d3ecd6" />
<rect x="314.50" y="748.19" width="11.00" height="2.47" fill="#d8efda" />
<rect x="314.50" y="753.19" width="11.00" height="1.46" fill="#b5dbbb" />
<rect x="314.50" y="761.02" width="11.00" height="2.34" fill="#d6eed8" />
<rect x="325.50" y="533.13" width="11.00" height="3.52" fill="#5eaa6d" />
<rect x="325.50" y="538.59" width="11.00" height="1.81" fill="#58a769" />
<rect x="325.50" y="540.98" width="11.00" height="3.05" fill="#489d5a" />
<rect x="325.50" y="544.91" width="11.00" height="2.47" fill="#96caa0" />
<rect x="325.50" y="547.93" width="11.00" height="2.09" fill="#71b47e" />
<rect x="325.50" y="550.85" width="11.00" height="3.35" fill="#66ae75" />
<rect x="325.50" y="556.59" width="11.00" height="2.46" fill="#70b47e" />
<rect x="325.50" y="559.06" width="11.00" height="1.89" fill="#83be8e" />
<rect x="325.50" y="563.68" width="11.00" height="3.71" fill="#3d9750" />
<rect x="325.50" y="574.33" width="11.00" height="3.99" fill="#309045" />
<rect x="325.50" y="585.23" width="11.00" height="1.98" fill="#7ebc8a" />
<rect x="325.50" y="588.55" width="11.00" height="3.68" fill="#93c89d" />
<rect x="325.50" y="593.76" width="11.00" height="1.80" fill="#298c3f" />
<rect x="325.50" y="597.79" width="11.00" height="1.54" fill="#88c293" />
<rect x="325.50" y="599.95" width="11.00" height="3.01" fill="#7bba87" />
<rect x="325.50" y="602.99" width="11.00" height="2.24" fill="#77b883" />
<rect x="325.50" y="609.53" width="11.00" height="3.07" fill="#93c89d" />
<rect x="325.50" y="613.51" width="11.00" height="1.64" fill="#469c59" />
<rect x="325.50" y="618.27" width="11.00" height="2.66" fill="#419a54" />
<rect x="325.50" y="623.41" width="11.00" height="2.34" fill="#85c091" />
<rect x="325.50" y="626.21" width="11.00" height="1.66" fill="#6cb27a" />
<rect x="325.50" y="628.62" width="11.00" height="2.10" fill="#3a954e" />
<rect x="325.50" y="634.28" width="11.00" height="3.24" fill="#58a668" />
<rect x="325.50" y="640.97" width="11.00" height="2.86" fill="#499e5b" />
<rect x="325.50" y="644.10" width="11.00" height="2.38" fill="#75b782" />
<rect x="325.50" y="646.71" width="11.00" height="1.85" fill="#79b986" />
<rect x="325.50" y="654.48" width="11.00" height="1.94" fill="#5ca96c" />
<rect x="325.50" y="657.04" width="11.00" height="3.66" fill="#50a261" />
<rect x="325.50" y="661.44" width="11.00" height="1.87" fill="#98cba2" />
<rect x="325.50" y="664.67" width="11.00" height="3.11" fill="#38944c" />
<rect x="325.50" y="670.30" width="11.00" height="3.36" fill="#8cc497" />
<rect x="325.50" y="679.60" width="11.00" height="2.81" fill="#61ab70" />
<rect x="325.50" y="685.29" width="11.00" height="3.50" fill="#489d5a" />
<rect x="325.50" y="689.08" width="11.00" height="2.03" fill="#55a465" />
<rect x="325.50" y="691.96" width="11.00" height="2.25" fill="#90c69a" />
<rect x="325.50" y="694.22" width="11.00" height="2.40" fill="#3b964f" />
<rect x="325.50" y="701.54" width="11.00" height="2.97" fill="#80bd8c" />
<rect x="325.50" y="707.22" width="11.00" height="3.62" fill="#97caa0" />
<rect x="325.50" y="711.36" width="11.00" height="3.55" fill="#2d8e42" />
<rect x="325.50" y="715.47" width="11.00" height="1.43" fill="#96caa0" />
<rect x="325.50" y="718.20" width="11.00" height="2.80" fill="#91c79b" />
<rect x="325.50" y="723.90" width="11.00" height="3.39" fill="#2c8d41" />
<rect x="325.50" y="730.15" width="11.00" height="1.90" fill="#39954d" />
<rect x="325.50" y="733.84" width="11.00" height="1.28" fill="#58a668" />
<rect x="325.50" y="743.60" width="11.00" height="1.56" fill="#469c58" />
<rect x="325.50" y="745.87" width="11.00" height="3.08" fill="#6ab078" />
<rect x="325.50" y="749.65" width="11.00" height="1.87" fill="#94c99e" />
<rect x="325.50" y="753.03" width="11.00" height="2.22" fill="#319046" />
<rect x="325.50" y="755.79" width="11.00" height="1.34" fill="#97caa0" />
<rect x="325.50" y="760.39" width="11.00" height="3.03" fill="#75b782" />
<rect x="325.50" y="766.01" width="11.00" height="2.49" fill="#6bb179" />
<rect x="336.50" y="536.59" width="11.00" height="1.02" fill="#c2e2c6" />
<rect x="336.50" y="546.25" width="11.00" height="1.16" fill="#cae7cd" />
<rect x="336.50" y="559.12" width="11.00" height="2.33" fill="#b1d9b7" />
<rect x="336.50" y="575.62" width="11.00" height="0.99" fill="#a5d2ad" />
<rect x="336.50" y="600.45" width="11.00" height="1.59" fill="#b1d9b8" />
<rect x="336.50" y="614.95" width="11.00" height="2.32" fill="#d1ebd3" />
<rect x="336.50" y="618.89" width="11.00" height="1.80" fill="#b4dbba" />
<rect x="336.50" y="644.67" width="11.00" height="1.21" fill="#cdbed8" />
<rect x="336.50" y="646.37" width="11.00" height="0.98" fill="#a4d2ac" />
<rect x="336.50" y="652.00" width="11.00" height="1.90" fill="#d2ebd4" />
<rect x="336.50" y="667.18" width="11.00" height="1.82" fill="#bcdfc1" />
<rect x="336.50" y="669.93" width="11.00" height="1.49" fill="#d7efd9" />
<rect x="336.50" y="676.64" width="11.00" height="1.36" fill="#c2e3c7" />
<rect x="336.50" y="680.54" width="11.00" height="1.44" fill="#c3e3c7" />
<rect x="336.50" y="685.92" width="11.00" height="1.03" fill="#c9e7cd" />
<rect x="336.50" y="703.13" width="11.00" height="1.63" fill="#bddfc2" />
<rect x="336.50" y="708.15" width="11.00" height="1.80" fill="#dbf1dd" />
<rect x="336.50" y="724.77" width="11.00" height="1.97" fill="#a5d2ac" />
<rect x="336.50" y="735.89" width="11.00" height="2.32" fill="#d1c3db" />
<rect x="336.50" y="741.22" width="11.00" height="2.18" fill="#a7d3af" />
<rect x="336.50" y="763.47" width="11.00" height="2.36" fill="#b1d9b7" />
<rect x="336.50" y="531.73" width="11.00" height="0.80" fill="#3a8c4e" />
<rect x="314.50" y="532.60" width="11.00" height="1.00" fill="#3a8c4e" />
<rect x="314.50" y="533.02" width="33.00" height="1.00" fill="#3a8c4e" />
<rect x="314.50" y="533.37" width="11.00" height="0.80" fill="#3a8c4e" />
<rect x="325.50" y="538.94" width="22.00" height="0.80" fill="#3a8c4e" />
<rect x="314.50" y="542.25" width="33.00" height="0.60" fill="#3a8c4e" />
<rect x="314.50" y="544.09" width="11.00" height="0.60" fill="#3a8c4e" />
<rect x="336.50" y="544.09" width="11.00" height="0.80" fill="#3a8c4e" />
<rect x="314.50" y="546.96" width="33.00" height="0.60" fill="#5aa66a" />
<rect x="314.50" y="548.08" width="33.00" height="0.60" fill="#3a8c4e" />
<rect x="314.50" y="549.21" width="33.00" height="0.60" fill="#5aa66a" />
<rect x="314.50" y="552.34" width="33.00" height="0.80" fill="#3a8c4e" />
<rect x="314.50" y="557.81" width="11.00" height="0.60" fill="#3a8c4e" />
<rect x="314.50" y="561.87" width="22.00" height="1.00" fill="#5aa66a" />
<rect x="314.50" y="567.79" width="11.00" height="0.60" fill="#3a8c4e" />
<rect x="336.50" y="575.30" width="11.00" height="0.60" fill="#3a8c4e" />
<rect x="336.50" y="580.83" width="11.00" height="0.60" fill="#5aa66a" />
<rect x="314.50" y="580.92" width="11.00" height="0.60" fill="#3a8c4e" />
<rect x="314.50" y="582.12" width="33.00" height="0.80" fill="#3a8c4e" />
<rect x="314.50" y="586.50" width="22.00" height="1.00" fill="#3a8c4e" />
<rect x="314.50" y="590.19" width="22.00" height="0.60" fill="#3a8c4e" />
<rect x="325.50" y="598.47" width="22.00" height="0.60" fill="#3a8c4e" />
<rect x="336.50" y="602.02" width="11.00" height="1.00" fill="#3a8c4e" />
<rect x="336.50" y="604.04" width="11.00" height="0.60" fill="#5aa66a" />
<rect x="314.50" y="608.24" width="11.00" height="1.00" fill="#5aa66a" />
<rect x="314.50" y="614.04" width="33.00" height="0.80" fill="#5aa66a" />
<rect x="325.50" y="618.44" width="22.00" height="1.00" fill="#3a8c4e" />
<rect x="314.50" y="618.83" width="11.00" height="0.80" fill="#3a8c4e" />
<rect x="314.50" y="619.73" width="33.00" height="1.00" fill="#3a8c4e" />
<rect x="336.50" y="619.88" width="11.00" height="0.80" fill="#5aa66a" />
<rect x="314.50" y="623.06" width="33.00" height="0.60" fill="#3a8c4e" />
<rect x="314.50" y="624.80" width="33.00" height="1.00" fill="#3a8c4e" />
<rect x="325.50" y="627.87" width="22.00" height="0.60" fill="#3a8c4e" />
<rect x="336.50" y="627.94" width="11.00" height="1.00" fill="#5aa66a" />
<rect x="314.50" y="628.73" width="33.00" height="1.00" fill="#7a5f95" />
<rect x="325.50" y="630.46" width="22.00" height="1.00" fill="#5aa66a" />
<rect x="325.50" y="637.46" width="22.00" height="0.80" fill="#3a8c4e" />
<rect x="314.50" y="644.06" width="11.00" height="0.60" fill="#7a5f95" />
<rect x="336.50" y="645.11" width="11.00" height="1.00" fill="#3a8c4e" />
<rect x="314.50" y="659.95" width="33.00" height="1.00" fill="#3a8c4e" />
<rect x="314.50" y="661.66" width="33.00" height="1.00" fill="#3a8c4e" />
<rect x="314.50" y="670.18" width="22.00" height="0.80" fill="#5aa66a" />
<rect x="325.50" y="670.65" width="22.00" height="0.80" fill="#5aa66a" />
<rect x="314.50" y="671.11" width="22.00" height="0.80" fill="#5aa66a" />
<rect x="314.50" y="672.52" width="11.00" height="0.60" fill="#3a8c4e" />
<rect x="325.50" y="675.28" width="22.00" height="1.00" fill="#3a8c4e" />
<rect x="314.50" y="679.03" width="33.00" height="0.60" fill="#3a8c4e" />
<rect x="314.50" y="683.94" width="33.00" height="0.80" fill="#3a8c4e" />
<rect x="314.50" y="689.91" width="11.00" height="1.00" fill="#5aa66a" />
<rect x="325.50" y="696.37" width="22.00" height="1.00" fill="#3a8c4e" />
<rect x="314.50" y="699.52" width="33.00" height="0.80" fill="#5aa66a" />
<rect x="314.50" y="714.62" width="33.00" height="0.60" fill="#3a8c4e" />
<rect x="336.50" y="717.43" width="11.00" height="0.60" fill="#3a8c4e" />
<rect x="336.50" y="720.23" width="11.00" height="0.60" fill="#3a8c4e" />
<rect x="314.50" y="723.77" width="11.00" height="1.00" fill="#3a8c4e" />
<rect x="314.50" y="725.09" width="11.00" height="1.00" fill="#3a8c4e" />
<rect x="314.50" y="728.02" width="11.00" height="0.60" fill="#5aa66a" />
<rect x="314.50" y="730.81" width="33.00" height="1.00" fill="#3a8c4e" />
<rect x="314.50" y="731.12" width="22.00" height="0.60" fill="#3a8c4e" />
<rect x="336.50" y="733.82" width="11.00" height="0.60" fill="#3a8c4e" />
<rect x="314.50" y="736.61" width="33.00" height="0.60" fill="#5aa66a" />
<rect x="336.50" y="740.68" width="11.00" height="1.00" fill="#3a8c4e" />
<rect x="325.50" y="744.05" width="22.00" height="0.60" fill="#3a8c4e" />
<rect x="314.50" y="747.59" width="11.00" height="0.60" fill="#5aa66a" />
<rect x="325.50" y="749.15" width="22.00" height="0.80" fill="#3a8c4e" />
<rect x="336.50" y="751.44" width="11.00" height="0.60" fill="#5aa66a" />
<rect x="314.50" y="752.56" width="22.00" height="0.80" fill="#3a8c4e" />
<rect x="336.50" y="755.93" width="11.00" height="0.80" fill="#5aa66a" />
<rect x="336.50" y="757.06" width="11.00" height="0.80" fill="#5aa66a" />
<rect x="336.50" y="761.99" width="11.00" height="0.80" fill="#3a8c4e" />
<rect x="314.50" y="762.04" width="22.00" height="0.80" fill="#5aa66a" />
<rect x="336.50" y="765.81" width="11.00" height="1.00" fill="#3a8c4e" />
<rect x="314.50" y="766.05" width="11.00" height="1.00" fill="#5aa66a" />
<rect x="314.50" y="527.50" width="33.00" height="241.00" fill="none" stroke="#333" stroke-width="1.1"/>
<text x="0" y="0" font-size="7.1" fill="#222" transform="translate(261.00,522.6) rotate(-45)">MM.1S ChromHMM</text>
<text x="0" y="0" font-size="7.1" fill="#222" transform="translate(277.00,522.6) rotate(-45)">MAF ChIPseq</text>
<text x="0" y="0" font-size="7.1" fill="#222" transform="translate(288.30,522.6) rotate(-45)">MAF<tspan font-size="5.5">vs</tspan>ND ATACseq</text>
<text x="0" y="0" font-size="7.1" fill="#222" transform="translate(298.60,522.6) rotate(-45)">MAF<tspan font-size="5.5">vs</tspan>EV ATACseq</text>
<text x="0" y="0" font-size="7.1" fill="#222" transform="translate(319.00,522.6) rotate(-45)">BETA (ChIPseq +kdRNAseq)</text>
<text x="0" y="0" font-size="7.1" fill="#222" transform="translate(330.00,522.6) rotate(-45)">MAF<tspan font-size="5.5">vs</tspan>ND RNAseq</text>
<text x="0" y="0" font-size="7.1" fill="#222" transform="translate(341.00,522.6) rotate(-45)">MAF<tspan font-size="5.5">vs</tspan>EV RNAseq</text>
<line x1="352.50" y1="534.20" x2="358.60" y2="534.20" stroke="#111" stroke-width="1.3" />
<path d="M354.0,531.90 L349.4,534.20 L354.0,536.50 Z" fill="#111"/>
<text x="360.80" y="536.80" font-size="7.4" text-anchor="start" fill="#111" font-weight="bold" font-style="italic" >NUAK1</text>
<line x1="352.50" y1="611.50" x2="358.60" y2="611.50" stroke="#111" stroke-width="1.3" />
<path d="M354.0,609.20 L349.4,611.50 L354.0,613.80 Z" fill="#111"/>
<text x="360.80" y="614.10" font-size="7.4" text-anchor="start" fill="#111" font-weight="bold" font-style="italic" >CX3CR1</text>
<line x1="352.50" y1="678.30" x2="358.60" y2="678.30" stroke="#111" stroke-width="1.3" />
<path d="M354.0,676.00 L349.4,678.30 L354.0,680.60 Z" fill="#111"/>
<text x="360.80" y="680.90" font-size="7.4" text-anchor="start" fill="#111" font-weight="bold" font-style="italic" >CCR1</text>
<text x="0" y="0" font-size="7.4" fill="#d0464a" text-anchor="middle" transform="translate(232.0,580.0) rotate(-90)">Validated MAF-activated</text>
<text x="0" y="0" font-size="7.4" fill="#d0464a" text-anchor="middle" transform="translate(241.0,580.3) rotate(-90)">promoters <tspan font-style="italic">(196)</tspan></text>
<text x="0" y="0" font-size="7.4" fill="#f0a060" text-anchor="middle" transform="translate(231.6,706.1) rotate(-90)">Validated MAF-activated</text>
<text x="0" y="0" font-size="7.4" fill="#f0a060" text-anchor="middle" transform="translate(241.0,707.0) rotate(-90)">enhancers <tspan font-style="italic">(166)</tspan></text>
<rect x="410.80" y="661.00" width="5.20" height="5.20" fill="#c8101a" stroke="#1a1a1a" stroke-width="0.9"/>
<rect x="410.80" y="668.30" width="5.20" height="5.20" fill="#ea7a1c" stroke="#1a1a1a" stroke-width="0.9"/>
<text x="419.20" y="666.20" font-size="6.94" text-anchor="start" fill="#222" stroke="#222" stroke-width="0.16" textLength="52.80" lengthAdjust="spacingAndGlyphs" >Active Promoters</text>
<text x="419.20" y="673.50" font-size="6.91" text-anchor="start" fill="#222" stroke="#222" stroke-width="0.16" textLength="53.80" lengthAdjust="spacingAndGlyphs" >Active Enhancers</text>
<text x="414.20" y="688.10" font-size="6.92" text-anchor="start" fill="#222" stroke="#222" stroke-width="0.16" textLength="39.60" lengthAdjust="spacingAndGlyphs" >Fold Change</text>
<text x="422.80" y="694.50" font-size="6.91" text-anchor="start" fill="#222" stroke="#222" stroke-width="0.16" textLength="24.20" lengthAdjust="spacingAndGlyphs" >vs Input</text>
<defs><linearGradient id="gR" x1="0" x2="1"><stop offset="0" stop-color="#fff"/><stop offset="0.5" stop-color="#d86060"/><stop offset="0.85" stop-color="#a01010"/><stop offset="1" stop-color="#400"/></linearGradient><linearGradient id="gB" x1="0" x2="1"><stop offset="0" stop-color="#fff"/><stop offset="0.55" stop-color="#4a90d0"/><stop offset="1" stop-color="#0a2a6a"/></linearGradient><linearGradient id="gK" x1="0" x2="1"><stop offset="0" stop-color="#fff"/><stop offset="0.6" stop-color="#777"/><stop offset="1" stop-color="#000"/></linearGradient><linearGradient id="gP" x1="0" x2="1"><stop offset="0" stop-color="#4a2a6a"/><stop offset="0.5" stop-color="#fff"/><stop offset="1" stop-color="#3a6a2a"/></linearGradient></defs>
<rect x="417.0" y="697.4" width="33.00" height="3.8" fill="url(#gR)" stroke="#111" stroke-width="0.8"/>
<rect x="417.0" y="728.8" width="33.00" height="3.8" fill="url(#gB)" stroke="#111" stroke-width="0.8"/>
<rect x="417.0" y="742.0" width="33.00" height="3.8" fill="url(#gK)" stroke="#111" stroke-width="0.8"/>
<rect x="416.2" y="756.5" width="33.00" height="3.8" fill="url(#gP)" stroke="#111" stroke-width="0.8"/>
<text x="417.20" y="708.00" font-size="7.5" text-anchor="middle" fill="#222" stroke="#222" stroke-width="0.16" >0</text>
<text x="450.00" y="708.00" font-size="7.5" text-anchor="middle" fill="#222" stroke="#222" stroke-width="0.16" >10</text>
<text x="403.80" y="726.10" font-size="7.01" text-anchor="start" fill="#222" stroke="#222" stroke-width="0.16" textLength="60.00" lengthAdjust="spacingAndGlyphs" >Fold Change (log2)</text>
<text x="417.20" y="740.00" font-size="7.5" text-anchor="middle" fill="#222" stroke="#222" stroke-width="0.16" >0</text>
<text x="450.00" y="740.00" font-size="7.5" text-anchor="middle" fill="#222" stroke="#222" stroke-width="0.16" >10</text>
<text x="417.20" y="753.40" font-size="7.5" text-anchor="middle" fill="#222" stroke="#222" stroke-width="0.16" >0</text>
<text x="449.50" y="753.40" font-size="7.5" text-anchor="middle" fill="#222" stroke="#222" stroke-width="0.16" >8</text>
<text x="417.20" y="767.60" font-size="7.5" text-anchor="middle" fill="#222" stroke="#222" stroke-width="0.16" >−2</text>
<text x="433.00" y="767.60" font-size="7.5" text-anchor="middle" fill="#222" stroke="#222" stroke-width="0.16" >0</text>
<text x="449.00" y="767.60" font-size="7.5" text-anchor="middle" fill="#222" stroke="#222" stroke-width="0.16" >2</text>
<rect x="0.5" y="0.5" width="519" height="776" fill="none" stroke="#444" stroke-width="1.2"/>
</svg>
</body></html>
